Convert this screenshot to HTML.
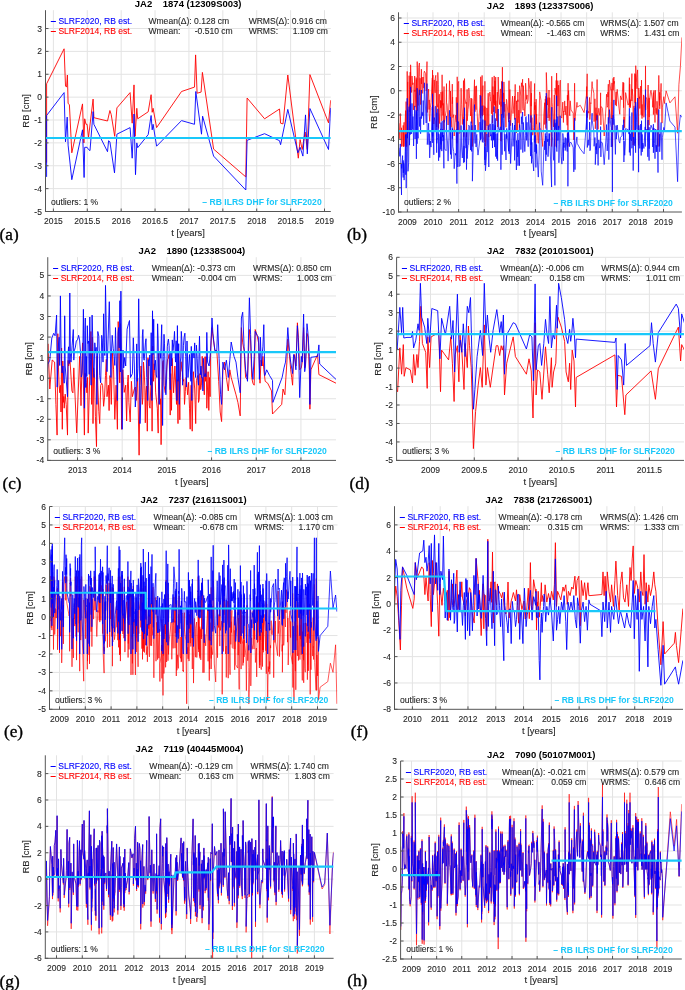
<!DOCTYPE html>
<html><head><meta charset="utf-8"><style>
html,body{margin:0;padding:0;background:#fff;width:685px;height:990px;overflow:hidden}
svg{display:block;will-change:transform}
text{font-family:"Liberation Sans", sans-serif;}
.tk{font-size:8.5px;fill:#262626;stroke:#262626;stroke-width:0.1px}
.lg{font-size:8.55px;fill:#262626;stroke:#262626;stroke-width:0.1px}
.al{font-size:9.45px;fill:#262626;stroke:#262626;stroke-width:0.1px}
.ti{font-size:9.5px;font-weight:bold;fill:#000}
.cy{font-size:8.6px;font-weight:bold;fill:#19c8fa}
.pl{font-family:"Liberation Serif", serif;font-size:17.2px;fill:#000;stroke:#000;stroke-width:0.35px}
</style></head><body>
<svg width="685" height="990" viewBox="0 0 685 990">
<rect width="685" height="990" fill="#fff"/>
<g>
<line x1="53.40" y1="10.20" x2="53.40" y2="211.50" stroke="#e3e3e3" stroke-width="1"/>
<line x1="87.29" y1="10.20" x2="87.29" y2="211.50" stroke="#e3e3e3" stroke-width="1"/>
<line x1="121.18" y1="10.20" x2="121.18" y2="211.50" stroke="#e3e3e3" stroke-width="1"/>
<line x1="155.06" y1="10.20" x2="155.06" y2="211.50" stroke="#e3e3e3" stroke-width="1"/>
<line x1="188.95" y1="10.20" x2="188.95" y2="211.50" stroke="#e3e3e3" stroke-width="1"/>
<line x1="222.84" y1="10.20" x2="222.84" y2="211.50" stroke="#e3e3e3" stroke-width="1"/>
<line x1="256.73" y1="10.20" x2="256.73" y2="211.50" stroke="#e3e3e3" stroke-width="1"/>
<line x1="290.61" y1="10.20" x2="290.61" y2="211.50" stroke="#e3e3e3" stroke-width="1"/>
<line x1="324.50" y1="10.20" x2="324.50" y2="211.50" stroke="#e3e3e3" stroke-width="1"/>
<line x1="45.50" y1="188.63" x2="330.80" y2="188.63" stroke="#e3e3e3" stroke-width="1"/>
<line x1="45.50" y1="165.76" x2="330.80" y2="165.76" stroke="#e3e3e3" stroke-width="1"/>
<line x1="45.50" y1="142.89" x2="330.80" y2="142.89" stroke="#e3e3e3" stroke-width="1"/>
<line x1="45.50" y1="120.01" x2="330.80" y2="120.01" stroke="#e3e3e3" stroke-width="1"/>
<line x1="45.50" y1="97.14" x2="330.80" y2="97.14" stroke="#e3e3e3" stroke-width="1"/>
<line x1="45.50" y1="74.27" x2="330.80" y2="74.27" stroke="#e3e3e3" stroke-width="1"/>
<line x1="45.50" y1="51.40" x2="330.80" y2="51.40" stroke="#e3e3e3" stroke-width="1"/>
<line x1="45.50" y1="28.53" x2="330.80" y2="28.53" stroke="#e3e3e3" stroke-width="1"/>
<clipPath id="ca"><rect x="45.5" y="10.2" width="285.3" height="201.3"/></clipPath>
<g clip-path="url(#ca)" fill="none" stroke-linejoin="round">
<path d="M46.6,162.6 46.6,83.8 64.1,48.8 65.5,86.0 66.6,87.1 67.4,75.0 68.1,103.5 69.4,104.6 71.8,152.8 82.5,103.9 83.9,142.9 84.7,118.8 86.0,124.3 87.1,124.3 88.5,137.4 93.1,99.1 93.9,117.7 107.5,121.0 109.9,110.5 111.2,114.5 114.7,136.3 116.9,107.9 130.1,92.6 132.2,123.2 134.0,84.9 135.1,136.3 136.8,108.3 137.7,118.8 148.2,111.8 151.1,94.7 152.2,112.3 153.1,108.3 156.6,127.6 181.5,91.5 194.5,87.1 195.6,54.9 197.1,93.2 201.1,92.1 202.4,72.4 213.6,149.1 245.8,176.9 247.1,98.0 264.6,118.8 279.5,109.0 280.6,123.2 283.0,123.9 287.8,75.0 298.3,158.2 300.1,139.6 302.2,149.5 305.1,132.0 307.3,149.5 309.9,74.6 328.5,122.8 330.7,100.2" stroke="#ff0000" stroke-width="0.9"/>
<path d="M46.6,176.9 46.6,115.5 64.1,92.6 65.5,141.8 67.2,117.1 68.1,145.1 71.8,179.7 82.5,129.8 84.1,177.5 84.7,147.3 87.1,147.3 88.5,149.5 90.0,150.6 93.1,111.6 93.9,124.3 107.5,151.7 108.6,140.7 109.9,141.8 114.5,172.9 116.9,134.2 130.1,127.6 132.2,158.2 134.0,114.0 135.5,174.7 136.8,142.9 137.7,147.7 148.2,134.6 151.1,115.5 152.2,129.8 153.1,124.3 156.6,146.2 181.5,120.6 194.5,124.3 195.8,91.5 201.5,134.2 202.6,116.2 213.6,156.1 245.8,190.0 247.1,140.3 264.6,133.7 279.5,140.7 280.6,144.7 287.8,109.4 297.9,152.8 300.1,147.3 302.9,156.1 305.5,114.9 307.3,153.9 309.9,108.5 328.5,149.5 330.7,107.9" stroke="#0000ff" stroke-width="0.9"/>
<path d="M45.5,138.0 330.8,138.0" stroke="#19c8fa" stroke-width="2.2"/>
</g>
<line x1="45.50" y1="10.20" x2="45.50" y2="212.00" stroke="#555555" stroke-width="1"/>
<line x1="45.00" y1="211.50" x2="330.80" y2="211.50" stroke="#555555" stroke-width="1"/>
<line x1="53.40" y1="211.50" x2="53.40" y2="208.50" stroke="#555555" stroke-width="1"/>
<text x="53.40" y="224.30" text-anchor="middle" class="tk">2015</text>
<line x1="87.29" y1="211.50" x2="87.29" y2="208.50" stroke="#555555" stroke-width="1"/>
<text x="87.29" y="224.30" text-anchor="middle" class="tk">2015.5</text>
<line x1="121.18" y1="211.50" x2="121.18" y2="208.50" stroke="#555555" stroke-width="1"/>
<text x="121.18" y="224.30" text-anchor="middle" class="tk">2016</text>
<line x1="155.06" y1="211.50" x2="155.06" y2="208.50" stroke="#555555" stroke-width="1"/>
<text x="155.06" y="224.30" text-anchor="middle" class="tk">2016.5</text>
<line x1="188.95" y1="211.50" x2="188.95" y2="208.50" stroke="#555555" stroke-width="1"/>
<text x="188.95" y="224.30" text-anchor="middle" class="tk">2017</text>
<line x1="222.84" y1="211.50" x2="222.84" y2="208.50" stroke="#555555" stroke-width="1"/>
<text x="222.84" y="224.30" text-anchor="middle" class="tk">2017.5</text>
<line x1="256.73" y1="211.50" x2="256.73" y2="208.50" stroke="#555555" stroke-width="1"/>
<text x="256.73" y="224.30" text-anchor="middle" class="tk">2018</text>
<line x1="290.61" y1="211.50" x2="290.61" y2="208.50" stroke="#555555" stroke-width="1"/>
<text x="290.61" y="224.30" text-anchor="middle" class="tk">2018.5</text>
<line x1="324.50" y1="211.50" x2="324.50" y2="208.50" stroke="#555555" stroke-width="1"/>
<text x="324.50" y="224.30" text-anchor="middle" class="tk">2019</text>
<line x1="45.50" y1="211.50" x2="48.50" y2="211.50" stroke="#555555" stroke-width="1"/>
<text x="41.90" y="214.50" text-anchor="end" class="tk">-5</text>
<line x1="45.50" y1="188.63" x2="48.50" y2="188.63" stroke="#555555" stroke-width="1"/>
<text x="41.90" y="191.63" text-anchor="end" class="tk">-4</text>
<line x1="45.50" y1="165.76" x2="48.50" y2="165.76" stroke="#555555" stroke-width="1"/>
<text x="41.90" y="168.76" text-anchor="end" class="tk">-3</text>
<line x1="45.50" y1="142.89" x2="48.50" y2="142.89" stroke="#555555" stroke-width="1"/>
<text x="41.90" y="145.89" text-anchor="end" class="tk">-2</text>
<line x1="45.50" y1="120.01" x2="48.50" y2="120.01" stroke="#555555" stroke-width="1"/>
<text x="41.90" y="123.01" text-anchor="end" class="tk">-1</text>
<line x1="45.50" y1="97.14" x2="48.50" y2="97.14" stroke="#555555" stroke-width="1"/>
<text x="41.90" y="100.14" text-anchor="end" class="tk">0</text>
<line x1="45.50" y1="74.27" x2="48.50" y2="74.27" stroke="#555555" stroke-width="1"/>
<text x="41.90" y="77.27" text-anchor="end" class="tk">1</text>
<line x1="45.50" y1="51.40" x2="48.50" y2="51.40" stroke="#555555" stroke-width="1"/>
<text x="41.90" y="54.40" text-anchor="end" class="tk">2</text>
<line x1="45.50" y1="28.53" x2="48.50" y2="28.53" stroke="#555555" stroke-width="1"/>
<text x="41.90" y="31.53" text-anchor="end" class="tk">3</text>
<text x="188.15" y="235.90" text-anchor="middle" class="al">t [years]</text>
<text transform="translate(29.20,110.85) rotate(-90)" text-anchor="middle" class="al">RB [cm]</text>
<text x="188.15" y="6.90" text-anchor="middle" class="ti" style="white-space:pre">JA2    1874 (12309S003)</text>
<line x1="50.80" y1="21.50" x2="55.90" y2="21.50" stroke="#0000ff" stroke-width="1"/>
<line x1="50.80" y1="31.50" x2="55.90" y2="31.50" stroke="#ff0000" stroke-width="1"/>
<text x="58.40" y="24.10" class="lg" style="fill:#0000ff;stroke:#0000ff">SLRF2020, RB est.</text>
<text x="58.40" y="34.00" class="lg" style="fill:#ff0000;stroke:#ff0000">SLRF2014, RB est.</text>
<text x="148.44" y="24.10" class="lg">Wmean(Δ): 0.128 cm</text>
<text x="148.44" y="34.00" class="lg">Wmean:</text>
<text x="232.74" y="34.00" class="lg" text-anchor="end">-0.510 cm</text>
<text x="248.63" y="24.10" class="lg">WRMS(Δ): 0.916 cm</text>
<text x="248.63" y="34.00" class="lg">WRMS:</text>
<text x="327.83" y="34.00" class="lg" text-anchor="end">1.109 cm</text>
<text x="51.10" y="204.70" class="lg">outliers: 1 %</text>
<text x="321.70" y="205.20" class="cy" text-anchor="end">– RB ILRS DHF for SLRF2020</text>
<text x="-0.40" y="239.70" class="pl">(a)</text>
</g>
<g>
<line x1="407.40" y1="12.30" x2="407.40" y2="212.00" stroke="#e3e3e3" stroke-width="1"/>
<line x1="433.01" y1="12.30" x2="433.01" y2="212.00" stroke="#e3e3e3" stroke-width="1"/>
<line x1="458.62" y1="12.30" x2="458.62" y2="212.00" stroke="#e3e3e3" stroke-width="1"/>
<line x1="484.23" y1="12.30" x2="484.23" y2="212.00" stroke="#e3e3e3" stroke-width="1"/>
<line x1="509.84" y1="12.30" x2="509.84" y2="212.00" stroke="#e3e3e3" stroke-width="1"/>
<line x1="535.45" y1="12.30" x2="535.45" y2="212.00" stroke="#e3e3e3" stroke-width="1"/>
<line x1="561.06" y1="12.30" x2="561.06" y2="212.00" stroke="#e3e3e3" stroke-width="1"/>
<line x1="586.67" y1="12.30" x2="586.67" y2="212.00" stroke="#e3e3e3" stroke-width="1"/>
<line x1="612.28" y1="12.30" x2="612.28" y2="212.00" stroke="#e3e3e3" stroke-width="1"/>
<line x1="637.89" y1="12.30" x2="637.89" y2="212.00" stroke="#e3e3e3" stroke-width="1"/>
<line x1="663.50" y1="12.30" x2="663.50" y2="212.00" stroke="#e3e3e3" stroke-width="1"/>
<line x1="398.50" y1="187.75" x2="681.90" y2="187.75" stroke="#e3e3e3" stroke-width="1"/>
<line x1="398.50" y1="163.50" x2="681.90" y2="163.50" stroke="#e3e3e3" stroke-width="1"/>
<line x1="398.50" y1="139.25" x2="681.90" y2="139.25" stroke="#e3e3e3" stroke-width="1"/>
<line x1="398.50" y1="115.00" x2="681.90" y2="115.00" stroke="#e3e3e3" stroke-width="1"/>
<line x1="398.50" y1="90.75" x2="681.90" y2="90.75" stroke="#e3e3e3" stroke-width="1"/>
<line x1="398.50" y1="66.50" x2="681.90" y2="66.50" stroke="#e3e3e3" stroke-width="1"/>
<line x1="398.50" y1="42.25" x2="681.90" y2="42.25" stroke="#e3e3e3" stroke-width="1"/>
<line x1="398.50" y1="18.00" x2="681.90" y2="18.00" stroke="#e3e3e3" stroke-width="1"/>
<clipPath id="cb"><rect x="398.5" y="12.3" width="283.4" height="199.7"/></clipPath>
<g clip-path="url(#cb)" fill="none" stroke-linejoin="round">
<path d="M399.0,123.2 399.8,138.7 400.3,113.5 401.5,146.5 401.5,127.8 401.7,132.2 402.6,130.8 402.9,145.7 403.2,146.5 403.2,125.4 403.4,146.5 403.4,132.7 404.1,122.3 404.1,146.5 405.0,125.9 405.2,120.4 405.6,110.6 405.7,137.5 406.1,124.1 406.1,101.6 406.2,146.5 406.3,140.5 406.7,146.5 407.1,116.5 407.2,71.4 407.5,105.1 407.7,81.9 407.9,112.7 408.0,133.2 408.7,130.1 409.1,75.7 409.5,89.6 409.5,111.9 410.2,72.1 410.4,115.8 410.5,75.5 410.6,64.8 411.4,91.0 411.6,92.5 412.0,76.0 412.7,84.7 413.0,82.8 413.6,109.9 414.7,76.0 414.9,91.6 414.9,89.9 415.1,107.2 416.2,77.6 416.4,118.7 416.4,87.8 416.4,102.5 416.4,79.5 417.2,110.7 417.2,61.6 417.5,77.4 418.1,105.5 418.7,67.4 419.4,63.0 419.6,76.4 419.6,95.1 420.1,78.2 420.6,104.6 420.8,101.4 421.4,69.2 421.5,83.9 421.9,77.2 422.2,92.7 422.7,93.4 423.1,77.0 423.2,87.7 423.7,87.9 424.0,73.1 424.4,71.2 425.6,73.7 426.2,90.8 427.0,61.6 427.1,87.4 427.3,112.5 428.6,89.0 429.1,105.6 429.1,109.5 429.2,99.9 429.2,113.7 429.7,121.4 430.4,107.3 431.0,102.4 432.3,77.9 432.3,109.9 432.5,108.7 432.5,70.1 432.7,104.0 432.7,79.2 433.0,75.2 433.2,84.8 433.8,124.0 433.9,103.3 434.2,79.9 435.1,92.8 435.2,81.6 435.2,78.5 435.8,75.3 436.7,127.0 436.8,80.9 436.8,103.1 437.0,103.9 437.8,107.3 437.8,72.4 438.3,84.6 438.6,128.5 438.8,103.8 439.1,103.0 439.3,94.2 439.3,112.2 439.7,123.6 440.8,100.1 440.8,108.1 440.8,104.2 440.9,100.9 441.0,107.2 441.0,92.5 441.0,91.9 441.8,111.7 441.8,120.9 441.9,100.6 442.1,74.8 442.4,105.3 442.7,91.5 443.0,115.5 443.2,103.3 443.3,105.0 443.9,129.9 444.0,86.5 444.4,122.4 446.1,110.3 446.5,83.6 446.6,102.5 447.2,105.2 447.5,114.2 448.1,125.0 449.1,99.4 449.5,80.7 450.5,116.7 450.5,91.1 451.3,119.1 451.9,127.3 452.3,84.1 452.3,103.8 452.6,97.0 452.9,117.6 453.7,114.7 454.2,136.0 455.2,120.7 455.7,115.2 456.3,121.8 456.3,97.3 456.5,116.8 456.9,143.3 457.2,76.8 457.8,132.3 457.9,120.9 458.1,83.2 458.7,81.4 459.2,129.7 459.3,133.5 460.1,132.6 461.1,88.2 461.6,104.2 462.3,124.5 463.1,107.1 463.5,80.6 463.7,136.8 464.0,116.9 464.3,131.2 464.5,78.6 464.7,85.0 464.8,98.0 466.0,103.7 466.2,102.2 466.5,137.1 467.1,89.4 467.2,120.2 467.3,120.8 468.0,109.6 468.5,106.1 468.8,91.6 468.8,88.0 469.6,98.3 470.6,116.0 471.1,98.0 471.6,123.3 471.8,98.7 472.3,111.3 472.4,146.5 473.2,115.4 474.5,79.7 474.6,101.8 475.1,111.7 475.1,99.1 475.2,86.2 475.8,108.4 476.1,109.6 476.5,85.8 476.9,105.9 477.2,112.7 478.0,131.2 479.9,106.0 480.0,99.3 480.1,95.0 480.5,108.8 480.6,118.2 480.7,76.8 480.9,115.3 481.7,95.4 482.1,75.4 482.2,107.4 482.4,116.2 482.4,97.6 482.9,85.6 483.0,115.1 483.9,105.6 484.6,107.6 484.9,141.8 484.9,81.3 485.0,124.8 485.0,133.3 485.0,106.7 485.5,146.5 486.8,128.6 486.9,107.9 487.1,125.8 488.2,93.2 488.8,137.2 489.0,101.2 489.2,97.2 489.9,92.0 490.5,96.6 490.5,101.1 491.1,101.6 491.4,113.8 492.2,77.2 492.5,122.9 492.9,86.5 493.6,111.9 493.6,94.8 494.0,103.3 494.2,75.9 494.6,105.3 494.7,101.9 494.9,80.8 495.3,89.7 495.4,104.4 495.4,105.9 495.7,77.1 495.7,113.3 495.8,100.7 496.7,120.8 497.3,92.1 497.6,127.0 497.6,119.1 497.9,104.1 498.2,77.0 498.7,94.8 499.5,104.6 500.4,88.9 500.9,128.5 500.9,141.2 501.0,101.7 501.2,106.5 501.6,93.5 501.6,81.3 502.1,115.1 502.4,67.2 502.7,99.3 503.5,92.9 503.7,117.7 503.9,81.9 504.3,92.9 504.7,111.6 504.9,104.0 506.0,127.3 506.4,100.1 506.4,99.3 506.7,100.0 508.2,116.2 508.6,122.1 509.0,80.7 509.2,119.1 509.9,89.5 510.6,125.7 512.5,96.1 513.0,113.6 514.5,96.0 514.6,109.9 514.6,119.5 514.6,116.0 514.7,102.3 515.2,84.4 516.2,128.3 516.4,133.0 516.5,104.7 516.5,100.8 517.7,130.1 517.8,118.3 517.8,99.7 517.9,101.8 517.9,92.0 518.0,122.9 518.6,115.3 518.8,110.1 519.5,127.6 519.6,85.7 520.9,96.1 520.9,113.3 521.4,82.8 522.0,86.6 522.3,83.9 522.6,79.2 522.7,101.1 522.8,108.4 523.2,110.3 523.3,85.6 524.8,116.1 525.0,113.9 525.5,101.6 525.6,83.2 526.2,93.1 526.4,95.6 526.6,99.4 527.0,95.0 527.2,103.6 528.2,99.9 528.6,78.2 529.8,89.4 530.6,122.5 531.0,81.3 531.1,106.2 531.4,93.1 531.5,130.2 531.9,117.6 532.2,124.5 532.7,135.2 533.7,127.5 534.6,83.5 534.7,109.8 534.8,107.0 534.9,102.2 534.9,114.9 535.2,105.3 535.9,143.2 536.1,99.1 536.5,124.1 536.6,114.1 536.6,117.4 537.9,140.4 538.3,143.3 539.1,116.7 539.6,95.4 539.7,91.9 541.0,100.5 541.2,129.9 542.7,146.5 543.8,115.0 544.7,102.7 544.7,124.5 545.3,98.9 545.7,106.9 545.8,124.1 545.8,128.5 545.9,96.2 546.0,102.2 546.3,123.4 546.3,72.5 547.5,105.1 548.0,97.6 548.0,118.0 548.6,107.3 549.0,90.0 549.1,114.7 549.1,120.9 549.7,113.7 549.7,97.7 551.6,146.5 551.6,146.5 551.7,76.2 552.0,102.5 552.4,106.5 553.5,126.9 553.8,122.0 554.3,95.0 554.9,146.5 554.9,100.1 555.0,88.1 556.0,94.6 556.2,80.4 556.5,112.0 556.6,73.1 556.7,117.6 556.9,113.8 557.1,99.8 557.8,80.6 557.9,106.1 558.6,85.1 558.9,115.6 558.9,128.4 559.8,85.0 560.1,80.9 560.4,80.1 560.9,107.3 561.2,117.0 561.9,118.1 562.8,102.1 562.8,105.8 563.4,113.4 563.4,122.5 563.6,111.0 564.1,111.8 564.3,111.3 564.7,100.9 564.7,101.7 565.2,110.3 565.2,114.9 566.0,106.1 567.2,125.3 567.4,95.2 567.9,119.1 567.9,146.5 568.1,83.2 568.1,100.3 568.6,90.6 569.6,115.0 569.8,115.8 570.2,100.8 571.0,110.0 573.2,113.1 573.8,139.9 574.6,83.2 575.0,120.7 575.1,116.6 576.9,104.2 577.0,102.3 577.1,107.1 580.3,105.3 584.1,112.6 586.4,95.5 586.7,86.6 586.7,98.4 587.2,73.8 587.3,117.7 587.9,111.8 588.6,111.3 588.8,113.2 589.3,101.3 589.6,97.4 589.8,119.6 590.4,113.5 590.8,102.7 590.9,103.6 592.1,81.6 592.3,86.3 593.9,93.3 594.1,121.6 594.9,98.8 595.3,111.7 595.3,128.8 596.0,107.7 596.1,120.5 596.3,113.6 596.8,120.1 597.1,79.5 597.1,99.3 597.3,109.6 598.0,129.3 598.1,128.5 598.2,114.4 598.8,108.3 599.7,115.4 600.3,112.2 600.6,92.8 600.7,103.1 600.9,124.9 601.0,108.2 601.1,106.5 602.5,108.3 604.2,136.0 606.1,105.3 606.5,94.2 607.0,103.0 607.2,107.3 607.8,105.6 607.9,92.2 607.9,97.1 608.3,84.2 608.8,109.4 608.8,123.4 609.4,80.1 610.8,90.2 611.2,89.5 611.2,100.0 611.3,118.9 611.4,101.9 611.6,101.5 612.0,82.9 612.1,93.8 612.4,146.5 612.7,106.8 612.9,84.7 613.1,78.4 613.2,90.3 613.9,77.0 614.0,83.5 614.2,81.7 614.4,81.2 615.4,104.9 616.0,92.0 616.3,91.9 616.3,106.1 617.2,89.3 619.0,108.2 619.8,114.3 620.5,95.9 621.9,99.8 623.0,82.1 623.6,107.7 623.7,82.8 623.9,122.7 624.1,117.0 624.7,127.8 625.4,104.0 625.6,92.6 628.1,105.1 629.0,103.0 629.0,100.8 629.4,77.7 629.4,107.6 629.7,84.1 630.3,107.8 630.3,99.7 630.4,106.5 631.4,95.7 631.7,83.0 631.9,73.6 631.9,101.0 632.2,88.9 632.9,96.3 633.2,145.1 633.6,106.2 634.8,107.3 634.8,73.5 635.1,103.1 635.3,74.2 635.6,110.2 635.7,65.7 636.7,82.8 637.0,88.8 637.0,83.7 637.1,77.7 637.2,74.9 637.6,69.9 638.2,100.6 638.5,116.7 638.6,145.3 638.6,101.2 638.7,91.9 638.8,88.0 639.5,98.5 639.6,96.8 639.8,108.5 640.1,103.0 640.7,86.1 641.2,114.7 641.5,80.1 642.0,118.6 642.1,104.4 642.2,115.7 642.8,113.2 643.5,94.9 643.9,117.3 645.2,95.6 645.3,106.5 645.5,65.9 645.7,110.1 645.9,97.3 647.0,98.9 647.7,109.5 647.8,130.5 647.8,93.2 648.1,85.0 649.1,125.2 649.1,97.9 649.2,117.1 649.5,100.6 650.5,92.0 651.0,90.2 652.5,100.8 652.7,107.3 653.4,92.5 653.4,114.6 653.5,110.2 653.9,90.4 654.6,108.5 655.0,122.5 655.3,90.2 656.2,113.5 656.2,108.3 657.0,114.8 657.0,101.3 657.8,115.7 658.0,146.5 658.2,100.8 658.8,75.4 659.0,83.6 659.3,101.6 659.5,105.6 659.6,92.3 659.6,100.0 659.7,96.2 659.7,108.9 661.1,83.4 661.3,92.8 662.0,123.1 662.4,107.1 663.8,96.7 664.5,103.5 666.1,90.8 669.9,102.9 675.0,96.8 677.6,133.2 678.9,84.7 680.4,66.5 681.9,37.4" stroke="#ff0000" stroke-width="0.7"/>
<path d="M399.0,147.8 399.8,156.4 400.3,143.9 401.5,195.0 401.5,164.1 401.7,168.4 402.6,155.6 402.9,173.7 403.2,177.5 403.2,160.4 403.4,172.8 403.4,162.7 404.1,164.3 404.1,180.1 405.0,158.3 405.2,151.5 405.6,134.7 405.7,174.7 406.1,157.2 406.1,134.1 406.2,188.1 406.3,176.9 406.7,168.1 407.1,151.4 407.2,98.3 407.5,138.2 407.7,109.7 407.9,139.7 408.0,171.3 408.7,162.6 409.1,106.7 409.5,120.7 409.5,145.2 410.2,104.5 410.4,134.5 410.5,103.3 410.6,86.9 411.4,128.6 411.6,133.9 412.0,103.4 412.7,129.5 413.0,116.5 413.6,146.0 414.7,105.9 414.9,121.1 414.9,131.8 415.1,139.0 416.2,110.1 416.4,158.9 416.4,131.5 416.4,126.6 416.4,111.5 417.2,143.8 417.2,88.2 417.5,125.6 418.1,138.4 418.7,96.7 419.4,89.8 419.6,116.7 419.6,126.5 420.1,116.7 420.6,133.7 420.8,118.4 421.4,90.0 421.5,118.6 421.9,115.3 422.2,112.3 422.7,115.8 423.1,110.2 423.2,100.5 423.7,124.7 424.0,112.0 424.4,82.8 425.6,110.0 426.2,123.0 427.0,83.6 427.1,122.6 427.3,144.6 428.6,123.2 429.1,144.8 429.1,144.2 429.2,133.6 429.2,138.5 429.7,157.9 430.4,141.1 431.0,147.1 432.3,106.8 432.3,142.9 432.5,138.4 432.5,93.8 432.7,136.3 432.7,105.1 433.0,109.8 433.2,129.2 433.8,154.8 433.9,130.7 434.2,117.5 435.1,121.4 435.2,131.5 435.2,106.6 435.8,106.2 436.7,152.7 436.8,112.7 436.8,143.4 437.0,140.2 437.8,137.7 437.8,108.8 438.3,122.7 438.6,160.8 438.8,133.7 439.1,135.0 439.3,136.1 439.3,141.2 439.7,157.4 440.8,128.8 440.8,149.4 440.8,136.9 440.9,139.8 441.0,144.4 441.0,122.6 441.0,129.8 441.8,151.1 441.8,147.6 441.9,138.6 442.1,121.1 442.4,137.1 442.7,129.1 443.0,141.1 443.2,139.8 443.3,135.1 443.9,168.3 444.0,119.9 444.4,148.9 446.1,150.7 446.5,115.9 446.6,130.0 447.2,139.2 447.5,142.0 448.1,161.1 449.1,132.7 449.5,110.3 450.5,154.4 450.5,116.9 451.3,158.8 451.9,148.7 452.3,127.6 452.3,138.6 452.6,129.0 452.9,146.8 453.7,151.7 454.2,168.7 455.2,153.3 455.7,155.2 456.3,152.8 456.3,129.5 456.5,153.1 456.9,183.6 457.2,102.8 457.8,167.0 457.9,154.9 458.1,121.4 458.7,123.1 459.2,157.7 459.3,166.3 460.1,166.0 461.1,125.5 461.6,147.1 462.3,158.0 463.1,142.1 463.5,119.2 463.7,162.8 464.0,145.9 464.3,162.1 464.5,107.7 464.7,120.1 464.8,128.5 466.0,148.2 466.2,131.6 466.5,169.6 467.1,129.8 467.2,158.6 467.3,154.4 468.0,145.5 468.5,144.8 468.8,125.1 468.8,125.6 469.6,126.3 470.6,150.1 471.1,121.6 471.6,151.4 471.8,125.3 472.3,152.6 472.4,181.2 473.2,150.9 474.5,104.6 474.6,134.2 475.1,143.5 475.1,127.4 475.2,125.0 475.8,131.7 476.1,147.0 476.5,135.7 476.9,134.4 477.2,146.4 478.0,155.1 479.9,139.4 480.0,122.1 480.1,132.3 480.5,139.2 480.6,140.2 480.7,95.6 480.9,138.9 481.7,127.0 482.1,105.7 482.2,138.3 482.4,142.3 482.4,125.8 482.9,119.6 483.0,133.4 483.9,142.5 484.6,143.3 484.9,159.8 484.9,120.5 485.0,147.8 485.0,165.1 485.0,147.0 485.5,170.8 486.8,150.2 486.9,134.0 487.1,152.1 488.2,125.3 488.8,167.0 489.0,131.1 489.2,127.2 489.9,123.9 490.5,124.3 490.5,136.1 491.1,134.5 491.4,140.4 492.2,115.3 492.5,148.0 492.9,124.1 493.6,140.3 493.6,130.1 494.0,139.5 494.2,106.4 494.6,147.1 494.7,129.7 494.9,129.8 495.3,125.3 495.4,132.5 495.4,130.6 495.7,118.4 495.7,156.6 495.8,133.7 496.7,158.7 497.3,133.4 497.6,160.7 497.6,149.6 497.9,137.1 498.2,109.0 498.7,128.1 499.5,130.1 500.4,126.8 500.9,151.0 500.9,169.7 501.0,142.6 501.2,141.2 501.6,128.1 501.6,114.1 502.1,154.7 502.4,81.6 502.7,120.4 503.5,127.6 503.7,131.9 503.9,102.0 504.3,135.9 504.7,151.2 504.9,134.3 506.0,160.0 506.4,133.8 506.4,138.7 506.7,128.4 508.2,144.0 508.6,151.3 509.0,112.8 509.2,153.9 509.9,120.3 510.6,163.6 512.5,123.0 513.0,146.4 514.5,125.0 514.6,136.9 514.6,160.4 514.6,147.3 514.7,129.3 515.2,117.9 516.2,155.4 516.4,170.0 516.5,143.3 516.5,140.5 517.7,156.9 517.8,150.7 517.8,144.5 517.9,133.8 517.9,133.2 518.0,165.7 518.6,140.1 518.8,151.0 519.5,165.7 519.6,124.6 520.9,140.0 520.9,149.6 521.4,116.7 522.0,123.9 522.3,115.2 522.6,112.0 522.7,122.2 522.8,152.6 523.2,140.5 523.3,122.4 524.8,151.6 525.0,148.1 525.5,135.8 525.6,117.2 526.2,116.6 526.4,125.8 526.6,140.4 527.0,122.3 527.2,130.7 528.2,146.7 528.6,114.3 529.8,132.8 530.6,156.1 531.0,115.4 531.1,144.6 531.4,130.3 531.5,163.3 531.9,142.3 532.2,153.6 532.7,159.6 533.7,171.0 534.6,114.7 534.7,142.4 534.8,142.5 534.9,136.0 534.9,151.9 535.2,135.1 535.9,167.4 536.1,143.6 536.5,153.4 536.6,144.8 536.6,146.2 537.9,170.7 538.3,177.1 539.1,155.1 539.6,122.6 539.7,127.4 541.0,130.1 541.2,171.1 542.7,185.3 543.8,149.4 544.7,140.9 544.7,149.9 545.3,133.4 545.7,141.6 545.8,152.9 545.8,161.0 545.9,136.0 546.0,137.5 546.3,154.6 546.3,93.1 547.5,141.7 548.0,139.2 548.0,156.7 548.6,145.6 549.0,133.4 549.1,139.0 549.1,145.9 549.7,133.6 549.7,136.7 551.6,187.0 551.6,185.0 551.7,107.2 552.0,127.7 552.4,136.3 553.5,159.1 553.8,160.4 554.3,119.6 554.9,185.4 554.9,138.2 555.0,122.8 556.0,129.5 556.2,119.5 556.5,147.3 556.6,95.7 556.7,149.4 556.9,151.6 557.1,131.9 557.8,116.5 557.9,140.6 558.6,125.9 558.9,144.7 558.9,162.8 559.8,121.1 560.1,115.7 560.4,118.3 560.9,143.7 561.2,156.5 561.9,164.1 562.8,141.2 562.8,133.4 563.4,138.8 563.4,160.7 563.6,142.7 564.1,147.6 564.3,144.3 564.7,143.0 564.7,143.1 565.2,137.5 565.2,150.6 566.0,138.3 567.2,151.5 567.4,133.3 567.9,152.3 567.9,186.3 568.1,132.3 568.1,142.5 568.6,131.4 569.6,146.7 569.8,142.8 570.2,142.6 571.0,142.3 573.2,147.7 573.8,171.9 574.6,118.0 575.0,169.6 575.1,149.0 576.9,136.9 577.0,137.9 577.1,143.2 580.3,149.0 584.1,153.8 586.4,122.7 586.7,110.4 586.7,129.4 587.2,96.7 587.3,147.5 587.9,140.3 588.6,140.1 588.8,145.4 589.3,135.1 589.6,122.0 589.8,150.8 590.4,150.2 590.8,136.5 590.9,129.8 592.1,113.2 592.3,120.7 593.9,132.6 594.1,146.3 594.9,137.5 595.3,143.5 595.3,164.6 596.0,146.5 596.1,149.8 596.3,143.3 596.8,154.1 597.1,115.2 597.1,130.6 597.3,135.7 598.0,159.7 598.1,165.4 598.2,156.0 598.8,139.9 599.7,148.1 600.3,145.8 600.6,126.6 600.7,132.0 600.9,156.9 601.0,144.1 601.1,141.7 602.5,143.1 604.2,164.6 606.1,136.8 606.5,124.6 607.0,144.1 607.2,150.9 607.8,142.4 607.9,136.6 607.9,130.2 608.3,117.3 608.8,136.4 608.8,159.6 609.4,109.6 610.8,125.6 611.2,127.3 611.2,133.4 611.3,147.0 611.4,136.5 611.6,136.0 612.0,118.0 612.1,132.8 612.4,192.0 612.7,140.2 612.9,130.1 613.1,115.1 613.2,124.7 613.9,99.9 614.0,115.9 614.2,118.3 614.4,120.0 615.4,154.4 616.0,125.6 616.3,127.9 616.3,139.1 617.2,125.0 619.0,141.1 619.8,143.1 620.5,137.3 621.9,135.9 623.0,124.9 623.6,140.0 623.7,119.7 623.9,162.0 624.1,141.1 624.7,155.3 625.4,144.0 625.6,128.6 628.1,129.7 629.0,134.1 629.0,130.1 629.4,108.2 629.4,152.4 629.7,116.2 630.3,155.6 630.3,133.8 630.4,137.8 631.4,140.8 631.7,124.4 631.9,112.5 631.9,148.3 632.2,131.0 632.9,139.4 633.2,170.6 633.6,137.0 634.8,145.8 634.8,107.7 635.1,143.3 635.3,105.8 635.6,152.7 635.7,102.1 636.7,122.2 637.0,129.7 637.0,122.8 637.1,119.2 637.2,112.2 637.6,98.0 638.2,137.8 638.5,153.4 638.6,172.2 638.6,138.6 638.7,128.2 638.8,125.3 639.5,131.3 639.6,135.8 639.8,148.4 640.1,134.9 640.7,124.1 641.2,155.5 641.5,120.7 642.0,149.2 642.1,134.4 642.2,151.9 642.8,143.0 643.5,146.0 643.9,148.5 645.2,126.9 645.3,146.5 645.5,89.6 645.7,132.1 645.9,132.5 647.0,129.0 647.7,142.3 647.8,156.8 647.8,123.7 648.1,120.0 649.1,160.6 649.1,127.2 649.2,148.7 649.5,131.3 650.5,128.7 651.0,125.2 652.5,129.2 652.7,147.0 653.4,124.2 653.4,152.8 653.5,140.6 653.9,128.0 654.6,143.7 655.0,158.7 655.3,129.0 656.2,152.0 656.2,145.2 657.0,151.7 657.0,129.6 657.8,151.1 658.0,172.6 658.2,123.3 658.8,109.5 659.0,118.2 659.3,146.4 659.5,145.6 659.6,134.9 659.6,134.1 659.7,134.8 659.7,151.8 661.1,122.5 661.3,131.0 662.0,159.7 662.4,137.7 663.8,127.4 664.5,131.1 666.1,102.9 669.9,121.1 675.0,127.1 677.6,181.7 678.9,129.6 680.4,115.0 681.9,117.4" stroke="#0000ff" stroke-width="0.7"/>
<path d="M398.5,131.1 681.9,131.1" stroke="#19c8fa" stroke-width="2.2"/>
</g>
<line x1="398.50" y1="12.30" x2="398.50" y2="212.50" stroke="#555555" stroke-width="1"/>
<line x1="398.00" y1="212.00" x2="681.90" y2="212.00" stroke="#555555" stroke-width="1"/>
<line x1="407.40" y1="212.00" x2="407.40" y2="209.00" stroke="#555555" stroke-width="1"/>
<text x="407.40" y="224.80" text-anchor="middle" class="tk">2009</text>
<line x1="433.01" y1="212.00" x2="433.01" y2="209.00" stroke="#555555" stroke-width="1"/>
<text x="433.01" y="224.80" text-anchor="middle" class="tk">2010</text>
<line x1="458.62" y1="212.00" x2="458.62" y2="209.00" stroke="#555555" stroke-width="1"/>
<text x="458.62" y="224.80" text-anchor="middle" class="tk">2011</text>
<line x1="484.23" y1="212.00" x2="484.23" y2="209.00" stroke="#555555" stroke-width="1"/>
<text x="484.23" y="224.80" text-anchor="middle" class="tk">2012</text>
<line x1="509.84" y1="212.00" x2="509.84" y2="209.00" stroke="#555555" stroke-width="1"/>
<text x="509.84" y="224.80" text-anchor="middle" class="tk">2013</text>
<line x1="535.45" y1="212.00" x2="535.45" y2="209.00" stroke="#555555" stroke-width="1"/>
<text x="535.45" y="224.80" text-anchor="middle" class="tk">2014</text>
<line x1="561.06" y1="212.00" x2="561.06" y2="209.00" stroke="#555555" stroke-width="1"/>
<text x="561.06" y="224.80" text-anchor="middle" class="tk">2015</text>
<line x1="586.67" y1="212.00" x2="586.67" y2="209.00" stroke="#555555" stroke-width="1"/>
<text x="586.67" y="224.80" text-anchor="middle" class="tk">2016</text>
<line x1="612.28" y1="212.00" x2="612.28" y2="209.00" stroke="#555555" stroke-width="1"/>
<text x="612.28" y="224.80" text-anchor="middle" class="tk">2017</text>
<line x1="637.89" y1="212.00" x2="637.89" y2="209.00" stroke="#555555" stroke-width="1"/>
<text x="637.89" y="224.80" text-anchor="middle" class="tk">2018</text>
<line x1="663.50" y1="212.00" x2="663.50" y2="209.00" stroke="#555555" stroke-width="1"/>
<text x="663.50" y="224.80" text-anchor="middle" class="tk">2019</text>
<line x1="398.50" y1="212.00" x2="401.50" y2="212.00" stroke="#555555" stroke-width="1"/>
<text x="394.90" y="215.00" text-anchor="end" class="tk">-10</text>
<line x1="398.50" y1="187.75" x2="401.50" y2="187.75" stroke="#555555" stroke-width="1"/>
<text x="394.90" y="190.75" text-anchor="end" class="tk">-8</text>
<line x1="398.50" y1="163.50" x2="401.50" y2="163.50" stroke="#555555" stroke-width="1"/>
<text x="394.90" y="166.50" text-anchor="end" class="tk">-6</text>
<line x1="398.50" y1="139.25" x2="401.50" y2="139.25" stroke="#555555" stroke-width="1"/>
<text x="394.90" y="142.25" text-anchor="end" class="tk">-4</text>
<line x1="398.50" y1="115.00" x2="401.50" y2="115.00" stroke="#555555" stroke-width="1"/>
<text x="394.90" y="118.00" text-anchor="end" class="tk">-2</text>
<line x1="398.50" y1="90.75" x2="401.50" y2="90.75" stroke="#555555" stroke-width="1"/>
<text x="394.90" y="93.75" text-anchor="end" class="tk">0</text>
<line x1="398.50" y1="66.50" x2="401.50" y2="66.50" stroke="#555555" stroke-width="1"/>
<text x="394.90" y="69.50" text-anchor="end" class="tk">2</text>
<line x1="398.50" y1="42.25" x2="401.50" y2="42.25" stroke="#555555" stroke-width="1"/>
<text x="394.90" y="45.25" text-anchor="end" class="tk">4</text>
<line x1="398.50" y1="18.00" x2="401.50" y2="18.00" stroke="#555555" stroke-width="1"/>
<text x="394.90" y="21.00" text-anchor="end" class="tk">6</text>
<text x="540.20" y="236.40" text-anchor="middle" class="al">t [years]</text>
<text transform="translate(377.40,112.15) rotate(-90)" text-anchor="middle" class="al">RB [cm]</text>
<text x="540.20" y="9.00" text-anchor="middle" class="ti" style="white-space:pre">JA2    1893 (12337S006)</text>
<line x1="403.80" y1="23.50" x2="408.90" y2="23.50" stroke="#0000ff" stroke-width="1"/>
<line x1="403.80" y1="33.50" x2="408.90" y2="33.50" stroke="#ff0000" stroke-width="1"/>
<text x="411.40" y="26.20" class="lg" style="fill:#0000ff;stroke:#0000ff">SLRF2020, RB est.</text>
<text x="411.40" y="36.10" class="lg" style="fill:#ff0000;stroke:#ff0000">SLRF2014, RB est.</text>
<text x="500.75" y="26.20" class="lg">Wmean(Δ): -0.565 cm</text>
<text x="500.75" y="36.10" class="lg">Wmean:</text>
<text x="585.05" y="36.10" class="lg" text-anchor="end">-1.463 cm</text>
<text x="600.28" y="26.20" class="lg">WRMS(Δ): 1.507 cm</text>
<text x="600.28" y="36.10" class="lg">WRMS:</text>
<text x="679.48" y="36.10" class="lg" text-anchor="end">1.431 cm</text>
<text x="404.10" y="205.20" class="lg">outliers: 2 %</text>
<text x="672.80" y="205.70" class="cy" text-anchor="end">– RB ILRS DHF for SLRF2020</text>
<text x="346.90" y="239.50" class="pl">(b)</text>
</g>
<g>
<line x1="77.50" y1="257.20" x2="77.50" y2="460.40" stroke="#e3e3e3" stroke-width="1"/>
<line x1="122.19" y1="257.20" x2="122.19" y2="460.40" stroke="#e3e3e3" stroke-width="1"/>
<line x1="166.88" y1="257.20" x2="166.88" y2="460.40" stroke="#e3e3e3" stroke-width="1"/>
<line x1="211.57" y1="257.20" x2="211.57" y2="460.40" stroke="#e3e3e3" stroke-width="1"/>
<line x1="256.26" y1="257.20" x2="256.26" y2="460.40" stroke="#e3e3e3" stroke-width="1"/>
<line x1="300.95" y1="257.20" x2="300.95" y2="460.40" stroke="#e3e3e3" stroke-width="1"/>
<line x1="47.75" y1="439.84" x2="336.00" y2="439.84" stroke="#e3e3e3" stroke-width="1"/>
<line x1="47.75" y1="419.29" x2="336.00" y2="419.29" stroke="#e3e3e3" stroke-width="1"/>
<line x1="47.75" y1="398.73" x2="336.00" y2="398.73" stroke="#e3e3e3" stroke-width="1"/>
<line x1="47.75" y1="378.18" x2="336.00" y2="378.18" stroke="#e3e3e3" stroke-width="1"/>
<line x1="47.75" y1="357.62" x2="336.00" y2="357.62" stroke="#e3e3e3" stroke-width="1"/>
<line x1="47.75" y1="337.07" x2="336.00" y2="337.07" stroke="#e3e3e3" stroke-width="1"/>
<line x1="47.75" y1="316.51" x2="336.00" y2="316.51" stroke="#e3e3e3" stroke-width="1"/>
<line x1="47.75" y1="295.96" x2="336.00" y2="295.96" stroke="#e3e3e3" stroke-width="1"/>
<line x1="47.75" y1="275.40" x2="336.00" y2="275.40" stroke="#e3e3e3" stroke-width="1"/>
<clipPath id="cc"><rect x="47.75" y="257.2" width="288.25" height="203.2"/></clipPath>
<g clip-path="url(#cc)" fill="none" stroke-linejoin="round">
<path d="M46.0,427.4 47.9,343.8 49.8,389.0 52.2,360.0 54.6,362.1 55.9,404.5 57.1,435.1 57.8,333.7 58.5,367.9 59.1,385.4 59.8,392.8 60.4,385.3 61.0,412.0 61.6,348.0 62.3,429.3 62.8,361.0 63.3,402.4 63.8,396.5 64.2,408.2 65.2,394.1 66.2,404.4 67.5,435.1 68.1,360.4 68.6,366.0 70.0,360.2 71.9,390.9 72.9,392.9 73.8,367.9 76.7,432.9 79.6,356.4 81.0,405.7 82.5,342.9 83.4,384.0 84.4,435.1 85.1,373.3 85.7,377.5 86.3,382.4 86.9,392.8 87.6,377.4 88.2,433.1 90.1,362.1 90.9,331.5 91.7,404.4 92.4,337.1 93.0,423.6 93.7,367.9 94.4,373.6 95.4,416.3 96.5,446.6 97.2,356.2 97.8,385.2 98.8,411.5 99.7,423.6 100.7,385.5 101.7,383.2 102.6,385.3 103.6,406.3 104.5,397.6 105.5,375.6 106.3,359.3 107.0,396.7 108.4,385.2 109.1,410.6 109.9,375.6 110.6,381.0 111.3,404.4 112.4,352.6 113.6,369.8 114.8,419.4 116.1,385.2 116.7,402.9 117.4,429.3 118.2,321.6 118.9,346.8 119.7,382.9 120.5,323.7 121.0,358.5 121.6,429.3 122.2,380.1 122.8,369.8 124.2,392.4 125.7,385.2 126.6,421.0 127.6,381.3 128.2,375.0 128.9,402.4 130.2,422.0 131.4,381.3 132.4,396.7 134.3,389.0 135.3,387.0 136.2,400.5 137.7,378.3 139.1,455.2 140.0,385.6 141.0,366.0 141.5,373.6 142.3,404.4 142.9,397.7 143.5,362.1 144.1,370.4 144.8,385.2 145.3,422.8 145.8,392.8 146.5,386.0 147.3,431.2 148.0,357.7 148.6,385.2 149.3,405.3 150.0,408.2 151.1,377.5 151.6,379.0 152.1,431.2 152.8,346.1 153.4,381.3 154.2,363.8 155.0,373.6 155.7,392.8 157.3,408.2 158.2,433.1 158.7,351.4 159.2,381.3 160.2,404.4 160.6,398.8 161.1,444.7 161.9,388.9 162.6,362.1 163.3,360.5 164.0,385.2 165.3,392.8 166.1,378.1 166.9,366.0 167.6,359.3 168.4,358.3 169.1,354.4 169.8,381.3 170.2,415.1 170.7,373.6 171.5,410.3 172.2,358.3 173.6,392.8 174.9,366.0 176.5,404.4 177.2,379.6 178.0,423.6 178.7,351.9 179.3,389.0 179.8,419.8 180.3,377.5 181.1,361.7 181.8,369.8 182.5,372.2 183.2,381.3 183.9,379.4 184.5,404.4 185.3,391.5 186.1,377.5 186.8,383.4 187.6,394.8 188.6,382.3 189.5,408.2 190.2,429.2 190.9,385.2 191.5,385.7 192.2,431.2 192.8,393.7 193.4,371.7 194.7,389.0 195.2,404.9 195.7,423.6 196.4,380.7 197.2,377.5 197.9,375.4 198.5,402.4 199.2,399.6 199.9,373.6 200.7,389.6 201.4,385.2 202.2,356.3 203.0,369.8 204.3,394.8 205.0,356.7 205.6,381.3 206.2,356.7 206.8,408.2 208.1,371.7 208.8,410.4 209.5,377.5 210.1,396.7 210.6,350.6 212.0,327.6 213.3,339.1 214.9,350.6 216.8,350.6 218.7,381.3 220.2,412.0 221.6,421.6 222.9,369.8 224.5,362.1 226.4,377.5 228.3,390.9 229.8,369.8 231.2,377.5 236.0,394.8 237.9,402.4 240.2,415.9 241.4,327.6 242.7,342.9 244.1,350.6 245.6,377.5 247.5,379.4 249.4,329.5 250.6,341.0 251.7,377.5 252.9,383.2 254.2,385.2 255.2,329.5 257.1,335.3 258.6,342.9 260.0,383.2 261.0,360.2 262.3,366.0 262.9,356.4 263.8,369.8 265.2,381.3 267.7,383.2 271.5,390.9 272.5,414.0 281.7,404.4 283.0,389.0 284.9,394.8 285.9,377.5 286.9,362.1 287.8,339.1 289.4,354.5 290.7,369.8 291.7,377.5 292.6,385.2 293.6,358.3 294.5,354.5 295.9,366.0 297.4,322.8 298.4,337.2 299.7,369.8 301.3,367.9 302.2,362.1 303.6,327.6 304.7,367.9 305.5,364.0 307.0,333.3 308.0,337.2 309.3,369.8 309.9,409.2 310.9,369.8 317.6,354.5 318.9,374.6 336.0,383.2" stroke="#ff0000" stroke-width="0.9"/>
<path d="M46.0,387.1 47.9,364.2 49.8,360.2 51.8,338.0 53.7,333.3 55.1,335.8 56.6,315.1 57.2,387.1 57.9,362.1 58.5,344.0 59.1,337.2 59.7,365.5 60.4,295.9 60.9,337.2 61.4,362.1 62.1,372.9 62.9,366.0 64.2,383.2 64.7,315.8 65.2,366.0 67.5,396.7 68.1,352.5 68.6,346.8 69.2,363.6 69.8,293.0 70.4,353.5 71.0,362.1 72.1,345.8 73.3,329.5 73.8,360.1 74.4,350.6 75.4,347.1 76.3,341.0 77.5,339.8 78.6,335.3 79.6,339.9 80.5,352.5 81.3,377.1 82.1,373.6 82.8,355.2 83.4,309.3 84.4,408.2 84.9,330.7 85.3,318.0 85.8,387.5 86.3,356.4 86.8,376.5 87.3,325.7 87.9,343.5 88.6,341.0 89.2,374.4 89.8,317.0 90.4,359.3 91.1,385.2 91.6,353.5 92.1,315.1 93.0,346.8 93.5,372.3 94.0,377.5 94.8,342.8 95.5,352.5 96.2,347.4 96.9,404.4 97.8,331.5 98.8,336.2 99.3,353.3 99.7,375.6 100.7,382.8 101.7,335.3 102.3,340.1 103.0,362.1 103.6,313.8 104.2,342.9 104.8,355.5 105.5,285.4 107.0,371.7 109.3,301.7 110.9,377.5 111.5,352.1 112.2,335.3 113.2,348.2 114.1,356.4 114.8,365.4 115.5,327.6 117.4,400.5 118.0,333.1 118.6,327.6 119.2,347.9 119.9,300.7 120.4,372.0 120.9,291.1 122.2,429.3 123.0,350.1 123.7,367.9 124.7,357.5 125.7,366.0 127.1,329.2 128.5,323.7 129.5,320.5 130.5,377.5 132.4,373.6 133.3,337.8 134.3,364.0 135.3,407.0 136.2,392.8 136.7,343.9 137.2,381.3 137.9,368.5 138.7,298.8 139.4,353.1 140.0,423.6 142.0,362.1 142.4,334.9 142.9,329.5 142.9,329.5 143.6,358.4 144.2,360.2 145.4,342.9 146.0,338.7 146.7,377.5 147.7,400.5 148.3,359.6 149.0,366.0 149.8,355.0 150.6,385.2 151.2,332.7 151.9,400.5 152.5,310.8 153.1,354.5 153.7,319.2 154.4,369.8 155.4,360.2 156.1,374.8 156.9,377.5 157.6,323.8 158.2,341.0 158.7,389.3 159.2,404.4 160.0,351.6 160.7,358.3 161.7,324.7 162.2,381.8 162.6,425.5 163.3,356.5 164.0,334.3 164.5,343.8 165.0,369.8 165.4,385.3 165.9,394.8 166.6,378.9 167.3,346.8 167.8,342.3 168.4,339.1 169.1,345.3 169.8,377.5 170.2,389.7 170.7,352.5 171.2,351.0 171.7,366.0 172.3,339.9 173.0,350.6 173.8,342.9 174.5,331.4 175.5,362.1 176.2,340.8 176.9,400.5 177.4,325.6 178.0,381.3 178.7,343.7 179.3,404.4 180.3,362.1 180.8,357.1 181.3,331.4 181.9,341.1 182.6,385.2 183.4,345.8 184.1,337.2 184.9,333.2 185.7,356.4 186.4,387.0 187.0,341.0 188.0,377.5 189.5,354.5 190.9,381.3 191.3,346.4 191.8,400.5 192.6,351.0 193.4,352.5 194.0,358.1 194.7,342.9 195.2,372.6 195.7,377.5 196.4,345.2 197.2,358.3 197.9,378.5 198.5,385.2 199.0,354.5 199.5,336.2 200.3,374.8 201.0,366.0 201.7,377.9 202.4,377.5 202.9,391.0 203.3,358.3 204.3,376.6 205.3,373.6 206.0,376.8 206.8,332.4 207.6,362.1 209.1,366.0 210.6,350.6 212.0,318.0 212.9,333.3 214.9,350.6 216.8,350.6 217.7,324.7 219.1,358.3 220.6,394.8 221.6,404.4 222.9,362.1 224.5,369.8 226.4,360.2 228.3,377.5 229.8,360.2 231.2,342.0 234.0,356.4 236.0,362.1 237.9,377.5 240.2,392.8 241.4,318.0 242.7,312.2 244.1,346.8 245.6,369.8 247.5,381.3 249.4,297.8 250.6,334.3 251.7,366.0 252.9,379.4 254.2,356.4 255.2,331.4 257.1,335.3 258.6,337.2 259.4,379.4 260.4,337.2 261.3,366.0 262.3,352.5 262.9,346.8 263.8,324.7 264.8,375.6 266.7,369.8 269.6,375.6 272.5,380.4 272.9,402.4 282.1,377.5 284.0,367.9 285.5,362.1 286.9,344.9 287.8,327.6 289.4,350.6 290.7,362.1 292.6,373.6 293.6,354.5 294.5,356.4 295.9,369.8 297.4,325.7 298.4,342.9 299.7,397.6 301.3,356.4 302.2,362.1 303.6,314.1 304.7,371.7 305.5,366.0 307.0,323.7 308.0,333.3 309.3,356.4 309.9,404.4 310.9,357.3 317.6,356.4 318.9,344.9 319.7,364.0 336.0,379.4" stroke="#0000ff" stroke-width="0.9"/>
<path d="M47.8,352.1 336.0,352.1" stroke="#19c8fa" stroke-width="2.2"/>
</g>
<line x1="47.75" y1="257.20" x2="47.75" y2="460.90" stroke="#555555" stroke-width="1"/>
<line x1="47.25" y1="460.40" x2="336.00" y2="460.40" stroke="#555555" stroke-width="1"/>
<line x1="77.50" y1="460.40" x2="77.50" y2="457.40" stroke="#555555" stroke-width="1"/>
<text x="77.50" y="473.20" text-anchor="middle" class="tk">2013</text>
<line x1="122.19" y1="460.40" x2="122.19" y2="457.40" stroke="#555555" stroke-width="1"/>
<text x="122.19" y="473.20" text-anchor="middle" class="tk">2014</text>
<line x1="166.88" y1="460.40" x2="166.88" y2="457.40" stroke="#555555" stroke-width="1"/>
<text x="166.88" y="473.20" text-anchor="middle" class="tk">2015</text>
<line x1="211.57" y1="460.40" x2="211.57" y2="457.40" stroke="#555555" stroke-width="1"/>
<text x="211.57" y="473.20" text-anchor="middle" class="tk">2016</text>
<line x1="256.26" y1="460.40" x2="256.26" y2="457.40" stroke="#555555" stroke-width="1"/>
<text x="256.26" y="473.20" text-anchor="middle" class="tk">2017</text>
<line x1="300.95" y1="460.40" x2="300.95" y2="457.40" stroke="#555555" stroke-width="1"/>
<text x="300.95" y="473.20" text-anchor="middle" class="tk">2018</text>
<line x1="47.75" y1="460.40" x2="50.75" y2="460.40" stroke="#555555" stroke-width="1"/>
<text x="44.15" y="463.40" text-anchor="end" class="tk">-4</text>
<line x1="47.75" y1="439.84" x2="50.75" y2="439.84" stroke="#555555" stroke-width="1"/>
<text x="44.15" y="442.84" text-anchor="end" class="tk">-3</text>
<line x1="47.75" y1="419.29" x2="50.75" y2="419.29" stroke="#555555" stroke-width="1"/>
<text x="44.15" y="422.29" text-anchor="end" class="tk">-2</text>
<line x1="47.75" y1="398.73" x2="50.75" y2="398.73" stroke="#555555" stroke-width="1"/>
<text x="44.15" y="401.73" text-anchor="end" class="tk">-1</text>
<line x1="47.75" y1="378.18" x2="50.75" y2="378.18" stroke="#555555" stroke-width="1"/>
<text x="44.15" y="381.18" text-anchor="end" class="tk">0</text>
<line x1="47.75" y1="357.62" x2="50.75" y2="357.62" stroke="#555555" stroke-width="1"/>
<text x="44.15" y="360.62" text-anchor="end" class="tk">1</text>
<line x1="47.75" y1="337.07" x2="50.75" y2="337.07" stroke="#555555" stroke-width="1"/>
<text x="44.15" y="340.07" text-anchor="end" class="tk">2</text>
<line x1="47.75" y1="316.51" x2="50.75" y2="316.51" stroke="#555555" stroke-width="1"/>
<text x="44.15" y="319.51" text-anchor="end" class="tk">3</text>
<line x1="47.75" y1="295.96" x2="50.75" y2="295.96" stroke="#555555" stroke-width="1"/>
<text x="44.15" y="298.96" text-anchor="end" class="tk">4</text>
<line x1="47.75" y1="275.40" x2="50.75" y2="275.40" stroke="#555555" stroke-width="1"/>
<text x="44.15" y="278.40" text-anchor="end" class="tk">5</text>
<text x="191.88" y="484.80" text-anchor="middle" class="al">t [years]</text>
<text transform="translate(31.60,358.80) rotate(-90)" text-anchor="middle" class="al">RB [cm]</text>
<text x="191.88" y="253.90" text-anchor="middle" class="ti" style="white-space:pre">JA2    1890 (12338S004)</text>
<line x1="53.05" y1="268.50" x2="58.15" y2="268.50" stroke="#0000ff" stroke-width="1"/>
<line x1="53.05" y1="278.50" x2="58.15" y2="278.50" stroke="#ff0000" stroke-width="1"/>
<text x="60.65" y="271.10" class="lg" style="fill:#0000ff;stroke:#0000ff">SLRF2020, RB est.</text>
<text x="60.65" y="281.00" class="lg" style="fill:#ff0000;stroke:#ff0000">SLRF2014, RB est.</text>
<text x="151.75" y="271.10" class="lg">Wmean(Δ): -0.373 cm</text>
<text x="151.75" y="281.00" class="lg">Wmean:</text>
<text x="236.05" y="281.00" class="lg" text-anchor="end">-0.004 cm</text>
<text x="252.98" y="271.10" class="lg">WRMS(Δ): 0.850 cm</text>
<text x="252.98" y="281.00" class="lg">WRMS:</text>
<text x="332.18" y="281.00" class="lg" text-anchor="end">1.003 cm</text>
<text x="53.35" y="453.60" class="lg">outliers: 3 %</text>
<text x="326.90" y="454.10" class="cy" text-anchor="end">– RB ILRS DHF for SLRF2020</text>
<text x="2.50" y="488.50" class="pl">(c)</text>
</g>
<g>
<line x1="430.50" y1="257.30" x2="430.50" y2="460.40" stroke="#e3e3e3" stroke-width="1"/>
<line x1="474.28" y1="257.30" x2="474.28" y2="460.40" stroke="#e3e3e3" stroke-width="1"/>
<line x1="518.06" y1="257.30" x2="518.06" y2="460.40" stroke="#e3e3e3" stroke-width="1"/>
<line x1="561.84" y1="257.30" x2="561.84" y2="460.40" stroke="#e3e3e3" stroke-width="1"/>
<line x1="605.62" y1="257.30" x2="605.62" y2="460.40" stroke="#e3e3e3" stroke-width="1"/>
<line x1="649.40" y1="257.30" x2="649.40" y2="460.40" stroke="#e3e3e3" stroke-width="1"/>
<line x1="396.60" y1="441.94" x2="684.00" y2="441.94" stroke="#e3e3e3" stroke-width="1"/>
<line x1="396.60" y1="423.47" x2="684.00" y2="423.47" stroke="#e3e3e3" stroke-width="1"/>
<line x1="396.60" y1="405.01" x2="684.00" y2="405.01" stroke="#e3e3e3" stroke-width="1"/>
<line x1="396.60" y1="386.55" x2="684.00" y2="386.55" stroke="#e3e3e3" stroke-width="1"/>
<line x1="396.60" y1="368.08" x2="684.00" y2="368.08" stroke="#e3e3e3" stroke-width="1"/>
<line x1="396.60" y1="349.62" x2="684.00" y2="349.62" stroke="#e3e3e3" stroke-width="1"/>
<line x1="396.60" y1="331.15" x2="684.00" y2="331.15" stroke="#e3e3e3" stroke-width="1"/>
<line x1="396.60" y1="312.69" x2="684.00" y2="312.69" stroke="#e3e3e3" stroke-width="1"/>
<line x1="396.60" y1="294.23" x2="684.00" y2="294.23" stroke="#e3e3e3" stroke-width="1"/>
<line x1="396.60" y1="275.76" x2="684.00" y2="275.76" stroke="#e3e3e3" stroke-width="1"/>
<line x1="396.60" y1="257.30" x2="684.00" y2="257.30" stroke="#e3e3e3" stroke-width="1"/>
<clipPath id="cd"><rect x="396.6" y="257.3" width="287.4" height="203.09999999999997"/></clipPath>
<g clip-path="url(#cd)" fill="none" stroke-linejoin="round">
<path d="M395.0,386.2 397.6,391.7 399.8,347.9 401.6,374.2 403.3,344.6 404.2,376.3 405.9,367.6 410.3,369.8 412.5,382.9 413.6,354.5 415.1,375.3 416.9,354.5 418.0,367.6 419.5,341.3 420.8,306.3 422.4,343.5 425.7,352.3 427.2,388.4 427.8,336.9 429.6,367.6 431.1,336.9 438.8,332.6 440.5,391.7 441.6,350.1 448.6,359.9 450.8,336.9 452.4,363.2 454.1,401.5 455.2,354.5 457.4,345.7 458.9,381.8 460.0,334.7 461.8,350.1 464.0,389.5 465.1,343.5 467.3,367.6 468.4,326.0 469.5,345.7 471.2,367.6 472.1,396.1 473.4,448.6 475.6,411.4 478.2,385.1 480.4,367.6 482.2,387.3 484.3,324.9 485.9,385.1 487.4,367.6 490.3,387.3 492.4,372.0 496.2,345.7 497.9,345.7 499.7,355.5 501.2,345.7 502.3,350.1 503.4,345.7 504.5,395.0 506.7,363.2 513.2,336.9 515.4,356.6 526.4,374.2 529.0,358.8 531.2,370.9 533.0,418.0 535.1,322.7 536.1,395.0 537.6,369.8 539.8,372.0 542.0,399.3 545.5,346.8 547.7,374.2 549.2,392.8 551.4,357.7 552.1,387.3 553.6,372.0 555.8,363.2 556.9,329.3 558.0,317.2 561.3,327.1 564.6,341.3 566.1,372.0 568.3,381.8 569.6,363.2 570.7,389.5 572.2,350.1 574.0,361.0 575.5,407.0 576.2,377.4 614.9,354.9 616.5,407.0 617.8,375.3 621.5,376.3 624.8,414.7 625.9,395.0 651.1,370.9 655.4,399.3 658.3,368.7 678.4,327.1 680.6,361.0 681.7,344.6 685.0,351.2 688.3,352.3" stroke="#ff0000" stroke-width="0.9"/>
<path d="M395.0,342.4 397.2,349.0 399.8,307.4 401.6,332.6 402.7,307.4 403.8,338.0 407.0,337.4 411.4,337.4 412.5,331.5 413.6,347.9 415.8,340.2 418.0,323.8 419.1,330.4 420.4,283.3 421.7,317.2 424.6,327.1 426.8,343.5 427.8,318.3 429.6,342.4 431.8,308.5 437.7,310.7 439.9,358.8 441.6,318.3 445.4,334.7 449.7,306.3 451.5,339.1 453.0,320.5 454.6,372.0 457.4,294.2 459.2,352.3 460.3,340.2 461.8,352.3 463.3,323.8 465.1,356.6 467.3,306.3 468.8,312.8 470.5,297.5 472.1,363.2 473.4,409.2 474.9,389.5 477.1,356.6 480.4,330.4 482.6,355.5 484.3,283.3 485.9,334.7 487.4,315.0 489.2,339.1 490.7,352.3 493.1,330.4 496.8,309.6 499.7,332.6 501.2,321.6 502.3,334.7 503.4,315.0 504.5,374.2 506.7,334.7 513.2,322.7 515.4,323.8 526.4,349.0 529.7,334.7 531.9,336.9 533.4,380.7 535.1,283.9 536.1,369.8 538.3,345.7 539.8,343.5 541.6,365.4 543.8,343.5 545.5,319.4 547.0,334.7 548.6,343.5 549.9,296.4 551.4,347.9 553.0,334.7 554.7,339.1 556.5,305.2 557.3,328.2 558.6,283.3 561.3,297.5 564.6,319.4 566.1,336.9 567.8,343.5 569.6,329.3 570.7,341.3 571.8,332.6 572.9,318.3 574.4,334.7 575.5,357.7 576.2,339.1 614.9,342.4 616.0,338.0 617.1,389.5 618.2,355.5 621.5,359.9 623.7,385.1 625.2,343.5 626.5,365.4 650.0,345.7 651.5,322.7 653.2,343.5 655.4,362.1 658.3,332.6 676.2,304.1 678.4,308.5 680.6,338.0 681.7,313.9 685.0,324.9 688.3,327.1" stroke="#0000ff" stroke-width="0.9"/>
<path d="M396.6,334.1 684.0,334.1" stroke="#19c8fa" stroke-width="2.2"/>
</g>
<line x1="396.60" y1="257.30" x2="396.60" y2="460.90" stroke="#555555" stroke-width="1"/>
<line x1="396.10" y1="460.40" x2="684.00" y2="460.40" stroke="#555555" stroke-width="1"/>
<line x1="430.50" y1="460.40" x2="430.50" y2="457.40" stroke="#555555" stroke-width="1"/>
<text x="430.50" y="473.20" text-anchor="middle" class="tk">2009</text>
<line x1="474.28" y1="460.40" x2="474.28" y2="457.40" stroke="#555555" stroke-width="1"/>
<text x="474.28" y="473.20" text-anchor="middle" class="tk">2009.5</text>
<line x1="518.06" y1="460.40" x2="518.06" y2="457.40" stroke="#555555" stroke-width="1"/>
<text x="518.06" y="473.20" text-anchor="middle" class="tk">2010</text>
<line x1="561.84" y1="460.40" x2="561.84" y2="457.40" stroke="#555555" stroke-width="1"/>
<text x="561.84" y="473.20" text-anchor="middle" class="tk">2010.5</text>
<line x1="605.62" y1="460.40" x2="605.62" y2="457.40" stroke="#555555" stroke-width="1"/>
<text x="605.62" y="473.20" text-anchor="middle" class="tk">2011</text>
<line x1="649.40" y1="460.40" x2="649.40" y2="457.40" stroke="#555555" stroke-width="1"/>
<text x="649.40" y="473.20" text-anchor="middle" class="tk">2011.5</text>
<line x1="396.60" y1="460.40" x2="399.60" y2="460.40" stroke="#555555" stroke-width="1"/>
<text x="393.00" y="463.40" text-anchor="end" class="tk">-5</text>
<line x1="396.60" y1="441.94" x2="399.60" y2="441.94" stroke="#555555" stroke-width="1"/>
<text x="393.00" y="444.94" text-anchor="end" class="tk">-4</text>
<line x1="396.60" y1="423.47" x2="399.60" y2="423.47" stroke="#555555" stroke-width="1"/>
<text x="393.00" y="426.47" text-anchor="end" class="tk">-3</text>
<line x1="396.60" y1="405.01" x2="399.60" y2="405.01" stroke="#555555" stroke-width="1"/>
<text x="393.00" y="408.01" text-anchor="end" class="tk">-2</text>
<line x1="396.60" y1="386.55" x2="399.60" y2="386.55" stroke="#555555" stroke-width="1"/>
<text x="393.00" y="389.55" text-anchor="end" class="tk">-1</text>
<line x1="396.60" y1="368.08" x2="399.60" y2="368.08" stroke="#555555" stroke-width="1"/>
<text x="393.00" y="371.08" text-anchor="end" class="tk">0</text>
<line x1="396.60" y1="349.62" x2="399.60" y2="349.62" stroke="#555555" stroke-width="1"/>
<text x="393.00" y="352.62" text-anchor="end" class="tk">1</text>
<line x1="396.60" y1="331.15" x2="399.60" y2="331.15" stroke="#555555" stroke-width="1"/>
<text x="393.00" y="334.15" text-anchor="end" class="tk">2</text>
<line x1="396.60" y1="312.69" x2="399.60" y2="312.69" stroke="#555555" stroke-width="1"/>
<text x="393.00" y="315.69" text-anchor="end" class="tk">3</text>
<line x1="396.60" y1="294.23" x2="399.60" y2="294.23" stroke="#555555" stroke-width="1"/>
<text x="393.00" y="297.23" text-anchor="end" class="tk">4</text>
<line x1="396.60" y1="275.76" x2="399.60" y2="275.76" stroke="#555555" stroke-width="1"/>
<text x="393.00" y="278.76" text-anchor="end" class="tk">5</text>
<line x1="396.60" y1="257.30" x2="399.60" y2="257.30" stroke="#555555" stroke-width="1"/>
<text x="393.00" y="260.30" text-anchor="end" class="tk">6</text>
<text x="540.30" y="484.80" text-anchor="middle" class="al">t [years]</text>
<text transform="translate(380.50,358.85) rotate(-90)" text-anchor="middle" class="al">RB [cm]</text>
<text x="540.30" y="254.00" text-anchor="middle" class="ti" style="white-space:pre">JA2    7832 (20101S001)</text>
<line x1="401.90" y1="268.50" x2="407.00" y2="268.50" stroke="#0000ff" stroke-width="1"/>
<line x1="401.90" y1="278.50" x2="407.00" y2="278.50" stroke="#ff0000" stroke-width="1"/>
<text x="409.50" y="271.20" class="lg" style="fill:#0000ff;stroke:#0000ff">SLRF2020, RB est.</text>
<text x="409.50" y="281.10" class="lg" style="fill:#ff0000;stroke:#ff0000">SLRF2014, RB est.</text>
<text x="500.29" y="271.20" class="lg">Wmean(Δ): -0.006 cm</text>
<text x="500.29" y="281.10" class="lg">Wmean:</text>
<text x="584.59" y="281.10" class="lg" text-anchor="end">0.158 cm</text>
<text x="601.23" y="271.20" class="lg">WRMS(Δ): 0.944 cm</text>
<text x="601.23" y="281.10" class="lg">WRMS:</text>
<text x="680.43" y="281.10" class="lg" text-anchor="end">1.011 cm</text>
<text x="402.20" y="453.60" class="lg">outliers: 3 %</text>
<text x="674.90" y="454.10" class="cy" text-anchor="end">– RB ILRS DHF for SLRF2020</text>
<text x="349.50" y="488.50" class="pl">(d)</text>
</g>
<g>
<line x1="59.50" y1="506.50" x2="59.50" y2="709.30" stroke="#e3e3e3" stroke-width="1"/>
<line x1="85.30" y1="506.50" x2="85.30" y2="709.30" stroke="#e3e3e3" stroke-width="1"/>
<line x1="111.10" y1="506.50" x2="111.10" y2="709.30" stroke="#e3e3e3" stroke-width="1"/>
<line x1="136.90" y1="506.50" x2="136.90" y2="709.30" stroke="#e3e3e3" stroke-width="1"/>
<line x1="162.70" y1="506.50" x2="162.70" y2="709.30" stroke="#e3e3e3" stroke-width="1"/>
<line x1="188.50" y1="506.50" x2="188.50" y2="709.30" stroke="#e3e3e3" stroke-width="1"/>
<line x1="214.30" y1="506.50" x2="214.30" y2="709.30" stroke="#e3e3e3" stroke-width="1"/>
<line x1="240.10" y1="506.50" x2="240.10" y2="709.30" stroke="#e3e3e3" stroke-width="1"/>
<line x1="265.90" y1="506.50" x2="265.90" y2="709.30" stroke="#e3e3e3" stroke-width="1"/>
<line x1="291.70" y1="506.50" x2="291.70" y2="709.30" stroke="#e3e3e3" stroke-width="1"/>
<line x1="317.50" y1="506.50" x2="317.50" y2="709.30" stroke="#e3e3e3" stroke-width="1"/>
<line x1="49.50" y1="690.86" x2="337.50" y2="690.86" stroke="#e3e3e3" stroke-width="1"/>
<line x1="49.50" y1="672.43" x2="337.50" y2="672.43" stroke="#e3e3e3" stroke-width="1"/>
<line x1="49.50" y1="653.99" x2="337.50" y2="653.99" stroke="#e3e3e3" stroke-width="1"/>
<line x1="49.50" y1="635.55" x2="337.50" y2="635.55" stroke="#e3e3e3" stroke-width="1"/>
<line x1="49.50" y1="617.12" x2="337.50" y2="617.12" stroke="#e3e3e3" stroke-width="1"/>
<line x1="49.50" y1="598.68" x2="337.50" y2="598.68" stroke="#e3e3e3" stroke-width="1"/>
<line x1="49.50" y1="580.25" x2="337.50" y2="580.25" stroke="#e3e3e3" stroke-width="1"/>
<line x1="49.50" y1="561.81" x2="337.50" y2="561.81" stroke="#e3e3e3" stroke-width="1"/>
<line x1="49.50" y1="543.37" x2="337.50" y2="543.37" stroke="#e3e3e3" stroke-width="1"/>
<line x1="49.50" y1="524.94" x2="337.50" y2="524.94" stroke="#e3e3e3" stroke-width="1"/>
<line x1="49.50" y1="506.50" x2="337.50" y2="506.50" stroke="#e3e3e3" stroke-width="1"/>
<clipPath id="ce"><rect x="49.5" y="506.5" width="288.0" height="202.79999999999995"/></clipPath>
<g clip-path="url(#ce)" fill="none" stroke-linejoin="round">
<path d="M49.5,581.8 49.6,651.8 50.3,576.6 51.1,576.6 51.2,621.1 51.2,618.1 51.3,627.7 51.8,576.6 51.9,630.1 52.2,583.5 52.2,576.6 52.3,596.7 52.3,576.6 52.4,598.4 52.6,618.1 52.6,588.8 52.7,609.3 53.3,611.9 53.3,623.6 53.5,649.5 53.8,597.4 53.8,576.6 54.2,578.2 54.3,597.4 54.7,593.6 54.7,634.5 55.6,608.5 56.2,618.1 56.7,608.6 56.7,599.0 56.9,597.4 57.2,591.6 57.3,587.9 57.4,605.8 57.5,649.8 57.5,642.1 57.8,606.2 58.3,609.4 58.6,591.3 59.5,652.9 59.6,597.8 60.0,612.9 60.3,614.0 60.5,636.2 61.4,617.8 61.5,621.6 61.6,611.8 61.7,662.9 62.0,645.7 62.5,582.1 63.0,618.1 63.1,626.9 63.4,623.5 63.4,643.9 63.9,583.9 64.7,576.6 65.1,582.7 65.7,586.0 65.7,600.3 66.0,576.6 66.6,581.6 66.7,576.6 66.8,602.9 67.0,603.9 69.1,616.0 69.5,613.8 69.6,651.3 70.1,583.1 70.1,583.9 70.3,581.9 70.6,578.0 70.7,596.3 71.0,594.2 72.0,666.8 72.8,618.5 73.4,657.9 73.6,618.1 74.3,618.9 74.3,603.5 74.8,626.1 75.3,576.6 75.4,584.5 75.8,604.6 76.0,636.6 76.1,604.3 76.5,585.5 76.5,660.1 77.5,576.6 77.9,627.1 78.2,632.3 78.6,597.7 79.2,599.3 79.2,623.3 79.3,586.0 79.7,671.2 79.9,579.0 80.7,640.1 81.1,621.6 81.3,576.6 81.7,576.6 81.8,584.5 82.0,630.9 83.7,681.2 83.9,599.8 84.6,610.8 85.5,624.4 85.6,638.7 85.7,631.4 85.8,598.2 85.9,607.4 87.2,623.6 87.3,669.3 87.4,610.7 87.5,661.1 88.5,592.8 88.7,613.3 89.0,654.8 89.4,621.5 89.5,663.9 89.9,586.3 90.6,594.8 90.7,588.6 91.1,631.7 91.3,587.7 91.9,646.6 92.6,599.1 93.4,608.8 93.6,619.1 94.0,595.7 94.2,576.6 95.0,610.2 95.1,603.0 95.2,576.6 95.7,600.2 96.5,629.9 96.8,636.5 97.8,610.4 98.1,612.4 99.0,589.8 99.2,620.3 99.8,592.5 99.8,622.1 100.5,576.6 100.9,620.3 101.3,585.4 102.1,599.3 102.6,633.5 102.6,589.7 102.7,613.5 103.0,589.2 103.1,651.9 104.1,673.1 104.1,646.9 104.4,651.4 104.5,606.6 105.0,601.9 105.3,641.3 105.7,635.6 105.7,628.6 105.9,592.8 106.1,584.9 106.7,594.6 106.9,588.6 107.3,576.6 107.4,601.5 107.4,647.6 107.6,598.2 107.6,619.2 107.9,598.2 108.4,591.3 109.1,583.0 109.7,646.9 110.4,579.0 110.6,619.0 110.8,613.3 111.1,610.2 111.8,636.6 112.0,635.0 112.1,608.1 112.2,587.2 112.3,635.8 112.3,631.9 112.4,666.2 112.5,638.9 112.9,641.9 113.1,629.4 113.2,588.2 113.9,629.7 114.5,639.7 115.2,633.4 116.2,615.5 116.3,607.1 116.7,605.5 117.0,627.3 117.1,609.0 117.1,622.8 117.8,640.2 118.0,626.1 118.4,576.9 118.5,647.3 119.1,576.6 119.1,622.9 119.4,611.9 119.5,655.0 119.8,613.3 119.9,576.6 120.0,649.4 120.1,654.0 120.3,593.7 120.3,616.2 120.4,661.1 120.5,637.2 120.5,604.6 120.6,614.0 120.7,592.6 120.7,612.7 120.9,602.7 122.0,580.5 122.1,631.3 122.1,587.6 122.3,607.4 122.3,593.2 122.7,612.9 122.9,634.0 123.8,613.7 123.9,638.2 124.3,586.8 124.4,614.7 124.5,637.5 124.7,615.5 124.9,652.1 125.0,649.0 125.1,625.1 126.6,601.8 127.4,615.6 127.8,620.1 127.8,604.9 127.9,576.6 128.1,657.5 128.1,607.3 128.2,613.3 128.3,643.5 128.6,633.2 128.7,609.4 128.9,623.5 129.0,649.4 129.7,588.4 130.0,616.7 130.4,610.8 130.9,589.8 131.0,674.9 131.2,595.0 131.8,597.9 132.2,638.8 132.2,636.5 132.3,635.0 132.4,663.4 132.6,605.1 132.6,638.8 132.9,674.8 133.3,586.0 133.7,633.8 133.7,602.4 134.0,622.7 134.1,619.0 134.8,628.0 135.4,675.0 135.5,619.7 135.7,641.1 135.9,614.6 135.9,628.8 136.0,637.7 136.2,622.3 136.3,652.0 136.7,616.3 136.8,628.9 137.1,610.9 138.1,666.8 138.4,601.3 138.4,615.8 138.8,633.7 139.2,609.7 140.3,601.5 140.6,595.7 140.8,627.4 140.8,576.6 141.1,611.0 141.4,576.6 141.9,648.7 141.9,616.1 142.5,630.4 142.5,659.4 142.5,624.4 142.8,603.7 143.0,588.4 143.1,594.4 143.2,613.3 143.3,648.3 143.3,576.6 143.6,651.6 143.8,638.3 143.9,626.4 144.0,620.4 144.0,621.4 144.1,607.3 144.5,652.5 145.0,597.1 145.3,586.0 145.4,615.2 145.5,645.1 146.0,638.6 146.2,601.8 146.3,654.7 147.2,646.6 147.4,661.8 148.2,624.4 148.5,587.0 148.7,628.7 148.7,598.2 148.8,631.4 149.1,650.4 149.4,656.9 149.6,614.7 150.2,643.1 150.3,645.7 150.6,626.1 151.0,603.4 151.6,645.9 152.0,590.2 152.0,628.7 152.9,635.3 153.0,587.1 153.2,637.3 153.4,641.9 153.7,644.1 153.8,677.0 153.9,677.8 154.0,658.4 154.1,648.9 154.9,602.4 155.9,597.3 156.0,661.2 156.4,636.4 156.6,622.3 157.6,659.6 157.7,615.9 158.8,658.2 159.5,629.2 159.9,681.5 159.9,663.6 161.2,655.9 161.5,645.0 161.9,678.4 161.9,619.5 161.9,622.3 162.5,626.8 162.5,649.2 162.7,645.3 163.0,695.4 163.1,629.0 163.5,655.5 163.9,625.7 163.9,673.5 164.6,624.0 165.3,634.0 165.6,603.6 165.6,667.3 165.8,645.4 165.8,624.6 165.9,623.1 166.2,580.0 166.3,640.7 166.6,662.0 167.8,609.3 168.0,660.7 168.0,641.4 168.3,593.8 168.5,654.4 169.0,642.5 171.1,622.2 171.8,659.3 173.0,618.7 173.1,648.4 173.3,625.3 173.5,620.9 173.9,596.9 174.8,622.5 174.9,616.4 175.0,610.9 175.0,648.2 175.0,630.6 175.2,620.6 175.3,633.1 175.3,619.4 175.9,595.0 176.0,628.4 176.3,676.0 176.6,624.2 176.6,607.5 176.7,600.3 176.9,670.3 177.7,654.8 178.3,668.4 178.6,614.2 178.7,632.7 179.0,599.3 179.1,596.0 179.8,656.0 180.6,658.3 180.9,637.0 181.2,662.1 181.3,642.1 181.4,617.3 181.4,640.5 181.4,649.6 181.5,661.3 181.7,617.0 182.1,612.9 182.2,637.9 182.8,671.0 183.3,670.1 183.4,671.9 184.3,627.9 184.4,612.6 184.4,629.0 185.9,640.8 186.7,703.8 187.0,620.2 187.1,654.0 187.7,649.2 187.8,647.3 188.1,658.8 188.4,611.4 188.5,613.8 188.7,653.4 189.0,661.1 189.4,651.5 189.4,614.5 189.6,614.7 190.1,632.9 190.2,610.8 190.3,622.7 190.3,643.2 190.7,607.5 190.8,633.3 190.9,646.5 192.1,605.8 192.3,621.7 192.3,669.0 192.4,609.8 192.7,634.5 192.8,632.0 192.8,641.9 193.4,657.6 193.5,683.1 194.3,628.0 194.6,618.3 195.4,657.2 195.6,628.4 196.6,622.0 196.8,657.5 197.9,625.9 198.0,611.9 198.2,576.6 198.6,649.3 198.7,616.4 198.7,652.1 198.8,642.3 198.8,607.3 199.3,617.9 199.7,656.4 199.8,626.7 199.8,640.4 199.9,658.3 200.0,636.1 200.0,636.2 200.2,629.6 200.6,639.3 200.8,659.9 200.9,628.7 201.5,636.9 201.5,594.1 201.5,639.0 201.9,629.1 202.3,611.9 202.4,581.5 202.9,613.0 202.9,672.7 203.7,618.7 204.0,672.7 204.2,655.8 204.5,638.7 204.8,634.3 205.7,645.9 207.7,608.4 208.1,661.3 208.2,605.6 208.8,627.8 208.8,634.5 208.9,641.9 209.3,680.6 209.4,626.0 209.7,669.2 210.1,622.6 210.3,641.0 210.7,637.2 211.1,658.5 211.2,587.4 211.2,669.0 211.4,647.4 212.6,654.6 212.8,653.2 212.8,606.3 212.9,629.5 213.2,580.8 213.4,618.1 213.6,618.7 213.7,635.7 214.3,663.9 215.7,682.0 217.2,618.0 217.4,607.1 217.5,657.7 218.0,614.7 218.5,627.5 219.1,619.1 219.3,613.8 219.8,646.1 220.0,601.1 220.3,630.5 221.9,621.0 222.1,649.5 222.2,694.3 222.6,600.5 222.7,645.8 222.7,605.3 222.9,612.0 223.4,651.5 223.9,637.6 223.9,581.7 224.0,614.8 224.2,612.9 224.2,599.0 225.0,607.9 225.0,623.0 225.6,654.0 225.7,650.3 226.2,646.0 226.3,677.4 226.4,629.5 226.5,625.3 227.5,620.3 227.8,601.1 228.2,678.2 228.4,619.1 228.6,580.7 229.8,668.5 230.1,674.7 230.3,604.8 230.5,630.1 230.8,644.4 231.2,621.7 231.5,632.5 231.5,615.8 231.9,610.3 232.2,647.4 233.1,648.5 233.3,635.1 233.7,628.1 234.0,618.7 234.2,616.6 234.2,643.9 234.6,654.0 234.7,669.8 234.9,630.3 234.9,649.1 235.2,637.9 235.4,622.7 235.5,635.0 235.6,610.0 235.7,664.8 237.7,668.1 237.9,617.1 238.0,612.3 238.2,655.1 238.4,618.1 238.6,626.8 238.9,675.3 239.2,689.4 239.3,669.2 239.9,610.1 240.0,607.1 240.0,642.8 240.2,634.1 240.4,616.2 240.6,643.9 240.6,606.9 240.8,624.5 241.0,615.4 241.1,669.1 241.1,598.2 241.2,636.8 242.9,644.2 242.9,665.5 243.0,648.7 243.3,615.5 243.5,617.9 243.5,662.7 244.1,640.1 244.1,656.9 244.3,615.6 244.4,629.9 244.5,639.6 244.5,641.0 245.9,655.6 246.0,661.4 246.4,690.6 246.8,656.7 246.9,605.3 247.0,610.8 247.7,660.7 248.1,648.1 248.6,645.3 248.8,667.5 248.8,703.8 249.8,663.0 250.1,629.5 250.5,637.5 250.6,610.3 250.7,633.7 250.8,685.9 251.6,637.8 251.9,645.7 252.1,649.3 253.1,643.9 253.1,611.1 254.0,649.1 254.1,634.9 254.2,595.4 254.4,635.6 254.5,639.1 254.5,609.3 254.6,604.5 254.8,622.5 254.8,623.9 255.4,662.5 256.4,648.0 256.4,651.3 256.7,676.9 256.9,648.0 257.4,598.6 257.5,642.6 257.6,639.6 257.6,601.1 257.7,638.4 257.8,641.8 258.6,602.5 259.4,668.0 259.4,596.0 259.6,662.1 259.6,651.2 259.8,665.2 260.0,654.4 260.3,634.8 260.4,639.9 260.5,629.8 260.7,651.4 260.8,666.5 261.3,669.6 261.3,642.6 261.5,621.0 261.6,615.9 261.8,618.0 262.5,666.6 262.7,632.1 262.7,649.9 262.9,614.1 263.1,650.0 263.1,618.8 263.3,652.3 263.3,629.3 264.1,614.3 265.8,650.7 266.0,601.6 266.1,637.5 266.3,673.7 266.5,619.3 266.7,604.0 266.9,611.6 267.0,667.7 267.3,674.0 267.7,700.1 268.2,666.6 268.6,671.7 268.9,639.5 269.1,623.1 269.3,662.5 269.5,669.0 269.7,661.5 269.8,674.2 269.9,668.8 270.5,645.4 270.6,648.1 271.0,637.8 271.2,620.7 271.4,633.3 272.2,634.7 273.6,621.7 273.7,677.7 273.9,609.7 274.7,615.6 274.9,642.5 275.4,621.0 275.6,641.8 277.6,655.7 278.1,591.0 278.3,633.5 279.3,620.8 279.4,656.6 281.5,607.6 282.0,628.9 282.1,651.4 282.3,644.5 282.4,672.3 282.5,664.8 282.6,603.8 283.6,615.1 283.7,645.4 284.0,639.8 284.2,619.7 284.5,607.5 284.9,616.8 285.4,627.0 285.5,590.4 285.7,607.2 286.0,612.8 286.5,589.7 287.1,598.1 287.5,624.2 287.5,642.2 287.9,618.0 288.2,665.0 289.2,628.7 289.4,617.1 290.0,610.7 290.6,637.6 290.8,621.4 290.9,654.5 292.5,664.2 292.7,593.4 292.8,667.3 292.9,687.5 293.0,651.2 293.3,672.3 294.0,700.2 294.5,632.4 294.9,621.4 295.4,671.1 295.4,601.1 295.8,689.8 296.3,622.2 296.4,621.3 297.0,597.5 297.1,637.2 297.2,640.3 297.3,625.4 297.4,655.9 297.5,638.4 297.6,609.3 298.0,625.8 298.3,644.9 298.4,660.5 298.8,649.9 299.9,595.2 299.9,659.6 300.0,624.8 300.7,639.3 301.1,601.5 301.2,654.7 301.3,618.6 301.3,646.6 301.4,594.4 301.4,624.9 301.5,636.6 301.8,646.6 302.3,680.4 302.3,659.7 302.5,631.6 303.2,645.1 303.5,660.2 303.6,642.4 303.7,682.8 303.8,623.2 304.8,668.6 305.3,672.2 305.4,622.9 305.4,623.7 306.4,623.6 306.6,633.3 307.1,642.8 307.2,594.2 307.4,679.7 307.5,634.3 307.5,654.1 307.6,664.7 307.8,633.9 307.9,670.3 308.2,617.0 308.2,671.0 308.5,627.0 309.3,638.6 309.6,603.9 310.0,622.8 310.2,694.4 310.5,612.5 311.0,669.7 311.2,643.4 311.4,622.0 312.7,656.1 313.0,642.6 313.1,617.7 313.2,647.5 313.5,646.5 313.6,659.5 314.4,584.4 314.7,662.6 316.1,690.3 316.2,593.7 316.3,578.5 316.7,690.4 316.8,655.0 317.6,675.9 318.0,637.1 318.4,641.2 318.5,700.2 320.1,687.2 327.8,681.6 330.4,663.2 333.0,672.4 335.6,644.8 336.9,703.8" stroke="#ff0000" stroke-width="0.65"/>
<path d="M49.5,576.0 49.6,634.1 50.3,560.7 51.1,549.5 51.2,599.9 51.2,600.2 51.3,607.5 51.8,554.6 51.9,625.8 52.2,586.6 52.2,546.1 52.3,590.9 52.3,543.8 52.4,590.9 52.6,603.5 52.6,572.0 52.7,595.6 53.3,587.1 53.3,600.1 53.5,616.9 53.8,595.8 53.8,569.1 54.2,564.6 54.3,593.8 54.7,580.5 54.7,613.1 55.6,592.9 56.2,593.1 56.7,594.5 56.7,588.6 56.9,585.6 57.2,569.4 57.3,574.8 57.4,582.9 57.5,629.0 57.5,614.4 57.8,595.1 58.3,595.8 58.6,580.3 59.5,649.9 59.6,596.1 60.0,596.2 60.3,608.7 60.5,620.3 61.4,600.9 61.5,609.3 61.6,598.5 61.7,649.3 62.0,629.8 62.5,571.4 63.0,590.5 63.1,620.2 63.4,605.3 63.4,627.0 63.9,565.8 64.7,537.8 65.1,574.8 65.7,567.3 65.7,583.2 66.0,554.7 66.6,574.5 66.7,558.5 66.8,588.7 67.0,592.8 69.1,603.0 69.5,602.9 69.6,632.3 70.1,568.7 70.1,563.6 70.3,575.6 70.6,568.4 70.7,585.6 71.0,581.7 72.0,649.0 72.8,594.6 73.4,638.2 73.6,607.7 74.3,598.5 74.3,599.8 74.8,613.8 75.3,556.5 75.4,572.4 75.8,605.4 76.0,624.2 76.1,605.0 76.5,570.6 76.5,640.7 77.5,558.2 77.9,604.7 78.2,607.1 78.6,570.7 79.2,594.6 79.2,607.8 79.3,557.2 79.7,654.0 79.9,554.4 80.7,620.3 81.1,616.7 81.3,545.4 81.7,537.8 81.8,565.8 82.0,618.1 83.7,654.0 83.9,586.5 84.6,596.9 85.5,612.3 85.6,614.6 85.7,618.3 85.8,584.4 85.9,604.7 87.2,607.4 87.3,654.0 87.4,598.9 87.5,635.7 88.5,574.0 88.7,599.1 89.0,643.7 89.4,602.6 89.5,646.3 89.9,575.8 90.6,584.7 90.7,570.8 91.1,614.7 91.3,578.0 91.9,626.8 92.6,587.5 93.4,597.6 93.6,591.2 94.0,592.1 94.2,570.9 95.0,601.1 95.1,595.9 95.2,546.8 95.7,592.7 96.5,610.1 96.8,611.9 97.8,596.3 98.1,599.7 99.0,574.6 99.2,601.8 99.8,573.1 99.8,603.0 100.5,559.2 100.9,593.9 101.3,570.9 102.1,582.2 102.6,624.1 102.6,566.8 102.7,598.7 103.0,572.4 103.1,634.3 104.1,654.0 104.1,635.2 104.4,643.4 104.5,603.0 105.0,596.1 105.3,619.8 105.7,601.4 105.7,610.5 105.9,577.0 106.1,575.5 106.7,583.5 106.9,578.2 107.3,545.7 107.4,578.7 107.4,633.6 107.6,598.6 107.6,601.5 107.9,573.6 108.4,580.5 109.1,567.8 109.7,632.0 110.4,570.4 110.6,603.0 110.8,583.2 111.1,588.9 111.8,620.3 112.0,626.5 112.1,589.2 112.2,575.9 112.3,628.6 112.3,627.2 112.4,645.9 112.5,624.3 112.9,628.0 113.1,612.6 113.2,584.3 113.9,612.1 114.5,632.1 115.2,614.6 116.2,605.7 116.3,602.4 116.7,600.7 117.0,610.1 117.1,592.0 117.1,611.5 117.8,633.4 118.0,609.8 118.4,568.4 118.5,621.5 119.1,546.4 119.1,612.4 119.4,588.8 119.5,639.5 119.8,605.3 119.9,549.9 120.0,630.4 120.1,628.2 120.3,592.9 120.3,589.7 120.4,633.6 120.5,627.0 120.5,593.5 120.6,591.3 120.7,583.1 120.7,605.6 120.9,582.9 122.0,571.1 122.1,630.8 122.1,571.1 122.3,578.7 122.3,575.1 122.7,615.4 122.9,601.2 123.8,600.5 123.9,618.4 124.3,578.8 124.4,598.1 124.5,623.4 124.7,595.6 124.9,633.5 125.0,641.1 125.1,621.7 126.6,595.5 127.4,595.2 127.8,599.9 127.8,588.7 127.9,561.5 128.1,633.7 128.1,586.9 128.2,592.9 128.3,623.3 128.6,611.0 128.7,596.5 128.9,598.8 129.0,624.9 129.7,579.9 130.0,597.4 130.4,589.1 130.9,570.9 131.0,654.0 131.2,583.0 131.8,593.7 132.2,625.0 132.2,607.2 132.3,617.8 132.4,636.6 132.6,589.1 132.6,622.5 132.9,649.3 133.3,580.1 133.7,621.9 133.7,596.1 134.0,598.0 134.1,610.7 134.8,614.8 135.4,654.0 135.5,609.4 135.7,623.5 135.9,592.5 135.9,616.3 136.0,624.3 136.2,597.5 136.3,626.0 136.7,619.9 136.8,610.4 137.1,584.9 138.1,641.7 138.4,578.7 138.4,601.3 138.8,610.0 139.2,597.2 140.3,580.9 140.6,568.0 140.8,620.5 140.8,563.1 141.1,596.8 141.4,566.8 141.9,630.4 141.9,602.5 142.5,602.9 142.5,632.0 142.5,614.3 142.8,581.5 143.0,575.2 143.1,585.9 143.2,594.1 143.3,624.4 143.3,549.0 143.6,639.1 143.8,631.4 143.9,616.0 144.0,596.1 144.0,614.5 144.1,581.7 144.5,633.9 145.0,576.5 145.3,562.1 145.4,581.0 145.5,613.4 146.0,619.5 146.2,578.1 146.3,645.4 147.2,624.2 147.4,635.4 148.2,604.4 148.5,552.2 148.7,616.3 148.7,577.1 148.8,625.2 149.1,616.2 149.4,616.4 149.6,574.1 150.2,623.9 150.3,617.6 150.6,607.5 151.0,566.6 151.6,604.1 152.0,554.4 152.0,597.1 152.9,611.6 153.0,583.2 153.2,618.4 153.4,627.3 153.7,609.7 153.8,638.7 153.9,636.0 154.0,625.3 154.1,608.7 154.9,588.8 155.9,573.3 156.0,614.5 156.4,600.1 156.6,612.0 157.6,632.9 157.7,596.0 158.8,632.7 159.5,597.7 159.9,621.1 159.9,631.6 161.2,606.2 161.5,623.4 161.9,651.1 161.9,591.8 161.9,608.6 162.5,603.5 162.5,609.8 162.7,624.2 163.0,654.0 163.1,623.4 163.5,618.4 163.9,599.1 163.9,639.0 164.6,594.5 165.3,608.8 165.6,581.7 165.6,624.4 165.8,609.6 165.8,602.5 165.9,595.6 166.2,550.7 166.3,597.5 166.6,642.2 167.8,563.9 168.0,645.3 168.0,594.0 168.3,582.8 168.5,622.0 169.0,605.5 171.1,604.5 171.8,622.7 173.0,594.4 173.1,622.2 173.3,593.1 173.5,583.8 173.9,566.8 174.8,580.1 174.9,587.1 175.0,591.2 175.0,610.8 175.0,603.3 175.2,590.8 175.3,591.6 175.3,592.6 175.9,603.8 176.0,588.9 176.3,637.0 176.6,613.1 176.6,598.3 176.7,582.2 176.9,642.7 177.7,625.4 178.3,638.6 178.6,591.1 178.7,593.6 179.0,567.2 179.1,549.3 179.8,628.8 180.6,605.8 180.9,613.4 181.2,623.3 181.3,608.9 181.4,614.8 181.4,601.0 181.4,610.6 181.5,636.7 181.7,588.3 182.1,593.8 182.2,614.3 182.8,648.0 183.3,654.0 183.4,637.0 184.3,596.3 184.4,591.3 184.4,601.6 185.9,601.9 186.7,654.0 187.0,596.6 187.1,624.8 187.7,609.5 187.8,619.9 188.1,643.0 188.4,572.4 188.5,589.2 188.7,618.2 189.0,628.6 189.4,613.3 189.4,580.1 189.6,588.8 190.1,604.7 190.2,586.5 190.3,596.3 190.3,622.9 190.7,591.7 190.8,606.4 190.9,624.4 192.1,583.7 192.3,598.5 192.3,638.0 192.4,579.0 192.7,601.3 192.8,615.0 192.8,616.4 193.4,631.8 193.5,646.5 194.3,602.3 194.6,598.5 195.4,612.5 195.6,601.7 196.6,609.9 196.8,615.7 197.9,590.7 198.0,591.8 198.2,559.9 198.6,617.3 198.7,596.0 198.7,603.6 198.8,597.0 198.8,575.6 199.3,592.0 199.7,618.3 199.8,610.4 199.8,610.7 199.9,606.0 200.0,612.1 200.0,611.3 200.2,605.3 200.6,590.5 200.8,617.8 200.9,600.5 201.5,600.1 201.5,582.8 201.5,596.2 201.9,585.6 202.3,595.4 202.4,578.1 202.9,603.7 202.9,629.2 203.7,595.4 204.0,622.9 204.2,642.8 204.5,598.3 204.8,602.2 205.7,602.3 207.7,596.3 208.1,611.0 208.2,579.7 208.8,602.3 208.8,610.2 208.9,603.9 209.3,640.3 209.4,594.3 209.7,638.2 210.1,594.1 210.3,608.7 210.7,600.3 211.1,618.5 211.2,556.9 211.2,645.1 211.4,604.3 212.6,622.0 212.8,631.5 212.8,570.6 212.9,600.5 213.2,545.3 213.4,583.6 213.6,587.2 213.7,590.4 214.3,625.4 215.7,633.2 217.2,580.8 217.4,586.8 217.5,625.3 218.0,602.5 218.5,601.6 219.1,572.4 219.3,591.0 219.8,616.2 220.0,575.7 220.3,604.5 221.9,584.5 222.1,610.9 222.2,654.0 222.6,564.9 222.7,627.3 222.7,579.3 222.9,581.4 223.4,610.4 223.9,622.8 223.9,560.1 224.0,601.2 224.2,577.6 224.2,596.0 225.0,585.6 225.0,601.9 225.6,633.3 225.7,622.2 226.2,599.7 226.3,630.5 226.4,613.0 226.5,607.8 227.5,580.8 227.8,565.2 228.2,654.0 228.4,587.8 228.6,544.9 229.8,627.5 230.1,620.2 230.3,568.7 230.5,598.7 230.8,610.5 231.2,596.6 231.5,586.6 231.5,600.8 231.9,592.1 232.2,601.2 233.1,593.5 233.3,598.2 233.7,591.4 234.0,603.0 234.2,579.0 234.2,610.0 234.6,605.5 234.7,625.3 234.9,608.5 234.9,593.4 235.2,599.8 235.4,582.6 235.5,618.8 235.6,612.3 235.7,641.5 237.7,612.0 237.9,589.3 238.0,594.9 238.2,615.0 238.4,597.7 238.6,601.7 238.9,642.0 239.2,630.1 239.3,624.5 239.9,593.9 240.0,591.4 240.0,600.0 240.2,609.7 240.4,565.6 240.6,607.8 240.6,591.6 240.8,601.4 241.0,581.9 241.1,636.0 241.1,594.5 241.2,608.0 242.9,614.5 242.9,633.4 243.0,624.7 243.3,585.6 243.5,586.9 243.5,638.5 244.1,605.3 244.1,625.9 244.3,593.6 244.4,602.8 244.5,595.4 244.5,613.2 245.9,611.8 246.0,624.9 246.4,643.0 246.8,619.5 246.9,581.8 247.0,581.3 247.7,623.6 248.1,624.2 248.6,624.5 248.8,628.4 248.8,650.3 249.8,621.2 250.1,594.6 250.5,600.9 250.6,570.5 250.7,611.4 250.8,653.0 251.6,619.6 251.9,628.0 252.1,612.5 253.1,617.4 253.1,589.0 254.0,623.7 254.1,604.0 254.2,565.1 254.4,600.9 254.5,630.3 254.5,583.7 254.6,590.3 254.8,594.5 254.8,588.3 255.4,622.9 256.4,616.3 256.4,596.4 256.7,639.8 256.9,612.4 257.4,552.3 257.5,621.5 257.6,591.1 257.6,574.4 257.7,601.1 257.8,610.7 258.6,571.9 259.4,632.3 259.4,545.6 259.6,630.2 259.6,601.9 259.8,635.9 260.0,622.9 260.3,584.7 260.4,601.4 260.5,591.0 260.7,628.7 260.8,614.9 261.3,632.4 261.3,608.2 261.5,604.8 261.6,596.0 261.8,594.7 262.5,622.9 262.7,603.6 262.7,618.4 262.9,584.0 263.1,616.9 263.1,588.5 263.3,617.7 263.3,600.2 264.1,600.7 265.8,621.2 266.0,580.6 266.1,612.7 266.3,630.8 266.5,591.7 266.7,573.5 266.9,581.5 267.0,617.5 267.3,633.7 267.7,654.0 268.2,622.8 268.6,623.7 268.9,609.3 269.1,581.1 269.3,614.0 269.5,630.3 269.7,628.6 269.8,630.2 269.9,626.4 270.5,598.4 270.6,612.2 271.0,608.6 271.2,601.8 271.4,602.1 272.2,587.3 273.6,583.6 273.7,640.1 273.9,609.0 274.7,602.2 274.9,602.0 275.4,581.0 275.6,579.1 277.6,616.1 278.1,569.0 278.3,589.4 279.3,588.2 279.4,619.6 281.5,590.1 282.0,611.7 282.1,624.6 282.3,601.6 282.4,625.5 282.5,622.5 282.6,596.0 283.6,582.6 283.7,618.8 284.0,579.2 284.2,577.8 284.5,578.3 284.9,589.7 285.4,606.7 285.5,563.3 285.7,606.4 286.0,588.9 286.5,576.6 287.1,557.7 287.5,596.5 287.5,602.0 287.9,591.6 288.2,599.0 289.2,580.6 289.4,579.7 290.0,571.3 290.6,606.2 290.8,580.8 290.9,614.3 292.5,622.2 292.7,577.1 292.8,616.4 292.9,652.9 293.0,626.2 293.3,626.3 294.0,650.1 294.5,610.6 294.9,586.0 295.4,621.4 295.4,586.5 295.8,650.0 296.3,586.3 296.4,601.0 297.0,546.9 297.1,598.7 297.2,598.8 297.3,600.1 297.4,603.8 297.5,609.0 297.6,577.3 298.0,595.0 298.3,594.1 298.4,601.5 298.8,617.8 299.9,573.1 299.9,635.7 300.0,589.4 300.7,613.5 301.1,585.3 301.2,619.1 301.3,588.5 301.3,599.4 301.4,587.4 301.4,577.9 301.5,606.5 301.8,607.5 302.3,654.0 302.3,610.0 302.5,573.0 303.2,615.6 303.5,607.9 303.6,615.8 303.7,646.6 303.8,589.4 304.8,617.3 305.3,636.4 305.4,584.0 305.4,595.1 306.4,586.8 306.6,596.6 307.1,615.0 307.2,575.0 307.4,626.1 307.5,591.6 307.5,622.5 307.6,622.3 307.8,583.0 307.9,622.7 308.2,576.6 308.2,631.7 308.5,584.3 309.3,610.3 309.6,576.0 310.0,588.5 310.2,643.0 310.5,580.7 311.0,617.0 311.2,627.5 311.4,573.1 312.7,605.5 313.0,600.6 313.1,573.3 313.2,589.6 313.5,604.1 313.6,630.4 314.4,537.8 314.7,621.8 316.1,640.8 316.2,564.1 316.3,537.8 316.7,638.8 316.8,601.0 317.6,636.4 318.0,596.0 318.4,619.8 318.5,651.4 320.1,635.6 327.8,626.3 330.4,571.0 333.0,607.9 335.6,595.0 336.9,611.6" stroke="#0000ff" stroke-width="0.8"/>
<path d="M49.5,592.8 145.7,592.8 145.7,608.5 337.5,608.5" stroke="#19c8fa" stroke-width="2.1"/>
</g>
<line x1="49.50" y1="506.50" x2="49.50" y2="709.80" stroke="#555555" stroke-width="1"/>
<line x1="49.00" y1="709.30" x2="337.50" y2="709.30" stroke="#555555" stroke-width="1"/>
<line x1="59.50" y1="709.30" x2="59.50" y2="706.30" stroke="#555555" stroke-width="1"/>
<text x="59.50" y="722.10" text-anchor="middle" class="tk">2009</text>
<line x1="85.30" y1="709.30" x2="85.30" y2="706.30" stroke="#555555" stroke-width="1"/>
<text x="85.30" y="722.10" text-anchor="middle" class="tk">2010</text>
<line x1="111.10" y1="709.30" x2="111.10" y2="706.30" stroke="#555555" stroke-width="1"/>
<text x="111.10" y="722.10" text-anchor="middle" class="tk">2011</text>
<line x1="136.90" y1="709.30" x2="136.90" y2="706.30" stroke="#555555" stroke-width="1"/>
<text x="136.90" y="722.10" text-anchor="middle" class="tk">2012</text>
<line x1="162.70" y1="709.30" x2="162.70" y2="706.30" stroke="#555555" stroke-width="1"/>
<text x="162.70" y="722.10" text-anchor="middle" class="tk">2013</text>
<line x1="188.50" y1="709.30" x2="188.50" y2="706.30" stroke="#555555" stroke-width="1"/>
<text x="188.50" y="722.10" text-anchor="middle" class="tk">2014</text>
<line x1="214.30" y1="709.30" x2="214.30" y2="706.30" stroke="#555555" stroke-width="1"/>
<text x="214.30" y="722.10" text-anchor="middle" class="tk">2015</text>
<line x1="240.10" y1="709.30" x2="240.10" y2="706.30" stroke="#555555" stroke-width="1"/>
<text x="240.10" y="722.10" text-anchor="middle" class="tk">2016</text>
<line x1="265.90" y1="709.30" x2="265.90" y2="706.30" stroke="#555555" stroke-width="1"/>
<text x="265.90" y="722.10" text-anchor="middle" class="tk">2017</text>
<line x1="291.70" y1="709.30" x2="291.70" y2="706.30" stroke="#555555" stroke-width="1"/>
<text x="291.70" y="722.10" text-anchor="middle" class="tk">2018</text>
<line x1="317.50" y1="709.30" x2="317.50" y2="706.30" stroke="#555555" stroke-width="1"/>
<text x="317.50" y="722.10" text-anchor="middle" class="tk">2019</text>
<line x1="49.50" y1="709.30" x2="52.50" y2="709.30" stroke="#555555" stroke-width="1"/>
<text x="45.90" y="712.30" text-anchor="end" class="tk">-5</text>
<line x1="49.50" y1="690.86" x2="52.50" y2="690.86" stroke="#555555" stroke-width="1"/>
<text x="45.90" y="693.86" text-anchor="end" class="tk">-4</text>
<line x1="49.50" y1="672.43" x2="52.50" y2="672.43" stroke="#555555" stroke-width="1"/>
<text x="45.90" y="675.43" text-anchor="end" class="tk">-3</text>
<line x1="49.50" y1="653.99" x2="52.50" y2="653.99" stroke="#555555" stroke-width="1"/>
<text x="45.90" y="656.99" text-anchor="end" class="tk">-2</text>
<line x1="49.50" y1="635.55" x2="52.50" y2="635.55" stroke="#555555" stroke-width="1"/>
<text x="45.90" y="638.55" text-anchor="end" class="tk">-1</text>
<line x1="49.50" y1="617.12" x2="52.50" y2="617.12" stroke="#555555" stroke-width="1"/>
<text x="45.90" y="620.12" text-anchor="end" class="tk">0</text>
<line x1="49.50" y1="598.68" x2="52.50" y2="598.68" stroke="#555555" stroke-width="1"/>
<text x="45.90" y="601.68" text-anchor="end" class="tk">1</text>
<line x1="49.50" y1="580.25" x2="52.50" y2="580.25" stroke="#555555" stroke-width="1"/>
<text x="45.90" y="583.25" text-anchor="end" class="tk">2</text>
<line x1="49.50" y1="561.81" x2="52.50" y2="561.81" stroke="#555555" stroke-width="1"/>
<text x="45.90" y="564.81" text-anchor="end" class="tk">3</text>
<line x1="49.50" y1="543.37" x2="52.50" y2="543.37" stroke="#555555" stroke-width="1"/>
<text x="45.90" y="546.37" text-anchor="end" class="tk">4</text>
<line x1="49.50" y1="524.94" x2="52.50" y2="524.94" stroke="#555555" stroke-width="1"/>
<text x="45.90" y="527.94" text-anchor="end" class="tk">5</text>
<line x1="49.50" y1="506.50" x2="52.50" y2="506.50" stroke="#555555" stroke-width="1"/>
<text x="45.90" y="509.50" text-anchor="end" class="tk">6</text>
<text x="193.50" y="733.70" text-anchor="middle" class="al">t [years]</text>
<text transform="translate(33.00,607.90) rotate(-90)" text-anchor="middle" class="al">RB [cm]</text>
<text x="193.50" y="503.20" text-anchor="middle" class="ti" style="white-space:pre">JA2    7237 (21611S001)</text>
<line x1="54.80" y1="517.50" x2="59.90" y2="517.50" stroke="#0000ff" stroke-width="1"/>
<line x1="54.80" y1="527.50" x2="59.90" y2="527.50" stroke="#ff0000" stroke-width="1"/>
<text x="62.40" y="520.40" class="lg" style="fill:#0000ff;stroke:#0000ff">SLRF2020, RB est.</text>
<text x="62.40" y="530.30" class="lg" style="fill:#ff0000;stroke:#ff0000">SLRF2014, RB est.</text>
<text x="153.41" y="520.40" class="lg">Wmean(Δ): -0.085 cm</text>
<text x="153.41" y="530.30" class="lg">Wmean:</text>
<text x="237.71" y="530.30" class="lg" text-anchor="end">-0.678 cm</text>
<text x="254.56" y="520.40" class="lg">WRMS(Δ): 1.003 cm</text>
<text x="254.56" y="530.30" class="lg">WRMS:</text>
<text x="333.76" y="530.30" class="lg" text-anchor="end">1.170 cm</text>
<text x="55.10" y="702.50" class="lg">outliers: 3 %</text>
<text x="328.40" y="703.00" class="cy" text-anchor="end">– RB ILRS DHF for SLRF2020</text>
<text x="4.00" y="737.40" class="pl">(e)</text>
</g>
<g>
<line x1="412.40" y1="506.20" x2="412.40" y2="709.30" stroke="#e3e3e3" stroke-width="1"/>
<line x1="440.19" y1="506.20" x2="440.19" y2="709.30" stroke="#e3e3e3" stroke-width="1"/>
<line x1="467.98" y1="506.20" x2="467.98" y2="709.30" stroke="#e3e3e3" stroke-width="1"/>
<line x1="495.77" y1="506.20" x2="495.77" y2="709.30" stroke="#e3e3e3" stroke-width="1"/>
<line x1="523.56" y1="506.20" x2="523.56" y2="709.30" stroke="#e3e3e3" stroke-width="1"/>
<line x1="551.34" y1="506.20" x2="551.34" y2="709.30" stroke="#e3e3e3" stroke-width="1"/>
<line x1="579.13" y1="506.20" x2="579.13" y2="709.30" stroke="#e3e3e3" stroke-width="1"/>
<line x1="606.92" y1="506.20" x2="606.92" y2="709.30" stroke="#e3e3e3" stroke-width="1"/>
<line x1="634.71" y1="506.20" x2="634.71" y2="709.30" stroke="#e3e3e3" stroke-width="1"/>
<line x1="662.50" y1="506.20" x2="662.50" y2="709.30" stroke="#e3e3e3" stroke-width="1"/>
<line x1="394.50" y1="682.96" x2="683.00" y2="682.96" stroke="#e3e3e3" stroke-width="1"/>
<line x1="394.50" y1="656.61" x2="683.00" y2="656.61" stroke="#e3e3e3" stroke-width="1"/>
<line x1="394.50" y1="630.27" x2="683.00" y2="630.27" stroke="#e3e3e3" stroke-width="1"/>
<line x1="394.50" y1="603.93" x2="683.00" y2="603.93" stroke="#e3e3e3" stroke-width="1"/>
<line x1="394.50" y1="577.59" x2="683.00" y2="577.59" stroke="#e3e3e3" stroke-width="1"/>
<line x1="394.50" y1="551.24" x2="683.00" y2="551.24" stroke="#e3e3e3" stroke-width="1"/>
<line x1="394.50" y1="524.90" x2="683.00" y2="524.90" stroke="#e3e3e3" stroke-width="1"/>
<clipPath id="cf"><rect x="394.5" y="506.2" width="288.5" height="203.09999999999997"/></clipPath>
<g clip-path="url(#cf)" fill="none" stroke-linejoin="round">
<path d="M394.0,615.9 395.7,586.1 397.2,596.7 398.7,620.2 400.4,650.0 401.5,605.3 402.5,566.9 406.8,588.2 412.8,608.4 414.2,598.9 415.3,562.6 417.4,577.5 421.7,566.9 423.4,569.0 424.9,594.6 426.0,577.5 428.1,601.0 429.2,562.6 430.2,594.6 431.3,626.6 432.4,560.5 433.4,594.6 434.5,583.9 435.6,562.6 437.7,605.3 438.8,636.2 439.8,583.9 442.0,605.3 443.4,588.2 445.2,601.0 447.3,590.3 448.1,620.7 449.0,571.2 449.7,617.7 450.5,609.5 451.5,600.2 452.6,583.9 453.7,606.6 454.7,601.0 455.8,584.7 456.9,570.1 457.9,609.5 460.1,590.3 460.9,596.7 461.8,581.8 462.5,598.2 463.3,601.0 464.3,605.4 465.4,615.9 465.9,606.5 466.5,601.0 468.2,596.7 469.4,587.7 470.7,590.3 472.4,613.8 474.2,622.9 476.1,558.4 478.2,581.8 478.7,603.4 479.3,590.3 481.2,635.6 483.1,583.9 483.8,628.8 484.6,594.6 485.6,595.6 486.7,630.8 487.2,614.0 487.8,539.2 488.3,587.9 488.8,601.0 489.9,599.1 491.0,581.8 491.7,602.4 492.5,552.0 493.3,623.0 494.2,583.9 495.0,581.8 495.9,601.0 496.6,605.0 497.4,583.9 498.4,590.3 500.6,594.6 501.6,597.9 502.7,592.5 504.8,611.6 505.9,613.9 507.0,609.5 508.0,582.0 509.1,618.0 510.2,609.0 511.2,601.0 512.3,597.2 513.4,592.5 515.5,601.0 516.5,589.8 517.6,605.3 518.7,623.2 519.7,594.6 521.9,609.5 524.0,601.0 525.1,619.0 526.1,618.0 528.3,588.2 529.3,618.7 530.4,562.6 531.3,605.5 532.1,609.5 532.9,594.4 533.6,579.7 535.7,592.5 536.0,589.1 536.5,630.1 537.1,602.1 537.6,606.4 538.2,591.3 538.7,600.4 539.2,617.2 540.3,606.4 541.4,582.7 541.9,601.6 542.5,595.6 544.2,602.1 545.1,584.8 546.8,602.1 548.5,593.5 550.0,602.1 551.6,591.3 553.3,599.9 554.4,584.8 555.4,542.7 556.5,606.4 557.6,591.3 559.3,595.6 560.8,599.9 563.0,587.0 564.1,591.3 565.8,584.8 567.3,604.3 568.4,591.3 570.1,595.6 571.7,587.0 573.2,589.1 574.9,576.2 576.0,595.6 577.1,580.5 578.8,576.2 580.3,625.9 581.4,580.5 583.1,595.6 584.6,582.7 586.1,599.9 587.9,582.7 588.9,595.6 590.0,595.6 601.9,594.5 603.0,571.9 604.1,595.6 605.1,576.2 606.2,602.1 607.3,571.9 609.0,591.3 610.5,602.1 611.6,584.8 613.4,606.4 614.9,580.5 615.9,561.1 617.7,595.6 619.2,610.8 620.3,584.8 622.0,571.9 623.5,597.8 625.0,602.1 626.8,584.8 628.5,606.4 630.0,567.5 631.1,580.5 632.2,558.9 633.2,545.9 634.3,593.5 635.8,580.5 637.6,587.0 639.3,602.1 640.8,571.9 641.9,591.3 643.0,595.6 644.0,554.6 645.1,604.3 646.2,582.7 647.9,602.1 648.8,584.8 650.5,595.6 652.2,587.0 653.8,571.9 654.8,584.8 655.9,591.3 658.1,628.0 660.9,664.8 663.1,621.6 664.6,654.0 674.3,643.2 675.4,632.4 676.4,645.3 678.6,662.6 682.9,608.6" stroke="#ff0000" stroke-width="0.9"/>
<path d="M394.0,601.0 395.7,559.4 397.2,569.0 398.7,613.8 400.0,639.4 400.8,590.3 402.5,566.9 406.8,575.4 414.2,594.6 415.3,562.6 416.4,579.7 419.6,553.0 422.8,550.9 423.8,540.2 424.9,562.6 426.0,557.3 427.0,571.2 428.1,562.6 429.2,545.6 430.2,583.9 431.3,543.4 432.4,611.6 433.4,573.3 434.5,534.9 435.6,583.9 436.6,562.6 437.7,590.3 438.8,543.4 439.8,594.6 440.9,571.2 442.6,579.7 443.4,536.0 444.3,583.9 445.2,618.0 446.2,592.5 447.3,620.2 448.1,603.0 449.0,569.0 449.7,584.0 450.5,620.2 451.0,605.2 451.5,579.7 452.1,598.3 452.6,605.3 453.1,609.8 453.7,573.3 454.2,623.5 454.7,620.2 455.8,583.9 457.3,631.9 457.9,603.9 458.6,594.6 459.3,610.8 460.1,581.8 460.9,612.0 461.8,611.6 462.5,625.4 463.3,605.3 463.8,601.9 464.3,592.5 465.4,639.4 465.9,578.5 466.5,596.7 467.0,580.1 467.5,630.8 468.1,592.6 468.6,601.0 469.7,635.7 470.7,592.5 471.6,605.0 472.4,630.8 473.2,605.4 473.9,575.4 475.0,594.6 476.1,558.4 477.1,616.0 478.2,583.9 478.7,609.0 479.3,594.6 481.2,618.4 483.1,575.4 483.8,591.9 484.6,601.0 485.6,618.2 486.7,645.7 487.8,541.3 488.3,626.5 488.8,605.3 489.6,597.9 490.3,588.2 491.2,613.3 492.0,628.7 492.7,598.2 493.3,571.2 494.0,608.8 494.6,645.7 495.2,589.8 495.9,590.3 496.6,614.8 497.4,613.8 497.9,611.7 498.4,586.1 499.0,599.3 499.5,605.3 500.6,626.7 501.6,598.9 503.8,660.7 504.3,592.1 504.8,605.3 507.0,622.3 508.0,633.0 509.1,609.5 510.2,608.9 511.2,643.6 512.3,601.4 513.4,611.6 514.4,611.8 515.5,626.6 516.5,619.6 517.6,594.6 518.7,594.4 519.7,639.4 520.6,611.5 521.5,611.6 522.9,643.6 523.7,610.4 524.4,588.2 526.1,626.6 527.2,614.9 528.3,609.5 530.4,590.3 532.1,620.2 532.9,606.8 533.6,596.7 535.7,605.3 536.0,591.3 536.5,617.2 537.1,617.2 537.6,617.6 538.2,606.4 539.2,660.4 539.9,679.9 540.8,623.7 541.4,613.1 542.1,632.4 542.8,616.3 543.6,606.4 544.1,594.2 544.6,595.6 545.7,621.6 546.8,606.4 548.5,615.1 550.0,597.8 551.6,612.9 553.3,641.0 554.4,610.8 555.4,558.9 556.5,630.2 557.6,619.4 558.7,606.4 559.8,623.7 561.5,602.1 563.0,610.8 564.1,595.6 565.8,621.6 566.7,649.6 568.0,602.1 569.5,610.8 571.0,602.1 572.7,610.8 573.8,595.6 575.3,619.4 576.6,628.0 577.5,597.8 578.8,606.4 580.3,643.2 581.4,610.8 583.1,602.1 584.6,621.6 586.1,606.4 587.4,630.2 588.9,599.9 590.0,604.3 600.8,610.8 601.9,636.7 603.0,602.1 604.7,621.6 606.2,591.3 607.3,628.0 609.0,602.1 610.5,632.4 611.6,606.4 613.8,619.4 615.5,595.6 617.0,610.8 618.5,623.7 620.3,610.8 622.0,617.2 624.6,628.0 626.8,612.9 628.9,623.7 630.6,628.0 632.2,602.1 633.2,580.5 634.3,638.8 635.4,595.6 637.1,619.4 638.0,589.1 639.3,671.3 640.8,591.3 641.9,619.4 643.6,606.4 645.1,641.0 646.2,591.3 647.9,666.9 648.8,606.4 650.5,623.7 652.2,606.4 653.8,595.6 654.8,628.0 655.9,619.4 658.1,649.6 660.9,685.3 663.1,645.3 664.6,684.2 675.4,666.9 676.4,673.4 678.6,684.2 682.9,660.4" stroke="#0000ff" stroke-width="0.9"/>
<path d="M394.5,576.5 444.1,576.5 446.2,611.2 655.5,611.2" stroke="#19c8fa" stroke-width="2.2"/>
</g>
<line x1="394.50" y1="506.20" x2="394.50" y2="709.80" stroke="#555555" stroke-width="1"/>
<line x1="394.00" y1="709.30" x2="683.00" y2="709.30" stroke="#555555" stroke-width="1"/>
<line x1="412.40" y1="709.30" x2="412.40" y2="706.30" stroke="#555555" stroke-width="1"/>
<text x="412.40" y="722.10" text-anchor="middle" class="tk">2010</text>
<line x1="440.19" y1="709.30" x2="440.19" y2="706.30" stroke="#555555" stroke-width="1"/>
<text x="440.19" y="722.10" text-anchor="middle" class="tk">2011</text>
<line x1="467.98" y1="709.30" x2="467.98" y2="706.30" stroke="#555555" stroke-width="1"/>
<text x="467.98" y="722.10" text-anchor="middle" class="tk">2012</text>
<line x1="495.77" y1="709.30" x2="495.77" y2="706.30" stroke="#555555" stroke-width="1"/>
<text x="495.77" y="722.10" text-anchor="middle" class="tk">2013</text>
<line x1="523.56" y1="709.30" x2="523.56" y2="706.30" stroke="#555555" stroke-width="1"/>
<text x="523.56" y="722.10" text-anchor="middle" class="tk">2014</text>
<line x1="551.34" y1="709.30" x2="551.34" y2="706.30" stroke="#555555" stroke-width="1"/>
<text x="551.34" y="722.10" text-anchor="middle" class="tk">2015</text>
<line x1="579.13" y1="709.30" x2="579.13" y2="706.30" stroke="#555555" stroke-width="1"/>
<text x="579.13" y="722.10" text-anchor="middle" class="tk">2016</text>
<line x1="606.92" y1="709.30" x2="606.92" y2="706.30" stroke="#555555" stroke-width="1"/>
<text x="606.92" y="722.10" text-anchor="middle" class="tk">2017</text>
<line x1="634.71" y1="709.30" x2="634.71" y2="706.30" stroke="#555555" stroke-width="1"/>
<text x="634.71" y="722.10" text-anchor="middle" class="tk">2018</text>
<line x1="662.50" y1="709.30" x2="662.50" y2="706.30" stroke="#555555" stroke-width="1"/>
<text x="662.50" y="722.10" text-anchor="middle" class="tk">2019</text>
<line x1="394.50" y1="709.30" x2="397.50" y2="709.30" stroke="#555555" stroke-width="1"/>
<text x="390.90" y="712.30" text-anchor="end" class="tk">-8</text>
<line x1="394.50" y1="682.96" x2="397.50" y2="682.96" stroke="#555555" stroke-width="1"/>
<text x="390.90" y="685.96" text-anchor="end" class="tk">-6</text>
<line x1="394.50" y1="656.61" x2="397.50" y2="656.61" stroke="#555555" stroke-width="1"/>
<text x="390.90" y="659.61" text-anchor="end" class="tk">-4</text>
<line x1="394.50" y1="630.27" x2="397.50" y2="630.27" stroke="#555555" stroke-width="1"/>
<text x="390.90" y="633.27" text-anchor="end" class="tk">-2</text>
<line x1="394.50" y1="603.93" x2="397.50" y2="603.93" stroke="#555555" stroke-width="1"/>
<text x="390.90" y="606.93" text-anchor="end" class="tk">0</text>
<line x1="394.50" y1="577.59" x2="397.50" y2="577.59" stroke="#555555" stroke-width="1"/>
<text x="390.90" y="580.59" text-anchor="end" class="tk">2</text>
<line x1="394.50" y1="551.24" x2="397.50" y2="551.24" stroke="#555555" stroke-width="1"/>
<text x="390.90" y="554.24" text-anchor="end" class="tk">4</text>
<line x1="394.50" y1="524.90" x2="397.50" y2="524.90" stroke="#555555" stroke-width="1"/>
<text x="390.90" y="527.90" text-anchor="end" class="tk">6</text>
<text x="538.75" y="733.70" text-anchor="middle" class="al">t [years]</text>
<text transform="translate(378.80,607.75) rotate(-90)" text-anchor="middle" class="al">RB [cm]</text>
<text x="538.75" y="502.90" text-anchor="middle" class="ti" style="white-space:pre">JA2    7838 (21726S001)</text>
<line x1="399.80" y1="517.50" x2="404.90" y2="517.50" stroke="#0000ff" stroke-width="1"/>
<line x1="399.80" y1="527.50" x2="404.90" y2="527.50" stroke="#ff0000" stroke-width="1"/>
<text x="407.40" y="520.10" class="lg" style="fill:#0000ff;stroke:#0000ff">SLRF2020, RB est.</text>
<text x="407.40" y="530.00" class="lg" style="fill:#ff0000;stroke:#ff0000">SLRF2014, RB est.</text>
<text x="498.59" y="520.10" class="lg">Wmean(Δ): -0.178 cm</text>
<text x="498.59" y="530.00" class="lg">Wmean:</text>
<text x="582.89" y="530.00" class="lg" text-anchor="end">0.315 cm</text>
<text x="599.91" y="520.10" class="lg">WRMS(Δ): 1.426 cm</text>
<text x="599.91" y="530.00" class="lg">WRMS:</text>
<text x="679.11" y="530.00" class="lg" text-anchor="end">1.333 cm</text>
<text x="400.10" y="702.50" class="lg">outliers: 3 %</text>
<text x="673.90" y="703.00" class="cy" text-anchor="end">– RB ILRS DHF for SLRF2020</text>
<text x="350.70" y="737.40" class="pl">(f)</text>
</g>
<g>
<line x1="56.50" y1="755.30" x2="56.50" y2="958.30" stroke="#e3e3e3" stroke-width="1"/>
<line x1="82.29" y1="755.30" x2="82.29" y2="958.30" stroke="#e3e3e3" stroke-width="1"/>
<line x1="108.08" y1="755.30" x2="108.08" y2="958.30" stroke="#e3e3e3" stroke-width="1"/>
<line x1="133.87" y1="755.30" x2="133.87" y2="958.30" stroke="#e3e3e3" stroke-width="1"/>
<line x1="159.66" y1="755.30" x2="159.66" y2="958.30" stroke="#e3e3e3" stroke-width="1"/>
<line x1="185.45" y1="755.30" x2="185.45" y2="958.30" stroke="#e3e3e3" stroke-width="1"/>
<line x1="211.24" y1="755.30" x2="211.24" y2="958.30" stroke="#e3e3e3" stroke-width="1"/>
<line x1="237.03" y1="755.30" x2="237.03" y2="958.30" stroke="#e3e3e3" stroke-width="1"/>
<line x1="262.82" y1="755.30" x2="262.82" y2="958.30" stroke="#e3e3e3" stroke-width="1"/>
<line x1="288.61" y1="755.30" x2="288.61" y2="958.30" stroke="#e3e3e3" stroke-width="1"/>
<line x1="314.40" y1="755.30" x2="314.40" y2="958.30" stroke="#e3e3e3" stroke-width="1"/>
<line x1="45.30" y1="931.91" x2="333.60" y2="931.91" stroke="#e3e3e3" stroke-width="1"/>
<line x1="45.30" y1="905.53" x2="333.60" y2="905.53" stroke="#e3e3e3" stroke-width="1"/>
<line x1="45.30" y1="879.14" x2="333.60" y2="879.14" stroke="#e3e3e3" stroke-width="1"/>
<line x1="45.30" y1="852.76" x2="333.60" y2="852.76" stroke="#e3e3e3" stroke-width="1"/>
<line x1="45.30" y1="826.37" x2="333.60" y2="826.37" stroke="#e3e3e3" stroke-width="1"/>
<line x1="45.30" y1="799.99" x2="333.60" y2="799.99" stroke="#e3e3e3" stroke-width="1"/>
<line x1="45.30" y1="773.60" x2="333.60" y2="773.60" stroke="#e3e3e3" stroke-width="1"/>
<clipPath id="cg"><rect x="45.3" y="755.3" width="288.3" height="203.0"/></clipPath>
<g clip-path="url(#cg)" fill="none" stroke-linejoin="round">
<path d="M45.2,925.1 45.9,901.4 46.2,869.2 46.4,861.3 47.6,925.8 49.4,899.6 49.7,872.0 50.4,846.8 51.8,865.0 52.5,899.1 52.7,856.5 52.9,895.3 53.3,867.4 54.0,875.8 54.3,845.7 55.0,842.4 55.8,830.6 56.1,870.9 56.5,877.3 56.7,866.3 57.1,816.0 57.4,875.8 57.7,868.6 58.0,877.7 58.2,901.4 58.5,859.2 58.6,860.8 58.7,873.9 58.7,891.1 59.3,888.9 59.6,887.4 60.2,912.4 60.4,890.9 60.9,849.7 61.4,863.6 63.4,884.5 63.6,858.6 64.1,881.7 64.2,897.9 66.2,877.1 66.4,870.9 67.1,829.7 67.5,876.4 68.2,876.7 68.4,861.6 68.7,907.3 69.0,843.3 69.7,837.7 69.8,880.5 69.8,890.0 70.8,870.2 70.9,863.4 71.1,891.8 71.2,928.9 72.1,872.3 73.4,894.9 73.7,844.2 74.0,878.2 74.8,879.9 76.0,885.2 76.7,910.2 76.8,905.3 77.4,840.5 77.7,851.5 77.8,910.6 78.1,871.5 78.3,886.8 79.1,855.8 79.5,841.1 80.1,885.5 80.9,850.1 81.2,880.1 81.6,855.6 82.3,824.4 82.5,850.9 84.0,859.5 84.0,820.7 84.6,878.4 84.6,850.7 85.6,868.3 86.4,907.6 86.5,868.6 87.2,860.2 87.6,917.8 87.9,924.8 87.9,876.1 88.3,873.4 88.4,877.2 89.2,831.5 89.4,811.1 89.4,879.2 89.9,866.4 90.0,889.5 90.8,835.0 91.4,930.5 91.5,846.7 91.8,911.5 91.8,863.5 91.8,859.3 91.8,901.7 92.8,871.4 94.2,829.1 94.5,885.5 95.1,877.2 95.3,915.3 95.4,891.1 95.9,920.7 96.2,848.4 96.4,884.0 96.9,848.1 97.0,855.4 98.1,881.1 98.1,858.0 98.1,851.0 98.1,845.7 99.1,934.3 99.5,840.5 100.1,843.4 100.2,868.8 100.6,878.7 101.6,873.2 101.7,857.9 101.7,933.4 101.8,836.0 102.0,905.0 102.1,831.5 103.1,868.8 103.3,855.9 103.4,870.9 103.6,900.3 103.8,909.7 103.9,898.3 104.0,857.1 104.7,884.1 105.0,875.5 105.9,873.5 106.5,891.0 107.1,875.7 107.2,825.8 107.3,833.5 107.4,808.9 108.6,895.6 108.6,897.2 109.1,871.5 110.4,920.0 110.4,871.3 111.8,841.5 111.9,867.3 112.2,882.4 112.2,921.5 112.3,875.0 112.5,900.5 112.6,863.9 112.7,869.1 112.8,920.6 112.9,906.9 113.0,894.3 113.0,866.4 113.2,847.8 113.7,901.5 113.9,887.4 114.1,862.5 114.2,912.4 114.5,896.4 115.0,894.2 115.0,890.6 116.6,844.3 117.7,874.7 117.8,914.6 119.4,847.3 119.5,891.8 119.9,889.8 119.9,856.6 120.4,885.5 120.9,909.9 121.1,905.4 121.4,889.7 121.4,868.4 123.0,863.5 123.3,889.8 123.8,907.8 123.8,857.7 124.2,910.8 124.5,882.1 124.8,849.4 124.9,893.1 125.2,873.6 126.1,890.1 126.3,887.1 127.3,882.2 128.8,862.9 129.1,894.4 129.3,892.6 130.3,849.1 131.9,858.1 133.1,854.0 133.4,885.7 133.4,882.6 134.1,868.4 134.1,877.1 134.2,875.2 134.6,838.9 135.5,826.5 136.0,867.0 136.1,880.6 136.3,863.5 136.4,879.0 136.6,891.0 137.0,869.6 137.5,886.7 137.6,842.5 138.2,867.5 138.4,868.5 138.5,887.4 139.0,849.8 139.3,843.7 139.9,848.8 140.5,878.5 140.6,861.1 140.7,929.4 141.9,858.1 142.7,844.8 142.8,907.6 143.9,866.7 144.3,905.4 145.0,886.6 145.7,893.7 146.7,840.6 146.9,866.4 147.7,880.1 148.7,875.6 149.1,816.8 150.1,873.4 150.4,865.4 151.0,926.8 151.8,850.1 152.1,871.3 153.1,893.6 153.4,886.8 153.9,864.3 154.0,868.7 155.4,901.9 156.0,874.0 156.4,880.1 156.5,893.5 156.6,834.1 156.7,860.5 157.1,913.7 157.9,875.6 158.7,877.6 159.2,865.9 159.3,892.0 159.5,922.6 159.6,900.8 159.9,828.8 160.7,819.1 161.0,882.0 161.3,929.6 161.7,895.5 162.4,863.9 162.6,846.1 162.6,856.5 162.6,849.3 163.7,847.4 163.7,871.7 163.8,880.2 165.2,896.5 165.5,918.1 165.5,895.1 165.7,886.2 165.8,843.8 165.9,917.0 166.4,851.8 166.4,912.0 166.8,837.9 168.0,896.7 168.1,864.4 168.1,884.1 168.5,878.0 168.6,902.8 169.0,872.0 169.3,886.2 170.8,854.5 171.0,876.2 171.2,884.3 171.7,930.3 171.8,875.7 171.9,934.1 174.1,875.5 175.0,878.8 175.9,857.9 176.1,915.5 176.7,855.5 176.8,878.3 177.0,862.5 177.6,881.0 179.1,869.1 181.1,838.2 181.3,873.6 181.5,853.7 182.5,878.2 182.6,867.2 182.8,843.5 182.9,875.6 183.5,871.6 183.7,841.9 183.7,861.2 183.7,881.1 184.0,872.3 184.5,903.7 184.6,889.0 184.9,901.4 185.3,869.0 185.6,861.7 186.7,918.9 187.2,848.3 187.6,867.2 188.8,897.8 190.4,912.7 190.6,924.0 191.6,892.0 191.7,887.2 191.8,860.7 193.1,819.2 193.4,865.2 193.6,855.0 193.6,901.2 193.8,872.5 193.9,852.8 194.5,858.5 194.9,906.4 195.2,835.8 195.4,867.7 195.4,916.3 196.4,858.0 196.8,921.8 196.8,918.4 197.5,917.6 197.7,886.4 198.4,844.2 198.9,861.4 199.0,891.6 199.1,843.4 199.3,865.7 199.9,852.2 200.0,908.9 201.4,864.1 202.0,884.1 202.1,923.2 202.2,860.3 202.3,874.4 202.4,871.7 202.4,890.8 203.3,910.4 203.9,848.3 204.0,879.3 204.0,855.9 204.7,877.4 205.0,871.0 205.1,893.2 206.2,869.8 206.2,878.9 206.3,890.2 206.3,883.9 207.4,867.8 208.0,863.0 208.0,874.3 208.3,900.8 208.3,857.6 208.4,886.4 208.9,930.1 209.8,907.0 210.2,858.9 210.6,881.1 210.8,852.7 211.9,854.0 212.3,824.0 212.4,845.5 212.6,961.6 212.6,884.2 212.9,939.0 212.9,870.3 213.4,871.0 214.5,846.8 215.4,855.4 216.9,851.8 217.1,888.6 217.6,896.3 217.8,870.5 217.8,888.7 218.4,903.4 219.0,850.3 219.1,887.1 219.1,888.3 219.2,869.5 219.9,884.2 220.9,853.9 221.0,843.5 221.4,895.5 222.5,856.0 222.9,852.6 223.0,856.9 223.3,886.8 223.4,809.1 224.1,856.7 224.1,849.0 224.9,878.2 225.2,812.0 226.8,878.5 227.2,890.6 227.9,898.6 228.6,873.1 229.2,904.3 229.4,874.8 229.6,869.2 229.6,836.4 229.9,844.8 230.0,845.0 230.4,841.8 231.1,798.7 231.3,862.2 231.8,833.9 232.1,847.2 232.3,850.3 232.4,910.0 232.4,865.5 232.6,827.4 232.9,888.6 233.0,882.1 233.4,861.8 233.8,848.5 234.2,855.2 234.3,863.5 234.4,906.4 234.6,841.8 235.1,871.1 235.5,876.4 236.1,878.7 236.8,851.7 236.9,927.9 237.3,910.8 237.4,834.7 238.1,852.9 238.2,898.3 238.3,824.4 238.9,885.7 239.4,865.8 239.6,847.3 239.7,887.8 241.0,849.6 241.1,853.6 241.5,887.3 242.3,899.1 242.4,835.7 243.0,867.8 243.1,820.8 243.5,851.7 244.1,862.0 244.5,871.2 245.0,898.0 245.1,868.2 245.2,891.6 245.6,842.3 246.0,846.7 246.1,932.4 247.0,897.6 248.0,897.4 248.3,841.8 248.3,852.9 248.5,850.5 249.2,865.3 249.2,840.7 249.3,896.9 250.7,842.3 251.1,853.8 251.1,857.8 251.4,869.6 251.7,961.6 251.9,838.9 252.5,895.4 252.9,854.5 253.0,884.3 253.2,850.2 254.1,867.1 255.0,847.4 255.3,871.2 255.4,852.9 255.4,857.3 255.5,926.9 255.7,840.4 255.7,857.2 257.1,870.0 257.2,880.1 257.6,855.0 257.7,894.2 257.7,875.6 258.9,871.2 258.9,800.2 259.2,890.3 259.9,908.2 260.9,889.5 261.4,881.5 262.6,883.2 262.7,873.1 262.8,849.2 262.9,859.7 265.7,868.6 266.3,803.9 266.5,841.3 266.6,840.1 266.7,869.3 266.9,891.2 267.0,859.1 267.2,922.6 267.7,889.2 267.7,886.4 267.7,900.3 267.8,826.2 267.8,832.8 267.9,880.8 268.3,900.3 269.2,845.8 269.2,863.0 269.3,869.8 269.5,848.5 270.6,888.5 271.2,855.6 272.2,796.4 272.5,845.9 272.6,852.8 272.6,817.4 273.1,827.7 273.5,817.2 273.8,881.6 274.3,881.2 274.3,862.6 274.3,886.6 275.0,895.2 275.9,826.2 275.9,872.6 276.1,905.3 277.0,852.8 277.2,865.4 277.2,866.3 278.6,862.4 278.8,856.0 278.8,891.8 279.2,871.1 280.2,859.9 280.6,840.8 281.4,864.4 281.6,894.0 282.1,851.4 282.4,897.7 282.7,866.6 284.1,852.0 284.3,876.1 284.3,850.9 284.5,874.6 284.6,891.6 284.8,880.1 286.6,865.2 286.7,859.6 288.6,901.6 289.3,849.9 289.3,867.4 290.6,838.4 290.7,914.2 291.3,857.4 292.8,890.9 293.2,888.1 293.3,921.2 293.4,843.4 293.7,910.5 293.7,854.0 294.7,918.9 295.0,859.3 295.0,911.6 295.8,878.8 296.2,834.3 296.5,843.7 296.7,920.2 297.2,872.0 297.3,953.5 299.1,866.7 299.5,935.9 300.5,855.5 301.2,874.9 301.6,846.8 302.1,882.5 302.1,844.2 302.2,855.5 302.4,825.3 302.4,886.3 302.5,873.6 302.6,885.1 303.0,874.3 303.4,839.6 303.6,863.0 304.2,874.1 305.3,863.0 305.6,861.5 306.6,854.8 306.7,819.1 307.1,858.9 307.9,800.5 307.9,836.4 308.3,843.1 308.4,886.4 308.6,875.4 308.7,873.3 308.8,829.9 309.2,894.8 309.6,885.5 309.9,892.1 310.1,834.4 310.3,924.6 310.3,853.5 311.1,861.9 311.1,865.4 311.8,837.0 312.2,856.6 312.6,921.8 312.9,851.6 313.6,882.3 314.4,852.7 322.1,889.0 324.7,884.7 327.3,833.4 329.9,934.0 332.5,863.7 333.5,851.8" stroke="#ff0000" stroke-width="0.6"/>
<path d="M45.2,919.8 45.9,898.3 46.2,868.8 46.4,860.9 47.6,920.5 49.4,896.7 49.7,871.5 50.4,846.4 51.8,864.6 52.5,896.2 52.7,856.1 52.9,892.7 53.3,867.0 54.0,875.0 54.3,845.3 55.0,842.0 55.8,830.2 56.1,870.5 56.5,876.4 56.7,865.9 57.1,815.6 57.4,875.0 57.7,868.2 58.0,876.7 58.2,898.3 58.5,858.8 58.6,860.4 58.7,873.3 58.7,888.9 59.3,886.9 59.6,885.6 60.2,908.3 60.4,888.7 60.9,849.3 61.4,863.2 63.4,883.0 63.6,858.2 64.1,880.4 64.2,895.1 66.2,876.2 66.4,870.5 67.1,829.3 67.5,875.6 68.2,875.8 68.4,861.2 68.7,903.6 69.0,842.9 69.7,837.3 69.8,879.3 69.8,887.9 70.8,869.8 70.9,863.0 71.1,889.6 71.2,923.3 72.1,871.8 73.4,892.4 73.7,843.8 74.0,877.2 74.8,878.8 76.0,883.6 76.7,906.3 76.8,901.8 77.4,840.1 77.7,851.1 77.8,906.7 78.1,871.1 78.3,885.0 79.1,855.4 79.5,840.7 80.1,883.9 80.9,849.7 81.2,878.9 81.6,855.2 82.3,824.0 82.5,850.5 84.0,859.1 84.0,820.3 84.6,877.4 84.6,850.3 85.6,867.9 86.4,903.9 86.5,868.2 87.2,859.8 87.6,913.2 87.9,919.6 87.9,875.3 88.3,872.8 88.4,876.3 89.2,831.1 89.4,810.7 89.4,878.1 89.9,866.0 90.0,887.5 90.8,834.6 91.4,924.7 91.5,846.3 91.8,907.5 91.8,863.1 91.8,858.9 91.8,898.6 92.8,871.0 94.2,828.7 94.5,883.8 95.1,876.3 95.3,910.9 95.4,888.9 95.9,915.8 96.2,848.0 96.4,882.5 96.9,847.7 97.0,855.0 98.1,879.8 98.1,857.6 98.1,850.6 98.1,845.3 99.1,928.2 99.5,840.1 100.1,843.0 100.2,868.4 100.6,877.7 101.6,872.6 101.7,857.5 101.7,927.4 101.8,835.6 102.0,901.5 102.1,831.1 103.1,868.4 103.3,855.5 103.4,870.5 103.6,897.3 103.8,905.8 103.9,895.5 104.0,856.7 104.7,882.6 105.0,874.7 105.9,872.9 106.5,888.9 107.1,874.9 107.2,825.4 107.3,833.1 107.4,808.5 108.6,893.0 108.6,894.5 109.1,871.1 110.4,915.2 110.4,870.9 111.8,841.1 111.9,866.9 112.2,881.0 112.2,916.5 112.3,874.3 112.5,897.5 112.6,863.5 112.7,868.7 112.8,915.7 112.9,903.3 113.0,891.9 113.0,866.0 113.2,847.4 113.7,898.4 113.9,885.6 114.1,862.1 114.2,908.3 114.5,893.7 115.0,891.8 115.0,888.5 116.6,843.9 117.7,874.1 117.8,910.3 119.4,846.9 119.5,889.6 119.9,887.8 119.9,856.2 120.4,883.8 120.9,906.0 121.1,902.0 121.4,887.6 121.4,868.0 123.0,863.1 123.3,887.7 123.8,904.1 123.8,857.3 124.2,906.8 124.5,880.7 124.8,849.0 124.9,890.7 125.2,873.0 126.1,888.0 126.3,885.3 127.3,880.9 128.8,862.5 129.1,891.9 129.3,890.3 130.3,848.7 131.9,857.7 133.1,853.6 133.4,884.0 133.4,881.2 134.1,868.0 134.1,876.2 134.2,874.4 134.6,838.5 135.5,826.1 136.0,866.6 136.1,879.4 136.3,863.1 136.4,877.9 136.6,888.9 137.0,869.2 137.5,885.0 137.6,842.1 138.2,867.1 138.4,868.1 138.5,885.6 139.0,849.4 139.3,843.3 139.9,848.4 140.5,877.5 140.6,860.7 140.7,923.8 141.9,857.7 142.7,844.4 142.8,904.0 143.9,866.3 144.3,901.9 145.0,884.9 145.7,891.3 146.7,840.2 146.9,866.0 147.7,878.9 148.7,874.8 149.1,816.4 150.1,872.8 150.4,865.0 151.0,921.4 151.8,849.7 152.1,870.9 153.1,891.2 153.4,885.0 153.9,863.9 154.0,868.3 155.4,898.8 156.0,873.4 156.4,878.9 156.5,891.1 156.6,833.7 156.7,860.1 157.1,909.5 157.9,874.9 158.7,876.6 159.2,865.5 159.3,889.7 159.5,917.6 159.6,897.7 159.9,828.4 160.7,818.7 161.0,880.6 161.3,924.0 161.7,892.9 162.4,863.5 162.6,845.7 162.6,856.1 162.6,848.9 163.7,847.0 163.7,871.3 163.8,879.0 165.2,893.8 165.5,913.4 165.5,892.5 165.7,884.5 165.8,843.4 165.9,912.5 166.4,851.4 166.4,907.9 166.8,837.5 168.0,894.0 168.1,864.0 168.1,882.5 168.5,877.0 168.6,899.5 169.0,871.6 169.3,884.5 170.8,854.1 171.0,875.4 171.2,882.7 171.7,924.6 171.8,874.9 171.9,928.0 174.1,874.8 175.0,877.8 175.9,857.5 176.1,911.1 176.7,855.1 176.8,877.3 177.0,862.1 177.6,879.8 179.1,868.7 181.1,837.8 181.3,873.0 181.5,853.3 182.5,877.2 182.6,866.8 182.8,843.1 182.9,874.8 183.5,871.2 183.7,841.5 183.7,860.8 183.7,879.9 184.0,871.8 184.5,900.4 184.6,887.0 184.9,898.3 185.3,868.6 185.6,861.3 186.7,914.2 187.2,847.9 187.6,866.8 188.8,895.0 190.4,908.6 190.6,918.9 191.6,889.7 191.7,885.4 191.8,860.3 193.1,818.8 193.4,864.8 193.6,854.6 193.6,898.1 193.8,872.0 193.9,852.4 194.5,858.1 194.9,902.8 195.2,835.4 195.4,867.3 195.4,911.8 196.4,857.6 196.8,916.9 196.8,913.8 197.5,913.0 197.7,884.7 198.4,843.8 198.9,861.0 199.0,889.4 199.1,843.0 199.3,865.3 199.9,851.8 200.0,905.1 201.4,863.7 202.0,882.6 202.1,918.1 202.2,859.9 202.3,873.8 202.4,871.3 202.4,888.7 203.3,906.5 203.9,847.9 204.0,878.2 204.0,855.5 204.7,876.5 205.0,870.6 205.1,890.8 206.2,869.4 206.2,877.8 206.3,888.2 206.3,882.4 207.4,867.4 208.0,862.6 208.0,873.7 208.3,897.7 208.3,857.2 208.4,884.6 208.9,924.3 209.8,903.4 210.2,858.5 210.6,879.8 210.8,852.3 211.9,853.6 212.3,823.6 212.4,845.1 212.6,949.1 212.6,882.7 212.9,932.5 212.9,869.9 213.4,870.6 214.5,846.4 215.4,855.0 216.9,851.4 217.1,886.6 217.6,893.7 217.8,870.1 217.8,886.7 218.4,900.1 219.0,849.9 219.1,885.3 219.1,886.4 219.2,869.1 219.9,882.6 220.9,853.5 221.0,843.1 221.4,892.9 222.5,855.6 222.9,852.2 223.0,856.5 223.3,885.1 223.4,808.7 224.1,856.3 224.1,848.6 224.9,877.2 225.2,811.6 226.8,877.4 227.2,888.5 227.9,895.8 228.6,872.6 229.2,900.9 229.4,874.1 229.6,868.8 229.6,836.0 229.9,844.4 230.0,844.6 230.4,841.4 231.1,798.3 231.3,861.8 231.8,833.5 232.1,846.8 232.3,849.9 232.4,906.1 232.4,865.1 232.6,827.0 232.9,886.7 233.0,880.7 233.4,861.4 233.8,848.1 234.2,854.8 234.3,863.1 234.4,902.8 234.6,841.4 235.1,870.7 235.5,875.6 236.1,877.6 236.8,851.3 236.9,922.4 237.3,906.9 237.4,834.3 238.1,852.5 238.2,895.5 238.3,824.0 238.9,884.1 239.4,865.4 239.6,846.9 239.7,885.9 241.0,849.2 241.1,853.2 241.5,885.4 242.3,896.2 242.4,835.3 243.0,867.4 243.1,820.4 243.5,851.3 244.1,861.6 244.5,870.8 245.0,895.2 245.1,867.8 245.2,889.4 245.6,841.9 246.0,846.3 246.1,926.5 247.0,894.8 248.0,894.7 248.3,841.4 248.3,852.5 248.5,850.1 249.2,864.9 249.2,840.3 249.3,894.2 250.7,841.9 251.1,853.4 251.1,857.4 251.4,869.2 251.7,949.1 251.9,838.5 252.5,892.9 252.9,854.1 253.0,882.7 253.2,849.8 254.1,866.7 255.0,847.0 255.3,870.8 255.4,852.5 255.4,856.9 255.5,921.5 255.7,840.0 255.7,856.8 257.1,869.6 257.2,878.9 257.6,854.6 257.7,891.8 257.7,874.9 258.9,870.8 258.9,799.8 259.2,888.2 259.9,904.5 260.9,887.4 261.4,880.2 262.6,881.8 262.7,872.6 262.8,848.8 262.9,859.3 265.7,868.2 266.3,803.5 266.5,840.9 266.6,839.7 266.7,868.9 266.9,889.0 267.0,858.7 267.2,917.6 267.7,887.2 267.7,884.7 267.7,897.3 267.8,825.8 267.8,832.4 267.9,879.6 268.3,897.3 269.2,845.4 269.2,862.6 269.3,869.4 269.5,848.1 270.6,886.5 271.2,855.2 272.2,797.3 272.5,845.5 272.6,852.4 272.6,817.0 273.1,827.3 273.5,816.8 273.8,880.3 274.3,879.9 274.3,862.2 274.3,884.8 275.0,892.6 275.9,825.8 275.9,872.1 276.1,901.9 277.0,852.4 277.2,865.0 277.2,865.9 278.6,862.0 278.8,855.6 278.8,889.6 279.2,870.7 280.2,859.5 280.6,840.4 281.4,864.0 281.6,891.6 282.1,851.0 282.4,894.9 282.7,866.2 284.1,851.6 284.3,875.3 284.3,850.5 284.5,873.9 284.6,889.4 284.8,878.9 286.6,864.8 286.7,859.2 288.6,898.5 289.3,849.5 289.3,867.0 290.6,838.0 290.7,909.9 291.3,857.0 292.8,888.7 293.2,886.2 293.3,916.3 293.4,843.0 293.7,906.6 293.7,853.6 294.7,914.2 295.0,858.9 295.0,907.6 295.8,877.8 296.2,833.9 296.5,843.3 296.7,915.4 297.2,871.6 297.3,945.6 299.1,866.3 299.5,929.7 300.5,855.1 301.2,874.2 301.6,846.4 302.1,881.1 302.1,843.8 302.2,855.1 302.4,824.9 302.4,884.5 302.5,873.0 302.6,883.5 303.0,873.7 303.4,839.2 303.6,862.6 304.2,873.4 305.3,862.6 305.6,861.1 306.6,854.4 306.7,818.7 307.1,858.5 307.9,800.1 307.9,836.0 308.3,842.7 308.4,884.7 308.6,874.6 308.7,872.8 308.8,829.5 309.2,892.3 309.6,883.8 309.9,889.8 310.1,834.0 310.3,919.4 310.3,853.1 311.1,861.5 311.1,865.0 311.8,836.6 312.2,856.2 312.6,916.8 312.9,851.2 313.6,880.9 314.4,852.3 322.1,887.1 324.7,883.1 327.3,833.0 329.9,925.3 332.5,866.0 333.5,852.8" stroke="#0000ff" stroke-width="0.75"/>
<path d="M45.3,877.0 174.9,877.0 175.6,872.4 211.5,872.4 216.4,866.6 333.6,866.6" stroke="#19c8fa" stroke-width="2.2"/>
</g>
<line x1="45.30" y1="755.30" x2="45.30" y2="958.80" stroke="#555555" stroke-width="1"/>
<line x1="44.80" y1="958.30" x2="333.60" y2="958.30" stroke="#555555" stroke-width="1"/>
<line x1="56.50" y1="958.30" x2="56.50" y2="955.30" stroke="#555555" stroke-width="1"/>
<text x="56.50" y="971.10" text-anchor="middle" class="tk">2009</text>
<line x1="82.29" y1="958.30" x2="82.29" y2="955.30" stroke="#555555" stroke-width="1"/>
<text x="82.29" y="971.10" text-anchor="middle" class="tk">2010</text>
<line x1="108.08" y1="958.30" x2="108.08" y2="955.30" stroke="#555555" stroke-width="1"/>
<text x="108.08" y="971.10" text-anchor="middle" class="tk">2011</text>
<line x1="133.87" y1="958.30" x2="133.87" y2="955.30" stroke="#555555" stroke-width="1"/>
<text x="133.87" y="971.10" text-anchor="middle" class="tk">2012</text>
<line x1="159.66" y1="958.30" x2="159.66" y2="955.30" stroke="#555555" stroke-width="1"/>
<text x="159.66" y="971.10" text-anchor="middle" class="tk">2013</text>
<line x1="185.45" y1="958.30" x2="185.45" y2="955.30" stroke="#555555" stroke-width="1"/>
<text x="185.45" y="971.10" text-anchor="middle" class="tk">2014</text>
<line x1="211.24" y1="958.30" x2="211.24" y2="955.30" stroke="#555555" stroke-width="1"/>
<text x="211.24" y="971.10" text-anchor="middle" class="tk">2015</text>
<line x1="237.03" y1="958.30" x2="237.03" y2="955.30" stroke="#555555" stroke-width="1"/>
<text x="237.03" y="971.10" text-anchor="middle" class="tk">2016</text>
<line x1="262.82" y1="958.30" x2="262.82" y2="955.30" stroke="#555555" stroke-width="1"/>
<text x="262.82" y="971.10" text-anchor="middle" class="tk">2017</text>
<line x1="288.61" y1="958.30" x2="288.61" y2="955.30" stroke="#555555" stroke-width="1"/>
<text x="288.61" y="971.10" text-anchor="middle" class="tk">2018</text>
<line x1="314.40" y1="958.30" x2="314.40" y2="955.30" stroke="#555555" stroke-width="1"/>
<text x="314.40" y="971.10" text-anchor="middle" class="tk">2019</text>
<line x1="45.30" y1="958.30" x2="48.30" y2="958.30" stroke="#555555" stroke-width="1"/>
<text x="41.70" y="961.30" text-anchor="end" class="tk">-6</text>
<line x1="45.30" y1="931.91" x2="48.30" y2="931.91" stroke="#555555" stroke-width="1"/>
<text x="41.70" y="934.91" text-anchor="end" class="tk">-4</text>
<line x1="45.30" y1="905.53" x2="48.30" y2="905.53" stroke="#555555" stroke-width="1"/>
<text x="41.70" y="908.53" text-anchor="end" class="tk">-2</text>
<line x1="45.30" y1="879.14" x2="48.30" y2="879.14" stroke="#555555" stroke-width="1"/>
<text x="41.70" y="882.14" text-anchor="end" class="tk">0</text>
<line x1="45.30" y1="852.76" x2="48.30" y2="852.76" stroke="#555555" stroke-width="1"/>
<text x="41.70" y="855.76" text-anchor="end" class="tk">2</text>
<line x1="45.30" y1="826.37" x2="48.30" y2="826.37" stroke="#555555" stroke-width="1"/>
<text x="41.70" y="829.37" text-anchor="end" class="tk">4</text>
<line x1="45.30" y1="799.99" x2="48.30" y2="799.99" stroke="#555555" stroke-width="1"/>
<text x="41.70" y="802.99" text-anchor="end" class="tk">6</text>
<line x1="45.30" y1="773.60" x2="48.30" y2="773.60" stroke="#555555" stroke-width="1"/>
<text x="41.70" y="776.60" text-anchor="end" class="tk">8</text>
<text x="189.45" y="982.70" text-anchor="middle" class="al">t [years]</text>
<text transform="translate(29.10,856.80) rotate(-90)" text-anchor="middle" class="al">RB [cm]</text>
<text x="189.45" y="752.00" text-anchor="middle" class="ti" style="white-space:pre">JA2    7119 (40445M004)</text>
<line x1="50.60" y1="766.50" x2="55.70" y2="766.50" stroke="#0000ff" stroke-width="1"/>
<line x1="50.60" y1="776.50" x2="55.70" y2="776.50" stroke="#ff0000" stroke-width="1"/>
<text x="58.20" y="769.20" class="lg" style="fill:#0000ff;stroke:#0000ff">SLRF2020, RB est.</text>
<text x="58.20" y="779.10" class="lg" style="fill:#ff0000;stroke:#ff0000">SLRF2014, RB est.</text>
<text x="149.32" y="769.20" class="lg">Wmean(Δ): -0.129 cm</text>
<text x="149.32" y="779.10" class="lg">Wmean:</text>
<text x="233.62" y="779.10" class="lg" text-anchor="end">0.163 cm</text>
<text x="250.57" y="769.20" class="lg">WRMS(Δ): 1.740 cm</text>
<text x="250.57" y="779.10" class="lg">WRMS:</text>
<text x="329.77" y="779.10" class="lg" text-anchor="end">1.803 cm</text>
<text x="50.90" y="951.50" class="lg">outliers: 1 %</text>
<text x="324.50" y="952.00" class="cy" text-anchor="end">– RB ILRS DHF for SLRF2020</text>
<text x="-0.40" y="986.90" class="pl">(g)</text>
</g>
<g>
<line x1="411.50" y1="761.00" x2="411.50" y2="959.00" stroke="#e3e3e3" stroke-width="1"/>
<line x1="436.63" y1="761.00" x2="436.63" y2="959.00" stroke="#e3e3e3" stroke-width="1"/>
<line x1="461.76" y1="761.00" x2="461.76" y2="959.00" stroke="#e3e3e3" stroke-width="1"/>
<line x1="486.89" y1="761.00" x2="486.89" y2="959.00" stroke="#e3e3e3" stroke-width="1"/>
<line x1="512.02" y1="761.00" x2="512.02" y2="959.00" stroke="#e3e3e3" stroke-width="1"/>
<line x1="537.15" y1="761.00" x2="537.15" y2="959.00" stroke="#e3e3e3" stroke-width="1"/>
<line x1="562.28" y1="761.00" x2="562.28" y2="959.00" stroke="#e3e3e3" stroke-width="1"/>
<line x1="587.41" y1="761.00" x2="587.41" y2="959.00" stroke="#e3e3e3" stroke-width="1"/>
<line x1="612.54" y1="761.00" x2="612.54" y2="959.00" stroke="#e3e3e3" stroke-width="1"/>
<line x1="637.67" y1="761.00" x2="637.67" y2="959.00" stroke="#e3e3e3" stroke-width="1"/>
<line x1="662.80" y1="761.00" x2="662.80" y2="959.00" stroke="#e3e3e3" stroke-width="1"/>
<line x1="400.60" y1="941.00" x2="681.80" y2="941.00" stroke="#e3e3e3" stroke-width="1"/>
<line x1="400.60" y1="923.00" x2="681.80" y2="923.00" stroke="#e3e3e3" stroke-width="1"/>
<line x1="400.60" y1="905.00" x2="681.80" y2="905.00" stroke="#e3e3e3" stroke-width="1"/>
<line x1="400.60" y1="887.00" x2="681.80" y2="887.00" stroke="#e3e3e3" stroke-width="1"/>
<line x1="400.60" y1="869.00" x2="681.80" y2="869.00" stroke="#e3e3e3" stroke-width="1"/>
<line x1="400.60" y1="851.00" x2="681.80" y2="851.00" stroke="#e3e3e3" stroke-width="1"/>
<line x1="400.60" y1="833.00" x2="681.80" y2="833.00" stroke="#e3e3e3" stroke-width="1"/>
<line x1="400.60" y1="815.00" x2="681.80" y2="815.00" stroke="#e3e3e3" stroke-width="1"/>
<line x1="400.60" y1="797.00" x2="681.80" y2="797.00" stroke="#e3e3e3" stroke-width="1"/>
<line x1="400.60" y1="779.00" x2="681.80" y2="779.00" stroke="#e3e3e3" stroke-width="1"/>
<line x1="400.60" y1="761.00" x2="681.80" y2="761.00" stroke="#e3e3e3" stroke-width="1"/>
<clipPath id="ch"><rect x="400.6" y="761.0" width="281.19999999999993" height="198.0"/></clipPath>
<g clip-path="url(#ch)" fill="none" stroke-linejoin="round">
<path d="M400.6,845.9 400.7,849.4 400.7,879.4 400.7,929.9 401.2,895.0 401.8,892.0 402.3,881.8 402.6,831.3 403.5,836.9 403.7,847.2 403.9,813.1 403.9,844.4 404.0,860.9 404.5,869.1 404.9,864.4 406.0,868.5 406.3,839.9 406.8,834.4 408.3,871.8 408.6,847.8 408.7,874.3 408.9,832.4 409.0,890.1 409.2,855.7 409.4,865.4 409.5,901.4 410.2,906.3 411.1,898.0 411.2,878.4 411.3,862.8 411.3,835.9 411.6,849.0 411.8,881.7 411.8,847.7 412.1,796.2 412.7,863.4 413.4,868.0 413.7,877.2 413.9,873.9 414.1,840.5 414.1,889.5 414.8,851.6 415.0,843.1 415.2,874.9 415.3,792.7 415.8,873.1 416.5,945.3 416.9,909.5 417.3,855.4 417.9,899.6 417.9,860.0 418.5,882.2 418.5,871.3 418.9,850.6 418.9,868.8 419.1,860.1 419.5,891.7 419.6,875.4 419.7,898.7 420.2,890.1 420.3,876.8 420.4,848.1 420.4,858.1 420.8,862.0 421.1,873.8 421.3,904.8 421.7,869.3 421.9,863.3 422.0,839.4 422.1,883.5 422.2,943.8 422.4,881.6 422.6,863.2 422.6,914.5 422.7,890.7 422.8,878.6 422.9,903.4 423.1,871.7 423.5,884.9 423.8,867.0 424.1,944.6 424.2,879.5 424.6,885.5 425.0,876.8 425.3,899.5 425.3,867.4 425.4,902.7 425.4,850.9 425.7,898.9 426.2,860.8 426.3,891.0 427.0,876.4 427.1,884.6 427.7,879.4 428.5,867.9 428.6,925.4 429.1,835.0 429.7,867.0 430.4,875.7 430.8,882.2 431.0,906.8 431.2,909.8 431.2,885.8 432.2,890.8 432.4,865.0 432.6,856.0 432.7,854.9 432.8,873.8 433.8,888.1 433.9,867.5 434.9,853.6 435.0,887.7 435.2,841.6 435.3,863.5 436.1,881.6 436.5,871.2 436.8,878.1 437.0,855.6 437.1,919.2 437.5,851.1 437.9,897.6 438.8,834.8 439.5,879.8 439.8,929.6 440.7,817.6 440.8,910.8 441.0,903.5 442.0,883.4 442.5,851.2 442.6,863.4 442.8,847.7 443.1,862.7 443.3,840.2 443.5,844.5 443.8,836.4 444.4,824.4 445.0,883.8 445.1,837.6 445.8,845.3 445.8,853.9 446.3,866.1 446.9,849.0 447.2,843.2 447.3,905.8 448.8,844.5 449.1,846.8 449.1,850.6 449.2,850.4 449.3,864.3 449.9,865.7 450.1,867.8 451.1,895.4 451.1,871.3 451.1,846.1 451.3,834.4 451.4,869.4 451.5,894.7 451.9,894.3 452.1,841.5 452.3,848.0 452.8,854.5 452.9,895.0 454.2,848.5 454.5,867.9 454.9,866.3 455.5,866.2 455.8,853.1 456.0,915.5 456.1,887.4 456.5,851.4 456.6,906.1 456.7,864.5 457.3,906.1 457.3,903.6 458.2,897.8 458.8,866.8 459.1,822.4 459.4,856.3 459.6,874.9 460.1,890.3 460.3,870.6 461.1,883.1 461.1,875.7 461.1,848.6 461.7,876.2 462.2,855.9 463.1,881.1 463.8,819.9 463.8,832.0 463.8,855.4 465.2,896.7 465.8,885.7 466.0,869.9 466.2,864.5 466.3,806.6 466.6,837.0 466.8,850.7 466.8,837.9 466.9,814.5 467.2,858.9 467.3,864.8 467.4,826.5 467.4,839.9 467.4,927.3 467.5,851.6 467.9,871.7 468.5,816.1 468.8,852.9 468.8,880.3 469.6,825.1 470.4,854.9 470.9,862.6 471.9,854.5 472.0,877.9 472.6,884.8 472.6,887.5 473.2,864.7 473.9,850.2 474.0,880.5 474.3,889.1 474.9,814.7 475.0,861.0 475.8,896.3 476.0,896.6 476.1,868.1 476.1,861.0 476.3,907.1 476.4,872.5 477.8,910.1 479.1,886.7 479.7,887.6 481.0,857.7 481.0,854.6 481.3,883.9 481.6,922.5 481.7,861.5 481.8,914.1 481.9,869.4 482.2,826.8 482.8,877.5 483.0,863.7 483.2,886.8 484.7,907.9 485.4,861.3 485.5,899.6 486.0,845.0 486.2,900.5 486.4,903.2 486.4,890.6 486.5,884.5 487.3,901.5 487.7,846.3 488.6,913.1 489.0,874.6 489.5,894.1 489.8,851.8 490.2,867.6 490.5,888.1 490.5,885.7 490.9,877.1 491.1,872.5 491.2,903.5 491.8,841.2 491.9,811.3 492.0,826.9 492.1,816.3 492.8,889.3 493.5,903.8 493.6,876.1 494.0,874.7 494.1,850.0 494.1,925.1 494.8,885.4 494.9,897.1 495.0,919.4 495.2,886.2 495.5,906.4 495.7,875.9 495.9,829.4 496.1,868.1 496.4,862.5 496.4,857.6 496.9,891.0 497.2,850.0 497.4,858.1 498.2,863.5 498.2,949.1 498.5,826.5 498.6,889.7 498.8,851.1 499.0,872.0 499.1,850.3 499.3,883.5 499.7,853.1 499.8,858.8 500.5,883.2 500.6,871.2 500.7,831.5 501.3,867.8 502.0,847.6 502.2,850.7 502.2,831.6 502.7,865.8 502.7,865.4 502.8,871.7 502.9,851.6 503.3,845.6 503.3,855.8 503.5,864.6 503.6,862.5 504.0,874.8 504.4,856.1 504.6,872.1 505.0,844.7 505.7,856.2 506.2,849.7 506.2,857.2 506.9,889.3 507.2,909.5 507.2,893.5 507.5,857.6 508.0,840.0 508.1,851.7 508.6,865.2 508.9,879.5 509.3,827.5 509.5,816.1 509.5,868.0 510.6,815.7 510.6,877.0 510.7,871.7 510.8,895.8 511.1,872.0 511.3,863.6 511.8,869.0 511.9,870.6 512.1,824.8 512.6,869.9 512.7,888.7 513.0,865.8 513.6,868.6 514.0,818.3 514.3,908.6 514.8,882.7 515.0,837.6 515.3,857.6 515.3,859.1 515.4,896.7 515.6,854.1 515.6,880.0 515.9,881.6 516.9,882.5 517.0,845.3 517.4,852.3 517.5,874.4 519.1,842.6 519.2,854.8 519.3,893.0 519.4,895.3 519.5,849.4 520.2,855.6 520.6,829.0 520.7,870.4 520.9,843.6 522.0,876.8 522.7,860.8 523.0,852.0 523.3,888.9 523.9,887.3 524.7,881.9 525.7,891.6 525.8,815.4 525.9,941.8 526.0,863.8 526.5,869.4 526.7,911.3 526.8,864.4 526.9,883.0 527.9,884.2 528.4,850.4 528.5,852.2 528.7,845.3 529.2,844.7 529.5,875.7 530.7,868.2 531.2,863.5 531.6,841.8 531.8,842.5 532.4,851.4 532.8,830.9 533.9,846.6 533.9,841.0 534.6,887.2 534.8,859.5 534.8,870.9 534.9,902.5 536.8,852.7 536.8,840.2 537.3,850.6 537.4,835.7 537.6,847.8 538.7,874.6 539.0,861.9 539.1,885.1 539.2,884.2 539.6,881.2 539.7,891.9 540.5,873.9 541.8,819.3 542.2,805.4 542.7,859.1 542.8,875.5 542.9,887.3 543.0,844.0 543.1,818.9 544.0,864.1 544.3,880.2 544.3,857.3 544.3,851.6 544.4,855.5 544.8,878.2 545.6,874.2 546.3,870.0 546.5,905.5 547.2,852.7 547.9,883.1 548.0,849.2 548.8,843.0 549.1,889.7 549.2,851.8 549.3,822.5 549.5,898.6 549.8,904.9 549.9,880.7 550.5,886.4 550.7,906.4 550.7,867.4 550.8,863.4 550.9,870.0 551.2,870.2 551.3,869.4 552.3,868.3 552.4,892.3 552.7,889.3 553.3,849.9 553.6,865.6 553.8,885.8 554.1,826.4 554.7,840.1 555.0,876.4 555.3,865.1 555.4,856.4 555.5,881.4 555.6,849.1 556.6,879.2 556.7,901.6 557.2,877.7 557.3,894.5 557.9,881.0 558.0,879.3 558.2,887.2 558.4,854.1 558.5,879.7 558.7,894.8 558.7,895.4 558.8,879.8 559.1,840.5 559.5,867.5 559.8,865.8 560.0,871.0 561.5,876.0 561.7,885.0 562.7,866.8 562.8,885.9 563.1,871.8 563.2,863.1 563.4,867.1 563.5,889.0 563.6,865.8 564.4,871.4 564.9,899.9 565.1,827.2 565.4,865.3 566.5,905.2 567.4,914.7 567.4,863.9 568.0,893.2 568.2,883.6 568.4,897.0 568.8,851.5 569.1,874.4 569.2,794.1 569.5,856.0 569.5,861.6 569.9,853.4 570.9,870.9 571.0,861.2 571.7,838.3 572.9,913.2 573.0,901.5 573.1,877.3 573.5,847.2 573.7,888.9 573.8,877.3 574.4,805.9 574.5,886.3 574.6,904.5 574.8,881.9 576.1,839.6 576.8,830.6 576.9,829.5 577.0,840.9 577.6,855.6 578.1,801.0 579.8,857.1 579.8,856.6 579.9,843.1 580.4,823.2 580.5,841.0 580.6,837.8 581.4,848.4 582.2,871.7 582.5,856.7 582.7,839.6 583.3,882.1 583.4,812.7 583.7,879.0 584.9,894.0 585.7,887.9 586.5,858.7 587.5,851.0 588.3,856.3 588.6,797.8 588.7,858.1 589.3,822.7 589.5,832.5 589.5,846.3 589.7,871.6 589.7,899.5 590.0,853.8 590.1,838.4 590.5,839.9 590.5,847.0 590.8,876.2 591.0,873.1 591.2,897.8 591.4,828.4 591.6,844.3 592.7,844.4 592.7,886.6 593.5,855.8 593.6,851.3 594.4,862.9 594.6,829.7 595.2,839.8 596.0,865.1 596.9,854.3 597.0,913.1 597.3,850.8 597.3,856.6 597.3,873.8 597.4,864.0 598.1,864.5 598.6,833.0 599.1,841.5 600.2,844.4 600.6,856.3 601.1,854.1 601.4,876.1 601.5,855.1 601.6,862.8 601.6,917.6 601.8,850.8 602.5,783.1 602.6,844.4 602.9,829.3 603.9,881.9 604.1,863.3 604.6,860.1 604.8,850.8 604.9,886.1 605.1,878.6 605.3,865.9 605.5,866.4 605.6,854.3 606.1,845.5 606.7,854.3 606.8,846.7 606.8,849.9 606.8,841.7 607.0,814.4 607.2,839.7 607.3,835.0 607.5,820.4 608.0,826.8 608.2,854.7 608.4,862.6 608.9,862.7 610.1,869.4 610.3,870.5 611.3,820.2 611.8,859.5 612.1,876.6 612.6,884.9 612.6,877.5 612.9,918.6 613.5,866.4 614.2,855.9 614.9,905.3 615.2,888.5 615.9,836.3 616.2,853.5 616.3,869.7 616.4,878.9 616.5,823.8 616.5,842.5 616.6,819.8 616.7,857.7 617.0,892.4 617.3,831.9 618.1,885.7 618.5,836.5 619.3,854.9 619.4,873.0 619.8,863.7 620.2,857.3 620.3,864.2 620.8,874.2 621.1,867.1 621.6,842.5 622.1,865.1 622.5,832.0 622.6,854.2 622.8,888.0 624.1,851.3 624.4,849.7 624.5,792.7 624.6,851.9 624.7,864.5 625.1,831.1 625.6,845.1 626.3,848.0 626.4,863.9 626.8,799.7 626.9,871.9 627.2,850.9 628.1,823.0 628.1,885.6 628.8,810.0 629.6,845.1 629.6,860.3 630.0,792.7 630.2,831.6 630.3,832.6 630.6,843.4 630.6,838.5 630.6,828.0 631.1,836.5 631.4,836.0 631.9,828.6 631.9,863.0 632.9,825.2 634.9,897.1 635.1,863.0 635.2,888.8 635.2,856.2 635.2,869.7 635.5,828.3 635.7,917.9 635.7,813.1 636.0,854.1 636.0,866.7 636.2,856.4 636.6,828.6 636.7,817.1 637.0,821.5 637.1,837.3 637.5,846.5 637.8,819.4 637.8,870.3 638.0,831.1 638.3,819.0 639.0,860.6 639.5,856.3 640.2,831.4 641.1,859.6 641.2,852.9 641.7,865.7 641.8,818.2 642.1,869.6 643.2,844.5 643.4,834.8 643.4,862.3 644.4,898.6 644.6,853.8 645.2,861.4 645.3,845.1 645.7,869.4 645.8,823.1 646.3,860.3 646.4,850.7 646.9,869.4 646.9,841.8 647.1,871.3 647.7,876.7 647.9,879.1 647.9,878.4 648.4,895.2 648.5,854.6 648.9,877.3 649.1,885.3 649.5,853.7 650.8,850.3 650.8,876.0 651.2,879.9 651.4,868.9 651.7,878.3 651.7,894.3 651.9,840.6 652.0,878.4 652.0,878.2 652.3,865.1 652.3,876.1 653.1,844.2 653.2,914.8 653.8,889.0 654.5,838.6 654.9,874.1 655.0,871.0 655.6,889.1 656.1,873.5 656.4,861.3 656.9,949.1 657.1,867.8 657.2,909.4 657.6,861.4 657.7,829.2 657.8,897.7 657.8,892.3 657.9,871.9 658.1,894.6 658.2,888.9 658.3,787.0 658.3,877.7 658.6,871.7 658.9,889.3 658.9,876.9 660.2,880.3 660.3,851.4 660.5,862.7 661.1,861.7 661.6,872.8 661.7,869.5 662.4,877.8 662.7,920.2 670.3,811.8 674.1,846.1 676.6,819.4 679.1,876.6 681.6,804.1" stroke="#ff0000" stroke-width="0.6"/>
<path d="M400.6,847.2 400.7,850.6 400.7,878.8 400.7,926.4 401.2,893.5 401.8,890.7 402.3,881.1 402.6,833.5 403.5,838.7 403.7,848.4 403.9,816.3 403.9,845.8 404.0,861.3 404.5,869.1 404.9,864.7 406.0,868.5 406.3,841.5 406.8,836.3 408.3,871.6 408.6,849.0 408.7,874.0 408.9,834.5 409.0,888.9 409.2,856.4 409.4,865.6 409.5,899.6 410.2,904.2 411.1,896.4 411.2,877.9 411.3,863.1 411.3,837.8 411.6,850.1 411.8,881.0 411.8,848.9 412.1,802.4 412.7,863.7 413.4,868.0 413.7,876.8 413.9,873.7 414.1,842.1 414.1,888.4 414.8,852.6 415.0,844.6 415.2,874.6 415.3,802.4 415.8,872.9 416.5,933.8 416.9,907.2 417.3,856.1 417.9,897.9 417.9,860.5 418.5,881.5 418.5,871.2 418.9,851.6 418.9,868.8 419.1,860.6 419.5,890.4 419.6,875.0 419.7,897.1 420.2,888.9 420.3,876.3 420.4,849.3 420.4,858.7 420.8,862.4 421.1,873.5 421.3,902.8 421.7,869.2 421.9,863.6 422.0,841.1 422.1,882.7 422.2,939.6 422.4,880.8 422.6,863.5 422.6,911.9 422.7,889.4 422.8,878.1 422.9,901.4 423.1,871.6 423.5,884.0 423.8,867.1 424.1,940.4 424.2,878.9 424.6,884.6 425.0,876.4 425.3,897.8 425.3,867.5 425.4,900.8 425.4,851.9 425.7,897.2 426.2,861.3 426.3,889.7 427.0,876.0 427.1,883.7 427.7,878.8 428.5,867.9 428.6,922.2 429.1,837.0 429.7,867.1 430.4,875.3 430.8,881.4 431.0,904.7 431.2,907.5 431.2,884.9 432.2,889.5 432.4,865.2 432.6,856.7 432.7,855.7 432.8,873.5 433.8,887.0 433.9,867.6 434.9,854.5 435.0,886.6 435.2,843.1 435.3,863.8 436.1,880.9 436.5,871.1 436.8,877.5 437.0,856.4 437.1,916.3 437.5,852.1 437.9,896.0 438.8,836.7 439.5,879.2 439.8,926.1 440.7,820.5 440.8,908.4 441.0,901.6 442.0,882.6 442.5,852.2 442.6,863.7 442.8,848.9 443.1,863.1 443.3,841.8 443.5,845.8 443.8,838.2 444.4,826.9 445.0,883.0 445.1,839.4 445.8,846.6 445.8,854.7 446.3,866.2 446.9,850.1 447.2,844.6 447.3,903.7 448.8,845.9 449.1,848.0 449.1,851.7 449.2,851.5 449.3,864.6 449.9,865.9 450.1,867.9 451.1,893.9 451.1,871.1 451.1,847.4 451.3,836.4 451.4,869.4 451.5,893.3 451.9,892.9 452.1,843.1 452.3,849.1 452.8,855.3 452.9,893.5 454.2,849.7 454.5,868.0 454.9,866.4 455.5,866.4 455.8,854.0 456.0,912.8 456.1,886.4 456.5,852.4 456.6,904.0 456.7,864.8 457.3,904.0 457.3,901.6 458.2,896.2 458.8,866.9 459.1,825.0 459.4,857.0 459.6,874.6 460.1,889.1 460.3,870.5 461.1,882.3 461.1,875.4 461.1,849.7 461.7,875.8 462.2,856.7 463.1,880.4 463.8,822.7 463.8,834.1 463.8,856.1 465.2,895.1 465.8,884.7 466.0,869.9 466.2,864.7 466.3,810.2 466.6,838.8 466.8,851.8 466.8,839.7 466.9,817.5 467.2,859.4 467.3,865.0 467.4,828.9 467.4,841.6 467.4,924.0 467.5,852.6 467.9,871.6 468.5,819.1 468.8,853.8 468.8,879.7 469.6,827.6 470.4,855.7 470.9,862.9 471.9,855.3 472.0,877.4 472.6,883.9 472.6,886.5 473.2,865.0 473.9,851.3 474.0,879.8 474.3,887.9 474.9,817.8 475.0,861.5 475.8,894.8 476.0,895.0 476.1,868.2 476.1,861.5 476.3,905.0 476.4,872.3 477.8,907.8 479.1,885.7 479.7,886.6 481.0,858.3 481.0,855.4 481.3,883.1 481.6,919.5 481.7,861.9 481.8,911.6 481.9,869.3 482.2,829.2 482.8,877.0 483.0,864.0 483.2,885.8 484.7,905.7 485.4,861.7 485.5,897.9 486.0,846.4 486.2,898.7 486.4,901.2 486.4,889.4 486.5,883.6 487.3,899.7 487.7,847.6 488.6,910.6 489.0,874.3 489.5,892.7 489.8,852.8 490.2,867.7 490.5,887.0 490.5,884.8 490.9,876.7 491.1,872.3 491.2,901.5 491.8,842.8 491.9,814.6 492.0,829.2 492.1,819.3 492.8,888.1 493.5,901.8 493.6,875.7 494.0,874.4 494.1,851.1 494.1,921.9 494.8,884.5 494.9,895.6 495.0,916.6 495.2,885.3 495.5,904.3 495.7,875.5 495.9,831.7 496.1,868.2 496.4,862.8 496.4,858.3 496.9,889.8 497.2,851.1 497.4,858.7 498.2,863.8 498.2,937.4 498.5,828.9 498.6,888.5 498.8,852.2 499.0,871.8 499.1,851.4 499.3,882.7 499.7,854.0 499.8,859.4 500.5,882.4 500.6,871.1 500.7,833.6 501.3,867.9 502.0,848.8 502.2,851.7 502.2,833.7 502.7,866.0 502.7,865.6 502.8,871.6 502.9,852.6 503.3,846.9 503.3,856.5 503.5,864.9 503.6,862.9 504.0,874.5 504.4,856.9 504.6,871.9 505.0,846.0 505.7,857.0 506.2,850.8 506.2,857.9 506.9,888.1 507.2,907.2 507.2,892.1 507.5,858.2 508.0,841.6 508.1,852.7 508.6,865.4 508.9,878.9 509.3,829.8 509.5,819.1 509.5,868.0 510.6,818.8 510.6,876.5 510.7,871.5 510.8,894.3 511.1,871.9 511.3,863.9 511.8,869.0 511.9,870.5 512.1,827.3 512.6,869.8 512.7,887.5 513.0,865.9 513.6,868.6 514.0,821.2 514.3,906.3 514.8,881.9 515.0,839.4 515.3,858.3 515.3,859.7 515.4,895.2 515.6,855.0 515.6,879.4 515.9,880.9 516.9,881.7 517.0,846.7 517.4,853.3 517.5,874.1 519.1,844.1 519.2,855.6 519.3,891.6 519.4,893.8 519.5,850.5 520.2,856.4 520.6,831.3 520.7,870.3 520.9,845.1 522.0,876.4 522.7,861.3 523.0,853.0 523.3,887.7 523.9,886.3 524.7,881.1 525.7,890.3 525.8,818.4 525.9,937.6 526.0,864.1 526.5,869.4 526.7,908.9 526.8,864.7 526.9,882.2 527.9,883.3 528.4,851.4 528.5,853.2 528.7,846.6 529.2,846.0 529.5,875.3 530.7,868.3 531.2,863.8 531.6,843.3 531.8,844.0 532.4,852.4 532.8,833.1 533.9,847.9 533.9,842.6 534.6,886.1 534.8,860.0 534.8,870.8 534.9,900.6 536.8,853.6 536.8,841.9 537.3,851.7 537.4,837.6 537.6,849.0 538.7,874.3 539.0,862.3 539.1,884.2 539.2,883.4 539.6,880.5 539.7,890.6 540.5,873.7 541.8,822.2 542.2,809.0 542.7,859.7 542.8,875.2 542.9,886.2 543.0,845.4 543.1,821.7 544.0,864.4 544.3,879.6 544.3,857.9 544.3,852.6 544.4,856.3 544.8,877.7 545.6,873.9 546.3,870.0 546.5,903.4 547.2,853.6 547.9,882.3 548.0,850.3 548.8,844.5 549.1,888.6 549.2,852.8 549.3,825.1 549.5,896.9 549.8,902.9 549.9,880.1 550.5,885.4 550.7,904.3 550.7,867.5 550.8,863.7 550.9,870.0 551.2,870.2 551.3,869.4 552.3,868.4 552.4,891.0 552.7,888.1 553.3,851.0 553.6,865.8 553.8,884.9 554.1,828.8 554.7,841.8 555.0,876.0 555.3,865.4 555.4,857.1 555.5,880.7 555.6,850.3 556.6,878.6 556.7,899.7 557.2,877.2 557.3,893.0 557.9,880.3 558.0,878.7 558.2,886.1 558.4,854.9 558.5,879.0 558.7,893.3 558.7,893.9 558.8,879.2 559.1,842.1 559.5,867.5 559.8,866.0 560.0,870.9 561.5,875.6 561.7,884.1 562.7,866.9 562.8,885.0 563.1,871.6 563.2,863.5 563.4,867.2 563.5,887.8 563.6,866.0 564.4,871.3 564.9,898.1 565.1,829.5 565.4,865.5 566.5,903.1 567.4,912.1 567.4,864.2 568.0,891.8 568.2,882.8 568.4,895.4 568.8,852.5 569.1,874.1 569.2,802.4 569.5,856.7 569.5,862.0 569.9,854.3 570.9,870.8 571.0,861.7 571.7,840.1 572.9,910.7 573.0,899.6 573.1,876.9 573.5,848.4 573.7,887.8 573.8,876.8 574.4,809.5 574.5,885.4 574.6,902.5 574.8,881.1 576.1,841.2 576.8,832.7 576.9,831.7 577.0,842.5 577.6,856.4 578.1,804.9 579.8,857.8 579.8,857.3 579.9,844.6 580.4,825.8 580.5,842.6 580.6,839.5 581.4,849.6 582.2,871.5 582.5,857.4 582.7,841.3 583.3,881.3 583.4,815.8 583.7,878.5 584.9,892.5 585.7,886.9 586.5,859.3 587.5,852.0 588.3,857.0 588.6,802.4 588.7,858.8 589.3,825.3 589.5,834.6 589.5,847.6 589.7,871.5 589.7,897.8 590.0,854.7 590.1,840.2 590.5,841.6 590.5,848.2 590.8,875.8 591.0,872.9 591.2,896.2 591.4,830.7 591.6,845.7 592.7,845.8 592.7,885.6 593.5,856.6 593.6,852.3 594.4,863.3 594.6,831.9 595.2,841.5 596.0,865.3 596.9,855.2 597.0,910.6 597.3,851.9 597.3,857.3 597.3,873.5 597.4,864.3 598.1,864.8 598.6,835.0 599.1,843.0 600.2,845.8 600.6,857.0 601.1,854.9 601.4,875.7 601.5,855.9 601.6,863.2 601.6,914.8 601.8,851.9 602.5,797.0 602.6,845.8 602.9,831.5 603.9,881.2 604.1,863.6 604.6,860.6 604.8,851.8 604.9,885.1 605.1,878.0 605.3,866.1 605.5,866.6 605.6,855.2 606.1,846.8 606.7,855.2 606.8,848.0 606.8,851.0 606.8,843.3 607.0,817.5 607.2,841.3 607.3,836.9 607.5,823.1 608.0,829.2 608.2,855.5 608.4,862.9 608.9,863.0 610.1,869.4 610.3,870.4 611.3,823.0 611.8,860.1 612.1,876.2 612.6,884.0 612.6,877.1 612.9,915.8 613.5,866.6 614.2,856.7 614.9,903.3 615.2,887.4 615.9,838.2 616.2,854.4 616.3,869.6 616.4,878.4 616.5,826.4 616.5,844.0 616.6,822.5 616.7,858.3 617.0,891.1 617.3,834.0 618.1,884.7 618.5,838.4 619.3,855.7 619.4,872.7 619.8,864.0 620.2,857.9 620.3,864.4 620.8,873.9 621.1,867.2 621.6,844.0 622.1,865.3 622.5,834.1 622.6,855.1 622.8,886.9 624.1,852.3 624.4,850.8 624.5,802.4 624.6,852.9 624.7,864.7 625.1,833.2 625.6,846.4 626.3,849.2 626.4,864.2 626.8,803.7 626.9,871.7 627.2,851.9 628.1,825.6 628.1,884.7 628.8,813.4 629.6,846.4 629.6,860.8 630.0,802.4 630.2,833.7 630.3,834.6 630.6,844.8 630.6,840.2 630.6,830.3 631.1,838.4 631.4,837.9 631.9,830.9 631.9,863.4 632.9,827.7 634.9,895.6 635.1,863.4 635.2,887.7 635.2,856.9 635.2,869.6 635.5,830.6 635.7,915.1 635.7,816.3 636.0,854.9 636.0,866.8 636.2,857.1 636.6,830.8 636.7,820.0 637.0,824.2 637.1,839.1 637.5,847.8 637.8,822.2 637.8,870.3 638.0,833.2 638.3,821.8 639.0,861.1 639.5,857.0 640.2,833.5 641.1,860.2 641.2,853.9 641.7,865.9 641.8,821.1 642.1,869.6 643.2,845.9 643.4,836.7 643.4,862.6 644.4,896.9 644.6,854.6 645.2,861.8 645.3,846.4 645.7,869.4 645.8,825.7 646.3,860.8 646.4,851.8 646.9,869.4 646.9,843.3 647.1,871.1 647.7,876.3 647.9,878.5 647.9,877.9 648.4,893.8 648.5,855.4 648.9,876.8 649.1,884.4 649.5,854.6 650.8,851.3 650.8,875.6 651.2,879.3 651.4,868.9 651.7,877.8 651.7,892.8 651.9,842.2 652.0,877.9 652.0,877.7 652.3,865.3 652.3,875.7 653.1,845.6 653.2,912.2 653.8,887.9 654.5,840.3 654.9,873.8 655.0,870.9 655.6,888.0 656.1,873.2 656.4,861.7 656.9,941.0 657.1,867.9 657.2,907.1 657.6,861.8 657.7,831.5 657.8,896.1 657.8,891.0 657.9,871.7 658.1,893.2 658.2,887.8 658.3,797.0 658.3,877.2 658.6,871.6 658.9,888.1 658.9,876.5 660.2,879.7 660.3,852.4 660.5,863.1 661.1,862.1 661.6,872.6 661.7,869.5 662.4,877.3 662.7,917.3 670.3,818.6 674.1,851.0 676.6,825.8 679.1,876.2 681.6,811.4" stroke="#0000ff" stroke-width="0.75"/>
<path d="M400.6,875.1 440.1,875.1" stroke="#19c8fa" stroke-width="2.2"/>
<path d="M551.5,860.7 681.8,860.7" stroke="#19c8fa" stroke-width="2.2"/>
</g>
<line x1="400.60" y1="761.00" x2="400.60" y2="959.50" stroke="#555555" stroke-width="1"/>
<line x1="400.10" y1="959.00" x2="681.80" y2="959.00" stroke="#555555" stroke-width="1"/>
<line x1="411.50" y1="959.00" x2="411.50" y2="956.00" stroke="#555555" stroke-width="1"/>
<text x="411.50" y="971.80" text-anchor="middle" class="tk">2009</text>
<line x1="436.63" y1="959.00" x2="436.63" y2="956.00" stroke="#555555" stroke-width="1"/>
<text x="436.63" y="971.80" text-anchor="middle" class="tk">2010</text>
<line x1="461.76" y1="959.00" x2="461.76" y2="956.00" stroke="#555555" stroke-width="1"/>
<text x="461.76" y="971.80" text-anchor="middle" class="tk">2011</text>
<line x1="486.89" y1="959.00" x2="486.89" y2="956.00" stroke="#555555" stroke-width="1"/>
<text x="486.89" y="971.80" text-anchor="middle" class="tk">2012</text>
<line x1="512.02" y1="959.00" x2="512.02" y2="956.00" stroke="#555555" stroke-width="1"/>
<text x="512.02" y="971.80" text-anchor="middle" class="tk">2013</text>
<line x1="537.15" y1="959.00" x2="537.15" y2="956.00" stroke="#555555" stroke-width="1"/>
<text x="537.15" y="971.80" text-anchor="middle" class="tk">2014</text>
<line x1="562.28" y1="959.00" x2="562.28" y2="956.00" stroke="#555555" stroke-width="1"/>
<text x="562.28" y="971.80" text-anchor="middle" class="tk">2015</text>
<line x1="587.41" y1="959.00" x2="587.41" y2="956.00" stroke="#555555" stroke-width="1"/>
<text x="587.41" y="971.80" text-anchor="middle" class="tk">2016</text>
<line x1="612.54" y1="959.00" x2="612.54" y2="956.00" stroke="#555555" stroke-width="1"/>
<text x="612.54" y="971.80" text-anchor="middle" class="tk">2017</text>
<line x1="637.67" y1="959.00" x2="637.67" y2="956.00" stroke="#555555" stroke-width="1"/>
<text x="637.67" y="971.80" text-anchor="middle" class="tk">2018</text>
<line x1="662.80" y1="959.00" x2="662.80" y2="956.00" stroke="#555555" stroke-width="1"/>
<text x="662.80" y="971.80" text-anchor="middle" class="tk">2019</text>
<line x1="400.60" y1="959.00" x2="403.60" y2="959.00" stroke="#555555" stroke-width="1"/>
<text x="397.00" y="962.00" text-anchor="end" class="tk">-2.5</text>
<line x1="400.60" y1="941.00" x2="403.60" y2="941.00" stroke="#555555" stroke-width="1"/>
<text x="397.00" y="944.00" text-anchor="end" class="tk">-2</text>
<line x1="400.60" y1="923.00" x2="403.60" y2="923.00" stroke="#555555" stroke-width="1"/>
<text x="397.00" y="926.00" text-anchor="end" class="tk">-1.5</text>
<line x1="400.60" y1="905.00" x2="403.60" y2="905.00" stroke="#555555" stroke-width="1"/>
<text x="397.00" y="908.00" text-anchor="end" class="tk">-1</text>
<line x1="400.60" y1="887.00" x2="403.60" y2="887.00" stroke="#555555" stroke-width="1"/>
<text x="397.00" y="890.00" text-anchor="end" class="tk">-0.5</text>
<line x1="400.60" y1="869.00" x2="403.60" y2="869.00" stroke="#555555" stroke-width="1"/>
<text x="397.00" y="872.00" text-anchor="end" class="tk">0</text>
<line x1="400.60" y1="851.00" x2="403.60" y2="851.00" stroke="#555555" stroke-width="1"/>
<text x="397.00" y="854.00" text-anchor="end" class="tk">0.5</text>
<line x1="400.60" y1="833.00" x2="403.60" y2="833.00" stroke="#555555" stroke-width="1"/>
<text x="397.00" y="836.00" text-anchor="end" class="tk">1</text>
<line x1="400.60" y1="815.00" x2="403.60" y2="815.00" stroke="#555555" stroke-width="1"/>
<text x="397.00" y="818.00" text-anchor="end" class="tk">1.5</text>
<line x1="400.60" y1="797.00" x2="403.60" y2="797.00" stroke="#555555" stroke-width="1"/>
<text x="397.00" y="800.00" text-anchor="end" class="tk">2</text>
<line x1="400.60" y1="779.00" x2="403.60" y2="779.00" stroke="#555555" stroke-width="1"/>
<text x="397.00" y="782.00" text-anchor="end" class="tk">2.5</text>
<line x1="400.60" y1="761.00" x2="403.60" y2="761.00" stroke="#555555" stroke-width="1"/>
<text x="397.00" y="764.00" text-anchor="end" class="tk">3</text>
<text x="541.20" y="983.40" text-anchor="middle" class="al">t [years]</text>
<text transform="translate(377.70,860.00) rotate(-90)" text-anchor="middle" class="al">RB [cm]</text>
<text x="541.20" y="757.70" text-anchor="middle" class="ti" style="white-space:pre">JA2    7090 (50107M001)</text>
<line x1="405.90" y1="772.50" x2="411.00" y2="772.50" stroke="#0000ff" stroke-width="1"/>
<line x1="405.90" y1="782.50" x2="411.00" y2="782.50" stroke="#ff0000" stroke-width="1"/>
<text x="413.50" y="774.90" class="lg" style="fill:#0000ff;stroke:#0000ff">SLRF2020, RB est.</text>
<text x="413.50" y="784.80" class="lg" style="fill:#ff0000;stroke:#ff0000">SLRF2014, RB est.</text>
<text x="502.06" y="774.90" class="lg">Wmean(Δ): -0.021 cm</text>
<text x="502.06" y="784.80" class="lg">Wmean:</text>
<text x="586.36" y="784.80" class="lg" text-anchor="end">0.059 cm</text>
<text x="600.81" y="774.90" class="lg">WRMS(Δ): 0.579 cm</text>
<text x="600.81" y="784.80" class="lg">WRMS:</text>
<text x="680.01" y="784.80" class="lg" text-anchor="end">0.646 cm</text>
<text x="406.20" y="952.20" class="lg">outliers: 1 %</text>
<text x="672.70" y="952.70" class="cy" text-anchor="end">– RB ILRS DHF for SLRF2020</text>
<text x="347.20" y="986.30" class="pl">(h)</text>
</g>
</svg>
</body></html>
